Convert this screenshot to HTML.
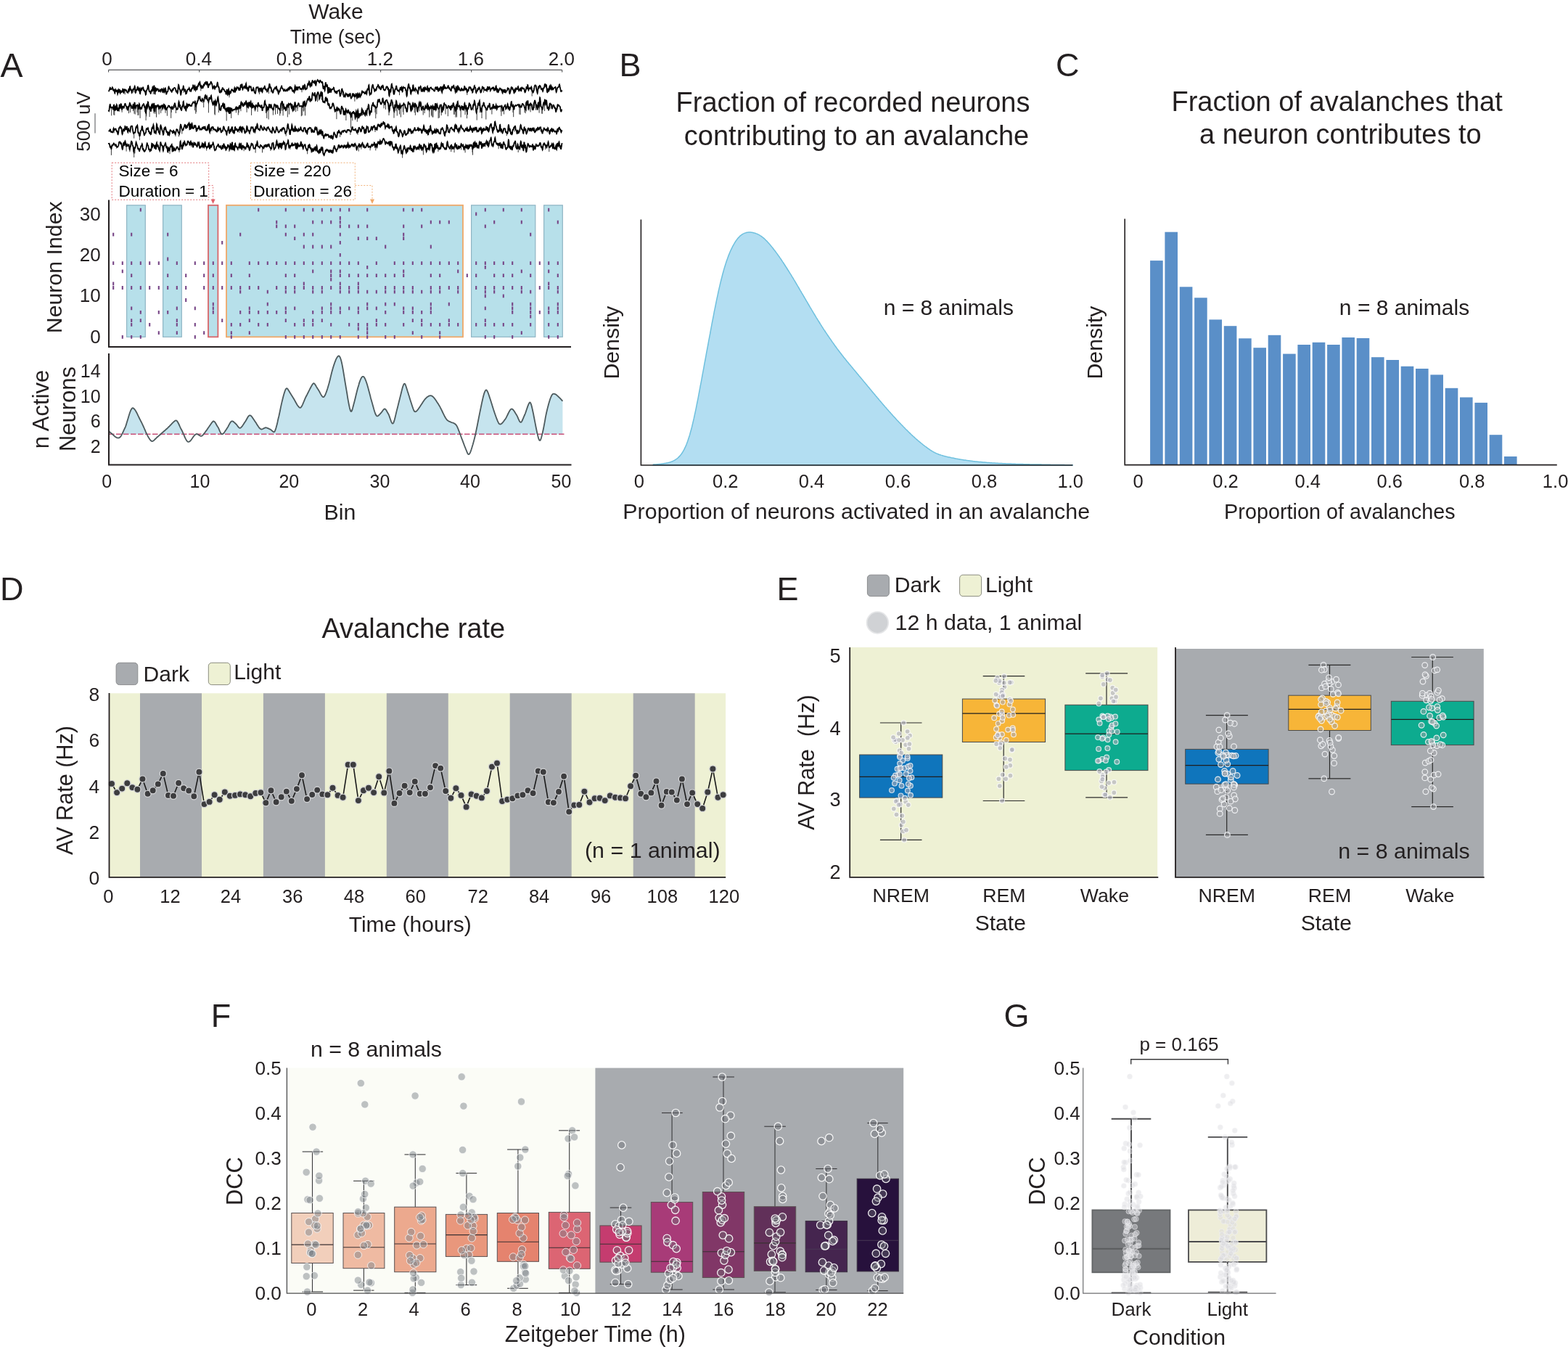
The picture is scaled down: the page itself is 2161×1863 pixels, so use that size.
<!DOCTYPE html>
<html lang="en">
<head>
<meta charset="utf-8">
<title>Neuronal avalanches figure</title>
<style>
html,body{margin:0;padding:0;background:#fff;}
body{width:2161px;height:1863px;font-family:"Liberation Sans", sans-serif;}
svg{display:block;}
text{white-space:pre;}
</style>
</head>
<body>
<svg width="2161" height="1863" viewBox="0 0 2161 1863" font-family='"Liberation Sans", sans-serif' fill="#231f20">
<g id="panel-a">
<text x="463" y="25.6" font-size="30" text-anchor="middle">Wake</text>
<text x="462.6" y="59.5" font-size="26.8" text-anchor="middle">Time (sec)</text>
<text x="0.5" y="105.8" font-size="46.5">A</text>
<line x1="149.6" y1="96.3" x2="774.6" y2="96.3" stroke="#58595b" stroke-width="1.2"/>
<line x1="149.6" y1="96.3" x2="149.6" y2="99.5" stroke="#58595b" stroke-width="1.2"/>
<text x="147.4" y="90.2" font-size="26" text-anchor="middle">0</text>
<line x1="274.6" y1="96.3" x2="274.6" y2="99.5" stroke="#58595b" stroke-width="1.2"/>
<text x="273.9" y="90.2" font-size="26" text-anchor="middle">0.4</text>
<line x1="399.6" y1="96.3" x2="399.6" y2="99.5" stroke="#58595b" stroke-width="1.2"/>
<text x="398.9" y="90.2" font-size="26" text-anchor="middle">0.8</text>
<line x1="524.6" y1="96.3" x2="524.6" y2="99.5" stroke="#58595b" stroke-width="1.2"/>
<text x="523.9" y="90.2" font-size="26" text-anchor="middle">1.2</text>
<line x1="649.6" y1="96.3" x2="649.6" y2="99.5" stroke="#58595b" stroke-width="1.2"/>
<text x="648.9" y="90.2" font-size="26" text-anchor="middle">1.6</text>
<line x1="774.6" y1="96.3" x2="774.6" y2="99.5" stroke="#58595b" stroke-width="1.2"/>
<text x="773.9" y="90.2" font-size="26" text-anchor="middle">2.0</text>
<text x="124.3" y="167.5" font-size="26" text-anchor="middle" transform="rotate(-90 124.3 167.5)">500 uV</text>
<line x1="131" y1="156.3" x2="131" y2="183.6" stroke="#6d6e71" stroke-width="1.2"/>
<path d="M172.2,123.9v6.4M184.7,122.8v4.8M211.2,124.2v5.7M212.8,122.3v3.6M214.5,121.3v4.8M227.8,121.4v4.2M253.2,120.7v7.1M255.7,125.2v5.3M275.4,113.2v5M276.8,118.1v7.2M313.6,129.3v2.9M316,130.2v4.1M357.4,122.8v7.2M370.4,121.7v7.3M372,118.1v4M373.5,120.6v6.6M406.9,119.1v7.3M416,123.2v4M420.9,121.1v2.6M448.8,113.5v3.4M471.8,124v7.5M488.9,133.3v6.5M496.8,132.7v2.6M550.5,124.4v6.8M558.4,121.5v3.5M562,121.3v3.6M572.4,121.7v5.7M578.4,121v3.5M607.2,121.4v4.5M617.3,118.5v2.8M640.9,121.2v3.5M643.8,127.1v3.9M666.4,120.8v6.9M675.5,123.7v3.2M676.7,122.6v2.2M733.2,125.4v7.2M736.1,121.9v3.3" fill="none" stroke="#3a3a3a" stroke-width="1" />
<path d="M149.6,126.2 149.8,125.9 150.1,125.3 150.3,124.7 150.6,124.4 150.8,124 151,123.3 151.3,122.3 151.5,121.3 151.8,120.7 152,120.9 152.2,121.7 152.5,122.6 152.7,123.1 153,123.1 153.2,122.8 153.4,122.6 153.7,122.7 153.9,122.8 154.2,122.5 154.4,121.8 154.7,120.9 154.9,120.3 155.1,120.5 155.4,121.5 155.6,122.8 155.9,124 156.1,124.7 156.3,124.8 156.6,124.5 156.8,123.9 157.1,123.5 157.3,123.7 157.5,124.8 157.8,126.6 158,128 158.3,128.4 158.5,127.2 158.7,125.2 159,123.7 159.2,123.2 159.5,123.9 159.7,124.9 159.9,125.6 160.2,125.9 160.4,125.8 160.7,125.4 160.9,124.9 161.1,124.6 161.4,125 161.6,126.4 161.9,128.3 162.1,129.3 162.3,128.7 162.6,126.6 162.8,124.6 163.1,123.8 163.3,124.5 163.5,125.7 163.8,126.3 164,125.8 164.3,124.6 164.5,123.7 164.8,123.7 165,124.8 165.2,126.4 165.5,127.9 165.7,128.4 166,127.7 166.2,126.3 166.4,125.2 166.7,125.1 166.9,125.8 167.2,126.7 167.4,127.1 167.6,127 167.9,126.7 168.1,126.4 168.4,126.2 168.6,125.8 168.8,124.9 169.1,123.6 169.3,122.6 169.6,122.8 169.8,124.2 170,126.4 170.3,128 170.5,128.1 170.8,126.9 171,125.1 171.2,123.8 171.5,123.4 171.7,123.6 172,123.9 172.2,123.9 172.4,123.7 172.7,123.5 172.9,123.8 173.2,124.4 173.4,124.8 173.6,124.8 173.9,124.5 174.1,124.4 174.4,124.9 174.6,125.8 174.9,126.6 175.1,127 175.3,126.9 175.6,126.7 175.8,126.9 176.1,127.4 176.3,127.7 176.5,127.1 176.8,125.7 177,124.1 177.3,123.3 177.5,123.7 177.7,124.8 178,125.4 178.2,124.8 178.5,123 178.7,121 178.9,119.5 179.2,119.3 179.4,120.3 179.7,121.9 179.9,123.3 180.1,123.9 180.4,123.7 180.6,123.3 180.9,123.4 181.1,124.3 181.3,125.8 181.6,127.3 181.8,127.9 182.1,127.5 182.3,126.6 182.5,125.6 182.8,124.7 183,123.9 183.3,123.2 183.5,122.6 183.7,122.4 184,122.5 184.2,122.8 184.5,123 184.7,122.8 185,122 185.2,120.8 185.4,119.5 185.7,118.9 185.9,119.6 186.2,121.7 186.4,124.4 186.6,126.8 186.9,127.8 187.1,127.5 187.4,126.2 187.6,124.8 187.8,123.9 188.1,123.8 188.3,124 188.6,124.1 188.8,123.5 189,122.4 189.3,121 189.5,120.1 189.8,119.8 190,120.3 190.2,121.5 190.5,122.8 190.7,123.9 191,124.3 191.2,123.7 191.4,122.5 191.7,121.5 191.9,121.4 192.2,122.7 192.4,124.9 192.6,127.3 192.9,128.8 193.1,129 193.4,127.9 193.6,126 193.8,123.9 194.1,122.2 194.3,121.7 194.6,122.3 194.8,123.5 195.1,124.1 195.3,123.8 195.5,122.7 195.8,121.9 196,121.7 196.3,121.9 196.5,121.9 196.7,121.2 197,120.4 197.2,120.4 197.5,121.5 197.7,123.1 197.9,124.4 198.2,124.7 198.4,124.4 198.7,124.3 198.9,124.9 199.1,125.7 199.4,126.2 199.6,126.1 199.9,125.8 200.1,126.3 200.3,127.7 200.6,129.5 200.8,130.5 201.1,130.2 201.3,128.7 201.5,126.8 201.8,125.2 202,124.4 202.3,124 202.5,123.8 202.7,123.5 203,122.8 203.2,121.7 203.5,120.4 203.7,119 203.9,118 204.2,117.8 204.4,118.5 204.7,119.9 204.9,121.7 205.2,123.5 205.4,124.8 205.6,125.7 205.9,126.2 206.1,126.3 206.4,126.1 206.6,126 206.8,126.2 207.1,127 207.3,128.1 207.6,128.9 207.8,128.8 208,127.7 208.3,126.1 208.5,124.8 208.8,124.3 209,124.6 209.2,125.2 209.5,125.4 209.7,124.5 210,122.8 210.2,121.1 210.4,120.2 210.7,120.7 210.9,122.3 211.2,124.2 211.4,125.3 211.6,124.5 211.9,122.1 212.1,119.2 212.4,117.7 212.6,118.8 212.8,122.3 213.1,126.3 213.3,128.9 213.6,129.1 213.8,127.2 214,124.6 214.3,122.4 214.5,121.3 214.8,121.6 215,122.7 215.3,124.2 215.5,125.1 215.7,125 216,124.1 216.2,123.1 216.5,122.5 216.7,122.6 216.9,123 217.2,123.1 217.4,122.8 217.7,122.5 217.9,122.7 218.1,123.8 218.4,125 218.6,125.8 218.9,125.9 219.1,125.6 219.3,125.5 219.6,125.6 219.8,125.6 220.1,125.1 220.3,124.2 220.5,123.5 220.8,123.7 221,124.7 221.3,125.8 221.5,126.2 221.7,125.9 222,124.9 222.2,123.9 222.5,123.2 222.7,122.7 222.9,122.4 223.2,122.3 223.4,122.7 223.7,123.5 223.9,124.8 224.1,126.2 224.4,127.2 224.6,127.3 224.9,126.4 225.1,124.8 225.4,123.2 225.6,122.6 225.8,123.2 226.1,124.7 226.3,126.2 226.6,126.9 226.8,126.4 227,125.2 227.3,123.7 227.5,122.3 227.8,121.4 228,121.4 228.2,122.6 228.5,124.6 228.7,126.8 229,128.6 229.2,129.5 229.4,129.5 229.7,128.8 229.9,127.8 230.2,127 230.4,126.5 230.6,126.4 230.9,126.4 231.1,126.1 231.4,125.4 231.6,124.2 231.8,122.6 232.1,120.9 232.3,119.8 232.6,119.4 232.8,119.9 233,120.9 233.3,121.8 233.5,122.4 233.8,122.5 234,122.4 234.2,122.5 234.5,122.8 234.7,123.5 235,124.2 235.2,124.8 235.5,124.9 235.7,124.9 235.9,125.1 236.2,125.7 236.4,126.5 236.7,126.8 236.9,126.3 237.1,125.1 237.4,123.7 237.6,123.1 237.9,123.3 238.1,124 238.3,124.4 238.6,124.2 238.8,123.4 239.1,122.4 239.3,121.7 239.5,121.5 239.8,121.4 240,121.3 240.3,121.1 240.5,120.9 240.7,120.9 241,121.1 241.2,121.3 241.5,121.7 241.7,122.1 241.9,122.9 242.2,124 242.4,125.2 242.7,126 242.9,126.3 243.1,125.9 243.4,125.5 243.6,125.4 243.9,125.8 244.1,126.8 244.3,127.9 244.6,128.4 244.8,127.8 245.1,125.9 245.3,123 245.6,120 245.8,117.8 246,116.8 246.3,117.1 246.5,118.1 246.8,119.6 247,121.1 247.2,122.2 247.5,122.9 247.7,123.1 248,123.4 248.2,124.1 248.4,125.6 248.7,127.6 248.9,129.5 249.2,130.5 249.4,130.2 249.6,128.8 249.9,127 250.1,125.5 250.4,124.4 250.6,123.7 250.8,123.2 251.1,123.1 251.3,123.4 251.6,123.7 251.8,123.5 252,122.5 252.3,121.1 252.5,119.6 252.8,118.9 253,119.3 253.2,120.7 253.5,122.6 253.7,124.3 254,125.3 254.2,125.4 254.4,124.8 254.7,124 254.9,123.4 255.2,123.4 255.4,124 255.7,125.2 255.9,126.6 256.1,127.9 256.4,128.8 256.6,129.1 256.9,128.9 257.1,128.4 257.3,127.5 257.6,126.5 257.8,125.5 258.1,124.6 258.3,124 258.5,123.7 258.8,123.4 259,123.1 259.3,122.9 259.5,123 259.7,123.1 260,123 260.2,122.4 260.5,121.6 260.7,121.2 260.9,121.7 261.2,122.9 261.4,124.3 261.7,125.3 261.9,125.5 262.1,125 262.4,124.4 262.6,124.2 262.9,124.7 263.1,125.3 263.3,125.6 263.6,125 263.8,123.8 264.1,122.4 264.3,121.5 264.5,121.4 264.8,121.8 265,122.1 265.3,121.7 265.5,120.6 265.8,119.2 266,118 266.2,117.4 266.5,117.6 266.7,118.3 267,119.6 267.2,121.2 267.4,122.7 267.7,123.3 267.9,122.6 268.2,120.7 268.4,119 268.6,118.5 268.9,119.6 269.1,121.7 269.4,123.5 269.6,124.1 269.8,123.3 270.1,121.9 270.3,120.6 270.6,120.2 270.8,120.9 271,122.2 271.3,123.3 271.5,123.3 271.8,122.1 272,120.3 272.2,118.8 272.5,118.4 272.7,118.7 273,118.8 273.2,118.1 273.4,116.6 273.7,115.3 273.9,115 274.2,115.7 274.4,116.5 274.6,116.3 274.9,115.1 275.1,113.7 275.4,113.2 275.6,114.2 275.9,116.3 276.1,118.3 276.3,119.2 276.6,118.9 276.8,118.1 277.1,117.9 277.3,118.8 277.5,120.3 277.8,121.4 278,121.5 278.3,120.7 278.5,119.5 278.7,118.9 279,119.1 279.2,119.9 279.5,120.7 279.7,120.9 279.9,120.2 280.2,118.7 280.4,117.3 280.7,116.5 280.9,116.6 281.1,117.3 281.4,117.8 281.6,117.5 281.9,116.3 282.1,114.9 282.3,114.1 282.6,114.3 282.8,115 283.1,115.3 283.3,114.8 283.5,113.7 283.8,113 284,113.3 284.3,114.5 284.5,115.7 284.7,116 285,115.2 285.2,113.9 285.5,113.1 285.7,113.3 286,114.6 286.2,116.4 286.4,118.3 286.7,119.7 286.9,120.4 287.2,120.3 287.4,119.4 287.6,118.1 287.9,116.8 288.1,116 288.4,115.8 288.6,116 288.8,116.3 289.1,116.6 289.3,116.5 289.6,116 289.8,115.2 290,114.3 290.3,113.5 290.5,112.9 290.8,112.7 291,112.9 291.2,113.4 291.5,114.2 291.7,114.8 292,115.2 292.2,115.8 292.4,116.8 292.7,118.5 292.9,120.3 293.2,121.7 293.4,122.2 293.6,122 293.9,121.5 294.1,120.9 294.4,120.4 294.6,119.7 294.8,119 295.1,118.6 295.3,119.1 295.6,120.3 295.8,121.7 296.1,122.5 296.3,122.2 296.5,121 296.8,120 297,119.5 297.3,119.7 297.5,120 297.7,120 298,119.8 298.2,119.6 298.5,119.3 298.7,118.7 298.9,117.6 299.2,116.1 299.4,114.7 299.7,113.8 299.9,114 300.1,115.2 300.4,117.1 300.6,118.8 300.9,119.8 301.1,119.8 301.3,119.5 301.6,119.8 301.8,121.2 302.1,123.3 302.3,125.4 302.5,126.8 302.8,127.3 303,127.4 303.3,127.5 303.5,127.6 303.7,127.2 304,126.2 304.2,125.1 304.5,124.6 304.7,125 304.9,125.9 305.2,126.3 305.4,125.9 305.7,124.8 305.9,123.5 306.2,122.5 306.4,121.7 306.6,121.2 306.9,121.1 307.1,121.5 307.4,122.3 307.6,123 307.8,123.3 308.1,123.2 308.3,123.1 308.6,123.1 308.8,123.5 309,124 309.3,124.5 309.5,125.1 309.8,125.7 310,126.1 310.2,126.1 310.5,126 310.7,126.1 311,126.8 311.2,128.1 311.4,129.2 311.7,129.5 311.9,128.6 312.2,126.8 312.4,125 312.6,123.8 312.9,123.9 313.1,125.2 313.4,127.3 313.6,129.3 313.8,130.2 314.1,129.7 314.3,127.7 314.6,125.2 314.8,123.3 315,122.9 315.3,124.2 315.5,126.6 315.8,129 316,130.2 316.3,129.9 316.5,128.5 316.7,127 317,126.4 317.2,126.8 317.5,127.6 317.7,128.2 317.9,128.1 318.2,127.2 318.4,126 318.7,124.9 318.9,124.2 319.1,123.6 319.4,123.2 319.6,123.1 319.9,123.2 320.1,123.7 320.3,124.3 320.6,124.8 320.8,125 321.1,124.9 321.3,124.8 321.5,125 321.8,125.6 322,126.4 322.3,126.6 322.5,125.8 322.7,123.9 323,122.1 323.2,121.4 323.5,122.6 323.7,124.8 323.9,126.5 324.2,126.6 324.4,125.1 324.7,123.3 324.9,122.4 325.1,122.8 325.4,123.7 325.6,124 325.9,123.4 326.1,122.1 326.4,120.8 326.6,120.2 326.8,120.4 327.1,120.9 327.3,121.3 327.6,121.4 327.8,121.2 328,120.8 328.3,120.6 328.5,121 328.8,122 329,123.2 329.2,123.9 329.5,123.6 329.7,122.6 330,121.7 330.2,121.7 330.4,122.7 330.7,123.8 330.9,123.6 331.2,121.9 331.4,119.2 331.6,117.3 331.9,117 332.1,118.3 332.4,120 332.6,120.7 332.8,119.8 333.1,117.9 333.3,116.4 333.6,116.3 333.8,118 334,120.5 334.3,122.5 334.5,123.2 334.8,122.7 335,121.7 335.2,121.1 335.5,121 335.7,120.9 336,120.4 336.2,119.6 336.5,118.8 336.7,118.7 336.9,119.2 337.2,120.2 337.4,121.1 337.7,121.7 337.9,121.6 338.1,120.8 338.4,119.3 338.6,117.5 338.9,115.8 339.1,115.3 339.3,116.5 339.6,118.8 339.8,121.2 340.1,122.5 340.3,122.5 340.5,121.5 340.8,120.6 341,120.6 341.3,121.6 341.5,123.2 341.7,124.6 342,125.4 342.2,125.3 342.5,124.2 342.7,122.5 342.9,120.7 343.2,119.4 343.4,119 343.7,119.4 343.9,120 344.1,120.3 344.4,120.1 344.6,119.6 344.9,119.3 345.1,119.2 345.3,119.1 345.6,119.2 345.8,119.7 346.1,120.9 346.3,122.6 346.6,124 346.8,124.7 347,124.5 347.3,124.1 347.5,124 347.8,124.5 348,124.9 348.2,124.8 348.5,123.9 348.7,122.6 349,121.5 349.2,121 349.4,121.3 349.7,122.1 349.9,123.4 350.2,124.7 350.4,125.9 350.6,126.8 350.9,127.3 351.1,127.7 351.4,128.3 351.6,128.7 351.8,128.8 352.1,128.2 352.3,126.8 352.6,125 352.8,123.2 353,121.6 353.3,120.5 353.5,120.2 353.8,120.3 354,120.6 354.2,120.8 354.5,120.8 354.7,120.8 355,120.6 355.2,120.2 355.4,120 355.7,120.4 355.9,121.6 356.2,123.4 356.4,125 356.7,125.7 356.9,125.1 357.1,123.9 357.4,122.8 357.6,122.3 357.9,122.1 358.1,121.9 358.3,121.7 358.6,121.9 358.8,123 359.1,124.6 359.3,125.6 359.5,125.5 359.8,124.2 360,122.6 360.3,121.9 360.5,122.3 360.7,123.6 361,125.2 361.2,126.5 361.5,127 361.7,126.4 361.9,125 362.2,123.3 362.4,122.1 362.7,121.7 362.9,121.9 363.1,122.1 363.4,122.1 363.6,121.9 363.9,121.5 364.1,120.9 364.3,120 364.6,119.1 364.8,118.8 365.1,119.6 365.3,121.3 365.5,122.8 365.8,123.5 366,123.3 366.3,122.7 366.5,122.6 366.8,122.9 367,123.4 367.2,123.8 367.5,124.2 367.7,124.9 368,125.8 368.2,126.6 368.4,126.5 368.7,125.6 368.9,124.1 369.2,122.5 369.4,121.6 369.6,121.5 369.9,121.9 370.1,122.2 370.4,121.7 370.6,120.3 370.8,118.4 371.1,116.7 371.3,115.8 371.6,115.9 371.8,116.8 372,118.1 372.3,119.6 372.5,120.7 372.8,121.1 373,120.8 373.2,120.4 373.5,120.6 373.7,121.5 374,122.7 374.2,123.7 374.4,124.3 374.7,124.7 374.9,125.2 375.2,125.9 375.4,126.8 375.6,127.4 375.9,127.8 376.1,127.8 376.4,127.5 376.6,126.6 376.9,125.4 377.1,124.1 377.3,123.2 377.6,122.7 377.8,122.7 378.1,122.7 378.3,122.5 378.5,122 378.8,121.2 379,120.6 379.3,120.7 379.5,121.4 379.7,122.2 380,122.3 380.2,121.6 380.5,120.3 380.7,119.3 380.9,119.2 381.2,120.2 381.4,121.8 381.7,123.5 381.9,124.6 382.1,124.8 382.4,124.3 382.6,123.6 382.9,123.8 383.1,125.1 383.3,127.1 383.6,128.7 383.8,129.1 384.1,128.2 384.3,126.8 384.5,125.7 384.8,125.4 385,125.6 385.3,126 385.5,126.2 385.7,125.8 386,124.8 386.2,123.5 386.5,122.4 386.7,121.7 387,121.4 387.2,121.2 387.4,120.5 387.7,119.5 387.9,118.6 388.2,118.5 388.4,119.4 388.6,120.7 388.9,121.7 389.1,122 389.4,121.9 389.6,121.8 389.8,122.1 390.1,122.7 390.3,123.5 390.6,124.2 390.8,124.9 391,125.3 391.3,125.4 391.5,125.1 391.8,124.5 392,123.7 392.2,123.2 392.5,123.2 392.7,123.8 393,124.5 393.2,125.1 393.4,125.4 393.7,125.6 393.9,125.5 394.2,125.4 394.4,125.1 394.6,124.6 394.9,124 395.1,123.4 395.4,123 395.6,123 395.8,123.6 396.1,124.4 396.3,124.9 396.6,124.5 396.8,123.5 397.1,122.2 397.3,121.4 397.5,121.3 397.8,121.9 398,122.8 398.3,123.3 398.5,122.8 398.7,121.6 399,120.4 399.2,120 399.5,120.5 399.7,121.4 399.9,122 400.2,121.6 400.4,120.7 400.7,120 400.9,120.2 401.1,120.9 401.4,121.7 401.6,121.9 401.9,121.6 402.1,121.5 402.3,122 402.6,123.3 402.8,124.7 403.1,125.6 403.3,125.8 403.5,125.6 403.8,125.3 404,124.9 404.3,124.6 404.5,124.7 404.7,125.2 405,126.1 405.2,127.1 405.5,127.5 405.7,126.6 405.9,124.6 406.2,121.8 406.4,119.5 406.7,118.5 406.9,119.1 407.2,120.7 407.4,122.4 407.6,123.5 407.9,124 408.1,123.9 408.4,123.1 408.6,122 408.8,120.7 409.1,119.9 409.3,119.9 409.6,120.9 409.8,122.3 410,123.4 410.3,123.6 410.5,123 410.8,121.8 411,120.8 411.2,120.1 411.5,120 411.7,120.2 412,120.3 412.2,120.2 412.4,119.9 412.7,119.7 412.9,120.1 413.2,121 413.4,122.1 413.6,122.8 413.9,123 414.1,122.7 414.4,122.4 414.6,122.2 414.8,122.1 415.1,122 415.3,122 415.6,122.3 415.8,122.7 416,123.2 416.3,123.3 416.5,123 416.8,122 417,120.7 417.3,119.3 417.5,118.4 417.7,118.2 418,118.9 418.2,120.2 418.5,121.6 418.7,122.5 418.9,122.2 419.2,120.8 419.4,118.8 419.7,117.3 419.9,116.9 420.1,117.3 420.4,118.2 420.6,119.5 420.9,121.1 421.1,122.5 421.3,123.3 421.6,123.2 421.8,122.6 422.1,122.1 422.3,122.1 422.5,122.3 422.8,122.2 423,121.5 423.3,120.4 423.5,119.1 423.7,117.8 424,116.5 424.2,115.5 424.5,115.1 424.7,115.5 424.9,116.3 425.2,116.6 425.4,116 425.7,114.5 425.9,113 426.1,112.3 426.4,112.9 426.6,114.4 426.9,116.2 427.1,117.8 427.4,118.9 427.6,119.2 427.8,118.6 428.1,117.2 428.3,115.7 428.6,114.9 428.8,115.3 429,116.6 429.3,117.8 429.5,118 429.8,116.7 430,114.5 430.2,112.3 430.5,111 430.7,110.9 431,111.7 431.2,112.7 431.4,113.3 431.7,113.3 431.9,112.9 432.2,112.5 432.4,112.5 432.6,113.1 432.9,113.9 433.1,114.4 433.4,113.9 433.6,112.6 433.8,111.4 434.1,111.2 434.3,112.2 434.6,114 434.8,115.8 435,117.1 435.3,117.5 435.5,117 435.8,115.6 436,113.9 436.2,112.5 436.5,111.8 436.7,111.6 437,111.4 437.2,110.9 437.5,110.2 437.7,110 437.9,110.4 438.2,111.3 438.4,112 438.7,112.1 438.9,111.8 439.1,111.4 439.4,111.5 439.6,112.3 439.9,113.2 440.1,113.9 440.3,113.9 440.6,113.3 440.8,112.2 441.1,111.2 441.3,110.7 441.5,110.8 441.8,111.4 442,112 442.3,112.4 442.5,112.4 442.7,112.5 443,112.9 443.2,113.6 443.5,114 443.7,114 443.9,113.4 444.2,113.2 444.4,113.8 444.7,115.4 444.9,117.6 445.1,119.8 445.4,121.4 445.6,122.2 445.9,122.2 446.1,121.4 446.3,120.2 446.6,119.3 446.8,119.5 447.1,121 447.3,123.2 447.6,124.7 447.8,124.2 448,121.5 448.3,117.8 448.5,114.8 448.8,113.5 449,114.2 449.2,115.9 449.5,117.6 449.7,118.7 450,119.1 450.2,118.9 450.4,118.2 450.7,117.5 450.9,117.2 451.2,118.1 451.4,120.3 451.6,123.4 451.9,126.4 452.1,128.2 452.4,128.1 452.6,126.1 452.8,123.3 453.1,120.9 453.3,120.1 453.6,121.5 453.8,124.1 454,126.7 454.3,127.7 454.5,126.7 454.8,124.7 455,123.1 455.2,122.8 455.5,123.9 455.7,125.5 456,126.6 456.2,126.7 456.4,125.9 456.7,124.8 456.9,123.8 457.2,123.1 457.4,122.9 457.7,123.1 457.9,123.2 458.1,123.3 458.4,123.1 458.6,122.9 458.9,122.7 459.1,122.4 459.3,121.9 459.6,121.1 459.8,120.5 460.1,120.7 460.3,121.8 460.5,123.5 460.8,125.1 461,125.8 461.3,125.8 461.5,125.8 461.7,126.2 462,127 462.2,127.6 462.5,127.4 462.7,126.6 462.9,125.9 463.2,125.9 463.4,126.6 463.7,127.6 463.9,128.4 464.1,128.6 464.4,128.1 464.6,127.1 464.9,126.2 465.1,125.7 465.3,125.6 465.6,125.4 465.8,125 466.1,124.8 466.3,124.8 466.5,125 466.8,125.1 467,124.8 467.3,124.3 467.5,124.1 467.8,125 468,126.9 468.2,129.3 468.5,131.3 468.7,132.3 469,132.1 469.2,131.2 469.4,130 469.7,129.1 469.9,128.6 470.2,128.1 470.4,127.2 470.6,125.6 470.9,123.9 471.1,122.7 471.4,122.5 471.6,123 471.8,124 472.1,124.8 472.3,125.5 472.6,125.9 472.8,126.2 473,126.7 473.3,127.7 473.5,129.6 473.8,131.8 474,133.3 474.2,133.3 474.5,132.2 474.7,131 475,131 475.2,132.1 475.4,133.2 475.7,133.4 475.9,132.3 476.2,130.5 476.4,129.1 476.6,128.7 476.9,129.1 477.1,129.8 477.4,130.3 477.6,130.4 477.9,130.1 478.1,129.8 478.3,130.1 478.6,131.1 478.8,132.1 479.1,132.6 479.3,132.2 479.5,131.1 479.8,130.2 480,130.1 480.3,130.8 480.5,131.9 480.7,132.6 481,132.5 481.2,132 481.5,131.2 481.7,130.5 481.9,129.8 482.2,129.2 482.4,128.9 482.7,129.1 482.9,130.1 483.1,131.7 483.4,133.6 483.6,135 483.9,135.5 484.1,135.1 484.3,134.3 484.6,133.7 484.8,133.6 485.1,133.7 485.3,133.3 485.5,132.1 485.8,130.4 486,129.2 486.3,129.3 486.5,130.3 486.7,131.5 487,131.9 487.2,131.3 487.5,130.4 487.7,129.8 488,130.2 488.2,131.2 488.4,132.3 488.7,133 488.9,133.3 489.2,133.4 489.4,133.3 489.6,132.8 489.9,131.9 490.1,130.8 490.4,129.8 490.6,129.2 490.8,129.2 491.1,130 491.3,131.3 491.6,133 491.8,134.5 492,135.2 492.3,134.5 492.5,132.9 492.8,130.9 493,129.3 493.2,128.7 493.5,129.1 493.7,130.4 494,132 494.2,133.5 494.4,134.3 494.7,134.1 494.9,132.8 495.2,131.1 495.4,129.6 495.6,129.1 495.9,129.8 496.1,131.1 496.4,132.3 496.6,132.9 496.8,132.7 497.1,132 497.3,131.5 497.6,131.3 497.8,131.2 498.1,130.7 498.3,129.5 498.5,127.7 498.8,126.2 499,125.7 499.3,126.2 499.5,127 499.7,127.4 500,127.1 500.2,126.6 500.5,126.4 500.7,126.7 500.9,127.2 501.2,127.5 501.4,127.4 501.7,127.1 501.9,127.1 502.1,127.6 502.4,128.3 502.6,129 502.9,129.3 503.1,129.2 503.3,128.8 503.6,128.2 503.8,127.5 504.1,126.6 504.3,126.1 504.5,126.5 504.8,127.6 505,128.9 505.3,129.5 505.5,128.7 505.7,126.7 506,124.6 506.2,123.2 506.5,122.8 506.7,123.1 506.9,123.6 507.2,123.7 507.4,123.1 507.7,121.6 507.9,119.4 508.2,117.7 508.4,117.4 508.6,119.4 508.9,122.9 509.1,126.7 509.4,129.4 509.6,130.4 509.8,130.1 510.1,129.4 510.3,128.7 510.6,128.5 510.8,128.8 511,129.2 511.3,129.6 511.5,129.4 511.8,128.2 512,126.1 512.2,123.5 512.5,121.1 512.7,119.4 513,118.4 513.2,117.7 513.4,117.1 513.7,116.8 513.9,117 514.2,118 514.4,119.4 514.6,120.8 514.9,121.5 515.1,121.8 515.4,122.1 515.6,122.9 515.8,124.1 516.1,125.2 516.3,125.7 516.6,125.3 516.8,124.4 517,123.5 517.3,123.2 517.5,123.5 517.8,124.1 518,124.6 518.3,124.6 518.5,124.2 518.7,123.4 519,122.2 519.2,121 519.5,120.1 519.7,119.6 519.9,119.4 520.2,119.2 520.4,118.8 520.7,118 520.9,117.3 521.1,116.8 521.4,117.1 521.6,117.9 521.9,119.2 522.1,120.5 522.3,121.3 522.6,121.3 522.8,120.8 523.1,120.2 523.3,120 523.5,120.5 523.8,121.4 524,122.3 524.3,123 524.5,123.3 524.7,123.3 525,123 525.2,122.2 525.5,121 525.7,119.7 525.9,119.1 526.2,119.3 526.4,119.9 526.7,120.2 526.9,119.6 527.1,118.5 527.4,117.6 527.6,117.6 527.9,118.5 528.1,120 528.4,121.7 528.6,123 528.8,123.6 529.1,123.6 529.3,123.5 529.6,123.6 529.8,124.1 530,124.5 530.3,124.7 530.5,124.5 530.8,124 531,123.5 531.2,123.1 531.5,122.7 531.7,122.1 532,121.3 532.2,120.4 532.4,119.7 532.7,119.5 532.9,119.7 533.2,119.9 533.4,119.7 533.6,119.4 533.9,119.6 534.1,120.7 534.4,122.2 534.6,123.3 534.8,123.4 535.1,122.7 535.3,122.4 535.6,123.5 535.8,126.3 536,129.6 536.3,131.8 536.5,132.1 536.8,130.3 537,127.6 537.2,125 537.5,123.5 537.7,123.4 538,124.3 538.2,125.5 538.5,126 538.7,125 538.9,122.7 539.2,119.8 539.4,117.3 539.7,116 539.9,115.8 540.1,116.8 540.4,118.3 540.6,119.8 540.9,120.7 541.1,121 541.3,121 541.6,121.6 541.8,123.1 542.1,125.3 542.3,127.5 542.5,129.1 542.8,129.9 543,129.9 543.3,129.4 543.5,128.5 543.7,127.2 544,125.8 544.2,124.3 544.5,123.3 544.7,122.8 544.9,122.9 545.2,122.9 545.4,122.4 545.7,121.2 545.9,119.7 546.1,118.7 546.4,118.7 546.6,119.9 546.9,121.6 547.1,123 547.3,123.7 547.6,123.9 547.8,124.2 548.1,124.7 548.3,125.2 548.6,125.2 548.8,124.8 549,124.5 549.3,124.8 549.5,125.5 549.8,126.1 550,126 550.2,125.3 550.5,124.4 550.7,123.9 551,123.4 551.2,122.7 551.4,121.7 551.7,120.8 551.9,120.7 552.2,121.4 552.4,122.8 552.6,123.9 552.9,124 553.1,123 553.4,121.5 553.6,120.5 553.8,120.9 554.1,122.6 554.3,124.8 554.6,126.3 554.8,126.1 555,124.4 555.3,122.1 555.5,120.4 555.8,119.9 556,120.3 556.2,120.9 556.5,121.2 556.7,121.1 557,121.1 557.2,121 557.4,120.9 557.7,120.7 557.9,120.6 558.2,120.8 558.4,121.5 558.7,122.3 558.9,123 559.1,123.4 559.4,123.8 559.6,124.7 559.9,126.5 560.1,128.8 560.3,131.1 560.6,132.3 560.8,131.9 561.1,129.9 561.3,127.1 561.5,124.5 561.8,122.5 562,121.3 562.3,120.1 562.5,118.8 562.7,117.4 563,116.3 563.2,116.1 563.5,116.9 563.7,118.5 563.9,120.2 564.2,121.4 564.4,121.7 564.7,121.3 564.9,121.1 565.1,121.5 565.4,122.9 565.6,125 565.9,127.3 566.1,128.9 566.3,129.3 566.6,128.4 566.8,126.6 567.1,125 567.3,124.2 567.5,124.3 567.8,124.9 568,125.3 568.3,125 568.5,123.6 568.8,121.5 569,119 569.2,117.4 569.5,117.3 569.7,119 570,121.5 570.2,123.8 570.4,125 570.7,125.1 570.9,124.7 571.2,124.3 571.4,124.1 571.6,123.8 571.9,123.2 572.1,122.4 572.4,121.7 572.6,121.4 572.8,121.8 573.1,122.5 573.3,123.3 573.6,123.8 573.8,123.9 574,124 574.3,124.2 574.5,124.8 574.8,125.4 575,126 575.2,126.5 575.5,127.3 575.7,128.3 576,128.8 576.2,128.2 576.4,126.2 576.7,123.5 576.9,121.2 577.2,120.3 577.4,120.5 577.6,121.1 577.9,121.3 578.1,121.2 578.4,121 578.6,120.9 578.9,120.6 579.1,120.1 579.3,119.4 579.6,118.9 579.8,119.2 580.1,120.5 580.3,122.6 580.5,124.7 580.8,125.8 581,125.7 581.3,124.8 581.5,123.7 581.7,123.4 582,123.9 582.2,124.9 582.5,125.5 582.7,125.2 582.9,124 583.2,122.3 583.4,121.1 583.7,121 583.9,122 584.1,123.6 584.4,125.2 584.6,125.9 584.9,125.6 585.1,124.3 585.3,122.5 585.6,121 585.8,120.3 586.1,120.6 586.3,121.6 586.5,122.6 586.8,123.1 587,122.9 587.3,122.7 587.5,122.9 587.7,123.4 588,123.6 588.2,122.9 588.5,121.3 588.7,119.8 589,119.3 589.2,120.4 589.4,122.5 589.7,124.4 589.9,125.1 590.2,124.2 590.4,122.7 590.6,121.9 590.9,122.2 591.1,123.5 591.4,124.8 591.6,125.3 591.8,124.7 592.1,123.4 592.3,122.1 592.6,121.3 592.8,121.1 593,121.1 593.3,121 593.5,120.8 593.8,120.4 594,120.3 594.2,120.6 594.5,121.2 594.7,121.9 595,122.5 595.2,122.7 595.4,122.8 595.7,122.8 595.9,122.8 596.2,122.8 596.4,122.7 596.6,122.7 596.9,123 597.1,123.6 597.4,124.2 597.6,124.7 597.8,124.8 598.1,124.8 598.3,125 598.6,125.4 598.8,125.6 599.1,125.3 599.3,124.2 599.5,122.8 599.8,121.6 600,120.7 600.3,120.3 600.5,120.1 600.7,120.1 601,120.5 601.2,121.3 601.5,122.3 601.7,123 601.9,123 602.2,122.2 602.4,120.9 602.7,120 602.9,120.1 603.1,121.4 603.4,123.1 603.6,124.7 603.9,125.5 604.1,125.6 604.3,125 604.6,124 604.8,122.7 605.1,122 605.3,122.2 605.5,123.3 605.8,124.2 606,124 606.3,122.7 606.5,121.2 606.7,120.6 607,120.9 607.2,121.4 607.5,121.4 607.7,120.7 607.9,120 608.2,120.2 608.4,121.7 608.7,124 608.9,126.2 609.2,127.2 609.4,126.5 609.6,124.3 609.9,121.7 610.1,119.9 610.4,119.5 610.6,120.4 610.8,121.9 611.1,122.7 611.3,122.3 611.6,120.5 611.8,118.3 612,116.9 612.3,117.1 612.5,118.6 612.8,120.5 613,121.7 613.2,121.8 613.5,121.2 613.7,120.5 614,120.3 614.2,120.6 614.4,121.2 614.7,121.7 614.9,121.9 615.2,121.9 615.4,121.8 615.6,121.7 615.9,121.7 616.1,121.6 616.4,121.2 616.6,120.6 616.8,120 617.1,119.2 617.3,118.5 617.6,118 617.8,118 618,118.9 618.3,120.3 618.5,121.5 618.8,121.8 619,121.4 619.3,121.1 619.5,121.3 619.7,122.1 620,122.9 620.2,123.4 620.5,123.5 620.7,123.6 620.9,123.9 621.2,124.4 621.4,125 621.7,125.1 621.9,124.2 622.1,122.6 622.4,120.8 622.6,119.6 622.9,119.4 623.1,120 623.3,120.7 623.6,121.1 623.8,121 624.1,120.6 624.3,120.1 624.5,119.5 624.8,118.8 625,118.2 625.3,117.9 625.5,118.4 625.7,119.8 626,121.4 626.2,122.5 626.5,122.6 626.7,122.3 626.9,122.6 627.2,124 627.4,125.8 627.7,126.9 627.9,126.3 628.1,124.1 628.4,121.5 628.6,120.1 628.9,120.5 629.1,122.4 629.4,124.6 629.6,125.9 629.8,125.5 630.1,123.5 630.3,120.8 630.6,118.5 630.8,117.7 631,118.7 631.3,120.8 631.5,122.8 631.8,123.4 632,122.7 632.2,121.5 632.5,120.7 632.7,120.9 633,121.7 633.2,122.6 633.4,123.2 633.7,123.5 633.9,124 634.2,124.5 634.4,125 634.6,125.1 634.9,125 635.1,124.5 635.4,123.7 635.6,122.8 635.8,122 636.1,121.7 636.3,122.2 636.6,123.1 636.8,124 637,124.6 637.3,124.6 637.5,124.3 637.8,123.8 638,123.3 638.2,123 638.5,123.2 638.7,123.9 639,124.7 639.2,124.7 639.5,123.6 639.7,121.8 639.9,120 640.2,119.1 640.4,119.3 640.7,120.1 640.9,121.2 641.1,122.2 641.4,123 641.6,123.3 641.9,123.2 642.1,122.7 642.3,122.1 642.6,121.9 642.8,122.4 643.1,123.5 643.3,125 643.5,126.4 643.8,127.1 644,126.9 644.3,126 644.5,124.8 644.7,124.1 645,124.3 645.2,124.8 645.5,125 645.7,124.3 645.9,122.8 646.2,121.1 646.4,120.1 646.7,120 646.9,120.5 647.1,121 647.4,121.2 647.6,120.9 647.9,120.4 648.1,120.1 648.3,120.2 648.6,120.7 648.8,121.6 649.1,122.7 649.3,123.8 649.6,124.4 649.8,124.3 650,123.8 650.3,123.3 650.5,123.6 650.8,124.8 651,126.5 651.2,127.5 651.5,127.2 651.7,125.6 652,123.6 652.2,122.4 652.4,122.3 652.7,122.8 652.9,122.9 653.2,121.8 653.4,120 653.6,118.5 653.9,118.1 654.1,118.8 654.4,119.8 654.6,120.3 654.8,120.3 655.1,120.5 655.3,121.5 655.6,123.3 655.8,125.5 656,127.2 656.3,127.8 656.5,127.3 656.8,126.4 657,125.7 657.2,125.5 657.5,125.7 657.7,125.5 658,124.7 658.2,123.4 658.4,122.3 658.7,122.1 658.9,122.8 659.2,123.4 659.4,123.4 659.7,122.5 659.9,121.3 660.1,120.5 660.4,120.4 660.6,120.9 660.9,121.6 661.1,122.2 661.3,122.8 661.6,123.5 661.8,124.6 662.1,125.9 662.3,127 662.5,127.5 662.8,127.3 663,126.8 663.3,126.1 663.5,125.5 663.7,124.8 664,123.9 664.2,122.6 664.5,121.2 664.7,120.1 664.9,119.7 665.2,120.1 665.4,121.1 665.7,121.8 665.9,121.9 666.1,121.4 666.4,120.8 666.6,120.7 666.9,121.2 667.1,122.1 667.3,122.9 667.6,123.4 667.8,123.8 668.1,124.2 668.3,124.5 668.5,124.6 668.8,124.5 669,124.2 669.3,123.8 669.5,123.4 669.8,123.1 670,123 670.2,123.3 670.5,124 670.7,124.9 671,125.3 671.2,124.7 671.4,123 671.7,121 671.9,119.8 672.2,119.9 672.4,121 672.6,122.4 672.9,123.3 673.1,123.3 673.4,122.7 673.6,121.8 673.8,120.9 674.1,120.2 674.3,119.8 674.6,119.9 674.8,120.5 675,121.4 675.3,122.6 675.5,123.7 675.8,124.4 676,124.6 676.2,124.2 676.5,123.4 676.7,122.6 677,122.1 677.2,122 677.4,122.1 677.7,122 677.9,121.6 678.2,121.2 678.4,120.9 678.6,121.1 678.9,121.8 679.1,122.2 679.4,122 679.6,121.2 679.9,120.3 680.1,120.3 680.3,121.5 680.6,123.3 680.8,124.6 681.1,124.6 681.3,123.7 681.5,122.6 681.8,122.3 682,122.7 682.3,123.4 682.5,123.7 682.7,123.2 683,121.8 683.2,120 683.5,118.7 683.7,118.5 683.9,119.6 684.2,121.6 684.4,123.8 684.7,125.3 684.9,125.8 685.1,125.1 685.4,123.7 685.6,122.6 685.9,122.6 686.1,123.9 686.3,125.8 686.6,127.1 686.8,127 687.1,126 687.3,124.9 687.5,124.4 687.8,124.4 688,124.3 688.3,123.7 688.5,122.6 688.7,121.8 689,121.5 689.2,121.7 689.5,122.1 689.7,122.3 690,122.3 690.2,122.5 690.4,123.1 690.7,124 690.9,124.5 691.2,124.3 691.4,123.7 691.6,123.5 691.9,124.5 692.1,126.4 692.4,128 692.6,128.3 692.8,127.2 693.1,125.6 693.3,124.4 693.6,123.9 693.8,124 694,124.4 694.3,125.1 694.5,126.1 694.8,126.9 695,127 695.2,126.1 695.5,124.6 695.7,123.5 696,123.5 696.2,124.7 696.4,126.3 696.7,127.4 696.9,127.5 697.2,126.9 697.4,126 697.6,125.4 697.9,125 698.1,125 698.4,125.1 698.6,125.2 698.8,125 699.1,124.2 699.3,123 699.6,121.8 699.8,121.3 700.1,121.5 700.3,122.2 700.5,122.7 700.8,122.7 701,122.4 701.3,122.3 701.5,123 701.7,124.5 702,126.5 702.2,128.2 702.5,129 702.7,128.8 702.9,128 703.2,126.9 703.4,126.1 703.7,125.3 703.9,124.3 704.1,123 704.4,121.4 704.6,120.3 704.9,120.1 705.1,120.8 705.3,121.8 705.6,122.3 705.8,122.1 706.1,121.6 706.3,121.4 706.5,121.9 706.8,122.9 707,123.8 707.3,124 707.5,124 707.7,124.4 708,125.4 708.2,127 708.5,128 708.7,127.7 708.9,126.2 709.2,124.3 709.4,123.3 709.7,123.7 709.9,125 710.2,126.1 710.4,125.8 710.6,124.3 710.9,122.5 711.1,121.4 711.4,121.5 711.6,122.1 711.8,122.6 712.1,122.8 712.3,122.9 712.6,123 712.8,123.2 713,122.9 713.3,122.1 713.5,120.8 713.8,119.6 714,119.3 714.2,120 714.5,121.5 714.7,123.3 715,124.7 715.2,125.1 715.4,124.7 715.7,124 715.9,123.6 716.2,123.7 716.4,123.9 716.6,123.7 716.9,122.9 717.1,121.9 717.4,121.6 717.6,122.4 717.8,124 718.1,125.3 718.3,125.3 718.6,124.1 718.8,122.4 719,121 719.3,120.5 719.5,120.7 719.8,121.3 720,121.7 720.3,121.9 720.5,121.6 720.7,121.4 721,121.5 721.2,122 721.5,122.4 721.7,122.6 721.9,122.4 722.2,122.2 722.4,122.5 722.7,123.5 722.9,124.9 723.1,126.3 723.4,127.1 723.6,127.3 723.9,126.9 724.1,126.3 724.3,125.6 724.6,124.8 724.8,123.8 725.1,122.4 725.3,121 725.5,120 725.8,120.1 726,121.1 726.3,122.1 726.5,122 726.7,120.6 727,118.4 727.2,117 727.5,117.2 727.7,119.3 727.9,121.9 728.2,123.8 728.4,124.3 728.7,123.7 728.9,122.6 729.1,121.8 729.4,121.5 729.6,121.7 729.9,121.9 730.1,121.8 730.4,121.5 730.6,121 730.8,121 731.1,121.6 731.3,122.4 731.6,122.7 731.8,122 732,120.7 732.3,119.8 732.5,120.2 732.8,121.9 733,124 733.2,125.4 733.5,125.6 733.7,125.4 734,125.4 734.2,126.1 734.4,127.1 734.7,127.5 734.9,127.2 735.2,126.3 735.4,125.3 735.6,124.2 735.9,123.2 736.1,121.9 736.4,120.7 736.6,119.5 736.8,118.5 737.1,117.9 737.3,117.5 737.6,117.4 737.8,117.4 738,117.5 738.3,117.5 738.5,117.8 738.8,118.7 739,120.2 739.2,122 739.5,123.5 739.7,124.5 740,125.5 740.2,126.7 740.5,127.9 740.7,128.4 740.9,127.5 741.2,125.3 741.4,122.7 741.7,120.9 741.9,120.3 742.1,120.8 742.4,121.5 742.6,121.6 742.9,121 743.1,119.9 743.3,118.8 743.6,118.1 743.8,117.8 744.1,117.9 744.3,118.1 744.5,118.4 744.8,118.8 745,119.4 745.3,120.4 745.5,121.4 745.7,122.4 746,123.1 746.2,123.3 746.5,123.1 746.7,122.5 746.9,122 747.2,122 747.4,122.7 747.7,124 747.9,125.3 748.1,125.8 748.4,125.2 748.6,123.7 748.9,122.1 749.1,121.1 749.3,121 749.6,121.2 749.8,121.2 750.1,120.2 750.3,118.6 750.6,117 750.8,116.1 751,116 751.3,116.8 751.5,117.8 751.8,118.6 752,118.9 752.2,118.5 752.5,117.6 752.7,116.9 753,117.2 753.2,118.7 753.4,121.1 753.7,123.8 753.9,125.9 754.2,127.1 754.4,127.2 754.6,126.5 754.9,125 755.1,123.4 755.4,122.4 755.6,122.5 755.8,123.5 756.1,124.8 756.3,125.4 756.6,125 756.8,123.4 757,121.2 757.3,119.5 757.5,119 757.8,119.9 758,121.6 758.2,122.8 758.5,122.6 758.7,121.1 759,119 759.2,117.6 759.4,117.9 759.7,119.8 759.9,122.1 760.2,123.6 760.4,123.5 760.7,122.3 760.9,121 761.1,120.5 761.4,121 761.6,122.1 761.9,123 762.1,123.5 762.3,123.4 762.6,122.8 762.8,122.2 763.1,121.7 763.3,121.4 763.5,121.3 763.8,121.1 764,120.9 764.3,120.8 764.5,120.8 764.7,120.8 765,120.5 765.2,120 765.5,119.8 765.7,120.5 765.9,122.3 766.2,124.5 766.4,126.2 766.7,126.9 766.9,126.5 767.1,125.5 767.4,124.3 767.6,123.2 767.9,122.3 768.1,121.5 768.3,120.9 768.6,120.5 768.8,120.3 769.1,120.3 769.3,120.4 769.5,120.4 769.8,120.1 770,119.4 770.3,118.4 770.5,117.4 770.8,116.6 771,116.4 771.2,117 771.5,118.2 771.7,119.7 772,120.9 772.2,121.8 772.4,122.7 772.7,123.9 772.9,125.2 773.2,126 773.4,126.1 773.6,125.7 773.9,125.1 774.1,125.1 774.4,125.5 774.6,126" fill="none" stroke="#000" stroke-width="1.75" stroke-linejoin="miter"/>
<path d="M153.7,148.2v11.2M156.8,144.8v13.6M157.3,145.6v7.6M157.8,149.6v9.3M168.1,150.6v4.2M173.9,146.2v4.4M177.5,147.6v8.6M179.7,144.5v10.5M183.5,144.3v8.8M185,146.1v10.6M186.2,146.4v11.2M189,145.2v9.7M190,146.4v12.6M191,149.8v8.9M193.1,150v12.9M199.6,147.7v6.6M201.1,155.6v10.3M201.8,146.8v13.6M206.1,150.2v10.9M211.2,146.5v6.8M211.9,145.3v11M212.4,143.1v8.7M212.6,145.5v5.1M213.8,149.9v7M215.5,148.3v13.3M219.1,149.9v7.6M221.7,146.8v9M223.2,145.5v7.1M228,146.3v9.4M230.4,148.4v11.3M235.7,149.7v13.1M236.2,149v5.9M240.5,143.1v5.8M242.4,148v8M246.8,140.6v5.5M253.2,143.4v5.4M255.2,147.1v5M268.4,141.5v10.6M269.8,145.7v11.1M270.6,144.3v10.1M279.2,137.4v4.3M280.7,139.3v8.8M287.4,140.7v14.7M295.8,143.7v13.7M296.3,143.8v14.8M301.3,141.4v13.7M312.2,151.9v14.6M315,147.8v6.4M317.2,148.9v6.1M318.7,150.6v12.3M325.4,147.8v7.6M328.3,149.8v8.7M329,148.8v6.6M331.9,143.2v10M332.4,140.8v7.3M340.1,145.6v9.2M346.6,148.2v10.7M355,146.3v7.7M366.3,144.7v8.6M366.5,144.6v11.3M367.7,151.3v11.6M370.1,149.7v14.8M376.4,151.6v7M379.5,145.6v12.1M379.7,145.2v6.5M382.6,145.9v11M385.7,151.7v7.7M386.5,149.5v6.9M388.4,140.4v12.5M389.4,142.2v7.1M390.1,145.7v13.7M390.3,145.3v6.7M396.3,146.5v14.9M397.3,144.5v4.5M398.5,144.3v13.3M407.6,147.2v7M410,145v7.9M410.3,144.8v4.8M415.3,146.1v14.1M416.3,146.4v12.8M418.2,142v11.2M418.5,143.8v9.8M418.9,145.6v6.8M420.6,144.9v14.4M437.5,128.5v11.8M439.6,131.9v6.7M443.2,132v5.8M463.9,150.2v14M470.6,147.5v4.2M476.9,151.1v14.9M483.6,161.6v15M485.8,155.3v11M492.3,160v7.8M493.2,151.9v12.3M499.7,154.4v4.6M500.2,152.9v5.7M505.7,153.1v7M512.5,146.2v8.8M517,146.3v8.6M517.8,148.5v14.7M519,148.2v9.1M529.1,141.1v8.2M531.5,138.8v12M535.1,142.9v7.9M536,149.8v9.2M543,152.5v10M545.9,140.1v13.2M546.1,139.1v4.9M547.3,146.9v12.6M550.5,149.4v8.1M552.4,148.7v12.8M555.3,145.4v9M556,143.7v14.3M558.2,144.8v5.1M571.2,146.8v8.5M572.4,143.9v14.9M577.4,144v4.7M578.1,141.9v11.4M583.2,146.6v11.9M585.1,150.9v5.2M588.5,144.8v6.1M591.8,150.4v11.2M594.5,147v11.1M594.7,147.6v12.1M595.9,147.8v13.7M596.9,148.1v13.5M604.1,149.7v13.4M605.3,149.3v13.1M605.8,148.1v7.4M608.2,145.4v13.7M614,144.3v13.1M617.3,147.3v12.9M625.7,146.4v11.3M626,147v10.7M627.9,152.4v9.3M629.1,146.7v12.7M629.4,149.4v12.1M635.1,148.3v13.4M641.1,148.1v10.1M643.5,152.1v11.1M644.5,149.2v8.9M646.9,142.3v6M652.2,144.3v7.9M657.2,150.9v14.7M661.6,146.8v8.4M664,151.8v11.2M669.8,150.3v14.3M677.9,148v9.5M690.4,146.6v7.5M690.9,147.6v12.2M694.5,147.3v10.2M696.7,146.5v5.5M707,145.4v9.6M707.7,147.3v13.9M715.9,145.2v12.4M717.1,147.7v10.3M723.1,148.7v6.3M724.1,151.8v4.4M725.3,141.2v12.2M728.9,147.7v4.7M731.1,142.5v11.9M736.6,139.7v9.5M738.5,144.6v7.1M743.1,146.2v9.4M744.8,139.1v8M746.9,149.7v6.8M747.2,150.3v6.6M750.6,138.9v14.1M758,142.5v7.9M768.1,146.5v4.9" fill="none" stroke="#3a3a3a" stroke-width="1" />
<path d="M149.6,151.8 149.8,152.6 150.1,153 150.3,152.4 150.6,151 150.8,149.1 151,147.1 151.3,145.4 151.5,144.3 151.8,144 152,144.5 152.2,145.7 152.5,146.9 152.7,147.9 153,148.4 153.2,148.6 153.4,148.5 153.7,148.2 153.9,148.1 154.2,147.9 154.4,147.8 154.7,147.7 154.9,147.7 155.1,148.1 155.4,149 155.6,149.9 155.9,150.3 156.1,149.7 156.3,148.1 156.6,146.2 156.8,144.8 157.1,144.6 157.3,145.6 157.5,147.5 157.8,149.6 158,151.2 158.3,151.6 158.5,150.8 158.7,149.1 159,147.4 159.2,146.9 159.5,147.8 159.7,149.6 159.9,150.9 160.2,150.6 160.4,148.7 160.7,146.2 160.9,144.7 161.1,145.1 161.4,147.2 161.6,150 161.9,152.3 162.1,153 162.3,152.1 162.6,150.4 162.8,149.1 163.1,149.1 163.3,150.4 163.5,152 163.8,152.3 164,150.6 164.3,147.5 164.5,144.7 164.8,143.8 165,145.1 165.2,147.4 165.5,149.1 165.7,149.1 166,147.6 166.2,145.5 166.4,143.9 166.7,143.2 166.9,143.4 167.2,144.3 167.4,145.9 167.6,148 167.9,149.8 168.1,150.6 168.4,150.3 168.6,149.1 168.8,147.7 169.1,146.8 169.3,146.5 169.6,146.5 169.8,147 170,147.7 170.3,148.4 170.5,148.8 170.8,148.7 171,147.9 171.2,146.8 171.5,145.7 171.7,144.7 172,143.9 172.2,143.2 172.4,142.9 172.7,143 172.9,143.5 173.2,144.4 173.4,145.3 173.6,145.9 173.9,146.2 174.1,146.4 174.4,146.7 174.6,147.2 174.9,147.9 175.1,148.9 175.3,150.1 175.6,151.1 175.8,151.4 176.1,150.7 176.3,149.1 176.5,147.5 176.8,146.6 177,146.6 177.3,147.2 177.5,147.6 177.7,147.4 178,146.4 178.2,144.9 178.5,143.4 178.7,142.3 178.9,141.9 179.2,142.3 179.4,143.3 179.7,144.5 179.9,145.3 180.1,145.4 180.4,145.2 180.6,145.1 180.9,145.7 181.1,146.8 181.3,148.1 181.6,149 181.8,149.3 182.1,149.2 182.3,149 182.5,148.6 182.8,147.8 183,146.5 183.3,145.1 183.5,144.3 183.7,144.5 184,145.9 184.2,147.6 184.5,148.7 184.7,148.2 185,146.1 185.2,143.4 185.4,141.6 185.7,141.7 185.9,143.7 186.2,146.4 186.4,148.5 186.6,149.2 186.9,148.8 187.1,147.9 187.4,146.8 187.6,146 187.8,145.4 188.1,145.3 188.3,145.5 188.6,145.8 188.8,145.7 189,145.2 189.3,144.6 189.5,144.5 189.8,145.1 190,146.4 190.2,147.9 190.5,149.3 190.7,150.1 191,149.8 191.2,148.4 191.4,146.1 191.7,144.1 191.9,143.2 192.2,143.8 192.4,145.4 192.6,147.4 192.9,149 193.1,150 193.4,150.1 193.6,149.4 193.8,148.5 194.1,148.2 194.3,148.5 194.6,149.3 194.8,149.8 195.1,149.9 195.3,149.3 195.5,148.5 195.8,147.4 196,146.4 196.3,145.5 196.5,145 196.7,144.9 197,144.9 197.2,144.6 197.5,144 197.7,143.4 197.9,143.1 198.2,143.4 198.4,144.3 198.7,145.6 198.9,147 199.1,147.9 199.4,148.2 199.6,147.7 199.9,147.2 200.1,147.8 200.3,149.8 200.6,152.7 200.8,155.1 201.1,155.6 201.3,153.7 201.5,150.3 201.8,146.8 202,144.7 202.3,144.3 202.5,145.6 202.7,147.4 203,148.4 203.2,147.6 203.5,145.2 203.7,142.3 203.9,140.5 204.2,140.7 204.4,142.6 204.7,144.7 204.9,146.2 205.2,147 205.4,147.8 205.6,148.9 205.9,149.9 206.1,150.2 206.4,149.6 206.6,148.5 206.8,147.8 207.1,148.3 207.3,150 207.6,152.2 207.8,153.6 208,153 208.3,150.6 208.5,147.4 208.8,145.2 209,144.7 209.2,145.8 209.5,147.5 209.7,148.3 210,147.8 210.2,146.1 210.4,144.4 210.7,143.8 210.9,144.8 211.2,146.5 211.4,147.7 211.6,147.2 211.9,145.3 212.1,143.3 212.4,143.1 212.6,145.5 212.8,149.4 213.1,153 213.3,154.2 213.6,152.8 213.8,149.9 214,147.1 214.3,145.7 214.5,145.8 214.8,146.8 215,147.8 215.3,148.3 215.5,148.3 215.7,147.6 216,146.6 216.2,145.7 216.5,145.3 216.7,145.5 216.9,146 217.2,146.2 217.4,145.8 217.7,145.2 217.9,144.9 218.1,145.4 218.4,146.7 218.6,148.2 218.9,149.5 219.1,149.9 219.3,149.4 219.6,148.3 219.8,147 220.1,146.3 220.3,146.4 220.5,147.3 220.8,148.2 221,148.7 221.3,148.5 221.5,147.8 221.7,146.8 222,146.1 222.2,145.9 222.5,146.1 222.7,146.3 222.9,146 223.2,145.5 223.4,145.2 223.7,145.8 223.9,147.2 224.1,148.5 224.4,149.2 224.6,148.7 224.9,147.4 225.1,145.9 225.4,144.7 225.6,144 225.8,143.7 226.1,144 226.3,145.1 226.6,146.9 226.8,148.6 227,149.2 227.3,148.5 227.5,147 227.8,145.9 228,146.3 228.2,147.9 228.5,149.9 228.7,151.1 229,151.3 229.2,150.9 229.4,150.4 229.7,150 229.9,149.5 230.2,149 230.4,148.4 230.6,148.2 230.9,148.3 231.1,148.2 231.4,147.8 231.6,146.9 231.8,146.1 232.1,145.7 232.3,145.9 232.6,146.2 232.8,146.2 233,145.9 233.3,145.9 233.5,146.4 233.8,147.2 234,147.9 234.2,148 234.5,147.8 234.7,147.7 235,148 235.2,148.7 235.5,149.4 235.7,149.7 235.9,149.5 236.2,149 236.4,148.3 236.7,147.5 236.9,147 237.1,147.2 237.4,148.1 237.6,149.3 237.9,150.2 238.1,150.4 238.3,150.1 238.6,149.5 238.8,148.7 239.1,147.7 239.3,146.7 239.5,145.8 239.8,145.2 240,144.7 240.3,144 240.5,143.1 240.7,142.4 241,142.4 241.2,143.2 241.5,144.3 241.7,145.4 241.9,146.4 242.2,147.2 242.4,148 242.7,148.6 242.9,149.1 243.1,149.7 243.4,150.4 243.6,150.9 243.9,150.9 244.1,150.7 244.3,150.6 244.6,150.6 244.8,150.4 245.1,149.6 245.3,148.3 245.6,146.7 245.8,144.8 246,142.8 246.3,140.9 246.5,139.9 246.8,140.6 247,142.9 247.2,145.3 247.5,146.4 247.7,145.9 248,144.9 248.2,144.9 248.4,146.4 248.7,148.3 248.9,149.7 249.2,150.3 249.4,150.6 249.6,151.2 249.9,151.9 250.1,152 250.4,151 250.6,149.3 250.8,147.5 251.1,146.4 251.3,146.3 251.6,146.6 251.8,146.3 252,144.8 252.3,142.4 252.5,140.4 252.8,140 253,141.3 253.2,143.4 253.5,145.4 253.7,146.7 254,147.7 254.2,148.5 254.4,149.1 254.7,149 254.9,148.2 255.2,147.1 255.4,146.9 255.7,148 255.9,150 256.1,151.8 256.4,152.2 256.6,151.1 256.9,148.8 257.1,146.3 257.3,144.3 257.6,143.4 257.8,143.8 258.1,145.2 258.3,146.6 258.5,147.3 258.8,146.6 259,145.2 259.3,144.1 259.5,144 259.7,144.8 260,145.7 260.2,145.8 260.5,145.2 260.7,144.4 260.9,144 261.2,144.2 261.4,144.7 261.7,145 261.9,145.1 262.1,145.3 262.4,145.7 262.6,146.1 262.9,146 263.1,145.6 263.3,145.2 263.6,145.2 263.8,145.6 264.1,145.8 264.3,145.2 264.5,144.1 264.8,142.9 265,142.4 265.3,142.3 265.5,142.3 265.8,142 266,141.3 266.2,140.6 266.5,140.4 266.7,140.6 267,140.9 267.2,141 267.4,141.1 267.7,141.4 267.9,141.9 268.2,142 268.4,141.5 268.6,140.4 268.9,139.7 269.1,140 269.4,141.6 269.6,143.9 269.8,145.7 270.1,146.3 270.3,145.6 270.6,144.3 270.8,143.2 271,142.9 271.3,142.9 271.5,142.6 271.8,141.5 272,140 272.2,139 272.5,138.9 272.7,139 273,138.5 273.2,136.9 273.4,134.8 273.7,133.4 273.9,133.5 274.2,134.8 274.4,135.9 274.6,135.9 274.9,134.7 275.1,133.5 275.4,133.3 275.6,134.5 275.9,136.3 276.1,137.8 276.3,138.6 276.6,138.6 276.8,138.5 277.1,138.6 277.3,139.1 277.5,139.6 277.8,139.7 278,139.1 278.3,137.8 278.5,136.6 278.7,136 279,136.4 279.2,137.4 279.5,138.1 279.7,138.2 279.9,137.8 280.2,137.8 280.4,138.4 280.7,139.3 280.9,139.5 281.1,138.6 281.4,137.1 281.6,135.5 281.9,134.6 282.1,134 282.3,133.3 282.6,132.4 282.8,131.5 283.1,131.1 283.3,131.7 283.5,133.3 283.8,135.1 284,136.2 284.3,136.1 284.5,134.8 284.7,133.2 285,132.6 285.2,133.2 285.5,135 285.7,136.8 286,138 286.2,138.2 286.4,138 286.7,138 286.9,138.8 287.2,140 287.4,140.7 287.6,140 287.9,138.1 288.1,135.9 288.4,134.6 288.6,134.6 288.8,135.3 289.1,136.1 289.3,136.5 289.6,136.5 289.8,136.4 290,135.9 290.3,134.9 290.5,133.5 290.8,132.1 291,131.8 291.2,132.8 291.5,134.9 291.7,137 292,138.6 292.2,139.6 292.4,140.5 292.7,141.4 292.9,142.5 293.2,143.5 293.4,144.2 293.6,144.5 293.9,144 294.1,143 294.4,141.5 294.6,140.2 294.8,139.4 295.1,139.4 295.3,140.4 295.6,142.1 295.8,143.7 296.1,144.5 296.3,143.8 296.5,141.8 296.8,139.7 297,138.8 297.3,139.8 297.5,141.9 297.7,144 298,144.7 298.2,143.9 298.5,142.3 298.7,140.8 298.9,140 299.2,139.7 299.4,139.3 299.7,138.1 299.9,136.2 300.1,134.5 300.4,133.9 300.6,134.9 300.9,137.2 301.1,139.7 301.3,141.4 301.6,142.3 301.8,142.8 302.1,143.8 302.3,145.7 302.5,148.1 302.8,150.2 303,151.4 303.3,151.7 303.5,151.7 303.7,151.8 304,152 304.2,151.8 304.5,150.7 304.7,149 304.9,147.3 305.2,146.2 305.4,145.8 305.7,145.8 305.9,146 306.2,146 306.4,145.9 306.6,145.2 306.9,144.1 307.1,142.9 307.4,142.6 307.6,143.8 307.8,146.4 308.1,148.9 308.3,149.6 308.6,148.1 308.8,145.4 309,143.4 309.3,143.4 309.5,145.3 309.8,147.9 310,149.8 310.2,150.4 310.5,150 310.7,149.6 311,149.9 311.2,151.1 311.4,152.4 311.7,153.2 311.9,153 312.2,151.9 312.4,150.6 312.6,149.4 312.9,148.7 313.1,148.7 313.4,149.6 313.6,151.2 313.8,152.7 314.1,153.3 314.3,152.6 314.6,150.7 314.8,148.7 315,147.8 315.3,148.9 315.5,151.7 315.8,155 316,156.8 316.3,155.9 316.5,152.8 316.7,149.3 317,147.8 317.2,148.9 317.5,151.5 317.7,153.8 317.9,154.6 318.2,153.8 318.4,152.1 318.7,150.6 318.9,149.6 319.1,149.3 319.4,149.6 319.6,150.3 319.9,151.3 320.1,152.2 320.3,152.7 320.6,152.8 320.8,152.5 321.1,152.1 321.3,151.7 321.5,151.4 321.8,151.1 322,150.9 322.3,151 322.5,151.1 322.7,151.1 323,150.9 323.2,150.6 323.5,150.6 323.7,150.9 323.9,151.1 324.2,150.7 324.4,150 324.7,149.2 324.9,148.7 325.1,148.2 325.4,147.8 325.6,147.4 325.9,147.6 326.1,148.6 326.4,149.8 326.6,150.5 326.8,150.3 327.1,149.5 327.3,148.6 327.6,148.3 327.8,148.6 328,149.3 328.3,149.8 328.5,149.9 328.8,149.6 329,148.8 329.2,147.8 329.5,146.9 329.7,146.1 330,145.9 330.2,146.4 330.4,147.5 330.7,148.6 330.9,149.1 331.2,148.6 331.4,147.2 331.6,145.2 331.9,143.2 332.1,141.6 332.4,140.8 332.6,141.2 332.8,142.4 333.1,143.6 333.3,144.1 333.6,143.6 333.8,142.7 334,142.3 334.3,142.9 334.5,144.2 334.8,145.5 335,146.3 335.2,146.4 335.5,146.3 335.7,145.8 336,145 336.2,143.8 336.5,142.7 336.7,142.3 336.9,142.8 337.2,143.7 337.4,144.3 337.7,144.2 337.9,143.4 338.1,142.3 338.4,141.4 338.6,140.6 338.9,139.8 339.1,139.4 339.3,139.8 339.6,141.2 339.8,143.5 340.1,145.6 340.3,146.4 340.5,145.7 340.8,143.9 341,142.4 341.3,142.2 341.5,143.6 341.7,145.9 342,147.7 342.2,148 342.5,146.5 342.7,144.2 342.9,142.2 343.2,141.2 343.4,141.2 343.7,141.9 343.9,143.1 344.1,144.7 344.4,146 344.6,146.3 344.9,145 345.1,142.7 345.3,140.6 345.6,140 345.8,141.2 346.1,143.7 346.3,146.4 346.6,148.2 346.8,148.4 347,147.1 347.3,145 347.5,143.3 347.8,142.9 348,144.2 348.2,146.3 348.5,147.9 348.7,148 349,147 349.2,145.8 349.4,145.3 349.7,145.6 349.9,146.3 350.2,146.6 350.4,146.5 350.6,146.4 350.9,147 351.1,148.4 351.4,150.1 351.6,151 351.8,150.4 352.1,148.5 352.3,146.3 352.6,144.9 352.8,144.8 353,145.5 353.3,146.1 353.5,146.1 353.8,145.8 354,145.8 354.2,146.4 354.5,147.1 354.7,147.3 355,146.3 355.2,144.6 355.4,142.9 355.7,141.9 355.9,141.8 356.2,142.5 356.4,143.8 356.7,145.2 356.9,146.1 357.1,146.4 357.4,145.9 357.6,145.3 357.9,145.2 358.1,145.6 358.3,146.2 358.6,146.5 358.8,146.6 359.1,146.8 359.3,147.4 359.5,148.1 359.8,148 360,146.8 360.3,145.2 360.5,144.5 360.7,145.4 361,147.9 361.2,150.6 361.5,152.2 361.7,152.2 361.9,151 362.2,149.4 362.4,148.2 362.7,147.8 362.9,147.8 363.1,148 363.4,148.1 363.6,147.9 363.9,147.1 364.1,145.5 364.3,143.4 364.6,141.2 364.8,139.6 365.1,139.1 365.3,140.1 365.5,141.9 365.8,143.5 366,144.5 366.3,144.7 366.5,144.6 366.8,144.9 367,145.8 367.2,147.5 367.5,149.6 367.7,151.3 368,152.2 368.2,151.7 368.4,150.2 368.7,148.5 368.9,147.6 369.2,147.8 369.4,149 369.6,150.2 369.9,150.6 370.1,149.7 370.4,147.8 370.6,145.7 370.8,144.3 371.1,143.8 371.3,143.9 371.6,144.6 371.8,145.8 372,147.2 372.3,148.4 372.5,148.5 372.8,147.5 373,146 373.2,144.7 373.5,144.3 373.7,144.7 374,145.6 374.2,146.7 374.4,147.7 374.7,148.6 374.9,149.3 375.2,149.7 375.4,149.8 375.6,150 375.9,150.4 376.1,151 376.4,151.6 376.6,151.6 376.9,150.8 377.1,149.5 377.3,147.9 377.6,146.5 377.8,145.2 378.1,144.1 378.3,143.5 378.5,143.5 378.8,144.2 379,145.2 379.3,145.7 379.5,145.6 379.7,145.2 380,144.9 380.2,145.3 380.5,146.3 380.7,147.3 380.9,148 381.2,147.9 381.4,147.3 381.7,146.4 381.9,145.7 382.1,145.3 382.4,145.5 382.6,145.9 382.9,146.6 383.1,147.5 383.3,148.5 383.6,149.2 383.8,149.5 384.1,149.4 384.3,149.3 384.5,149.5 384.8,150.1 385,150.7 385.3,151.1 385.5,151.4 385.7,151.7 386,151.8 386.2,151.2 386.5,149.5 386.7,146.9 387,144.4 387.2,142.8 387.4,142.4 387.7,142.4 387.9,142.1 388.2,141.3 388.4,140.4 388.6,139.9 388.9,140 389.1,140.8 389.4,142.2 389.6,143.9 389.8,145.2 390.1,145.7 390.3,145.3 390.6,144.5 390.8,144.2 391,145.1 391.3,146.9 391.5,148.7 391.8,149.7 392,149.6 392.2,148.9 392.5,148.1 392.7,147.8 393,148.1 393.2,149.1 393.4,150.4 393.7,151.6 393.9,152.2 394.2,152 394.4,151.1 394.6,149.7 394.9,148 395.1,146.4 395.4,145.1 395.6,144.7 395.8,145 396.1,145.8 396.3,146.5 396.6,146.9 396.8,146.6 397.1,145.8 397.3,144.5 397.5,143.3 397.8,142.7 398,142.9 398.3,143.6 398.5,144.3 398.7,144.6 399,144.5 399.2,144.1 399.5,143.7 399.7,143.3 399.9,142.9 400.2,142.6 400.4,142.5 400.7,143 400.9,144.2 401.1,146 401.4,147.7 401.6,148.3 401.9,147.5 402.1,145.8 402.3,144.2 402.6,144.3 402.8,146.3 403.1,149.5 403.3,152 403.5,152.4 403.8,150.9 404,148.8 404.3,147.6 404.5,148.2 404.7,150 405,151.5 405.2,151.5 405.5,149.8 405.7,147.1 405.9,144.3 406.2,142.2 406.4,141 406.7,141 406.9,142 407.2,143.9 407.4,145.9 407.6,147.2 407.9,147.5 408.1,147.1 408.4,146.5 408.6,146.2 408.8,146.1 409.1,145.9 409.3,145.6 409.6,145.3 409.8,145.1 410,145 410.3,144.8 410.5,144.3 410.8,143.5 411,142.8 411.2,142.3 411.5,142.2 411.7,142.6 412,143.5 412.2,144.6 412.4,145.6 412.7,146.3 412.9,146.7 413.2,146.7 413.4,146.6 413.6,146.4 413.9,146.3 414.1,146.3 414.4,146.2 414.6,146 414.8,145.9 415.1,146 415.3,146.1 415.6,146.2 415.8,146.1 416,146.1 416.3,146.4 416.5,147 416.8,147.6 417,147.5 417.3,146.3 417.5,144.2 417.7,142.2 418,141.3 418.2,142 418.5,143.8 418.7,145.4 418.9,145.6 419.2,144.1 419.4,141.8 419.7,140 419.9,139.8 420.1,141 420.4,143 420.6,144.9 420.9,146 421.1,146.1 421.3,145.5 421.6,144.6 421.8,143.9 422.1,143.3 422.3,142.5 422.5,141.4 422.8,140.1 423,139 423.3,138.3 423.5,137.8 423.7,137.2 424,136.5 424.2,136 424.5,136.1 424.7,136.7 424.9,137.4 425.2,137.6 425.4,137.1 425.7,135.9 425.9,134.4 426.1,133.3 426.4,133.1 426.6,134.1 426.9,136 427.1,138.1 427.4,139.6 427.6,139.7 427.8,138.7 428.1,137.4 428.3,136.6 428.6,136.6 428.8,137.2 429,137.9 429.3,138.3 429.5,138 429.8,136.8 430,134.5 430.2,131.7 430.5,129.3 430.7,128.3 431,128.6 431.2,129.6 431.4,130.4 431.7,130.6 431.9,130.7 432.2,131 432.4,131.5 432.6,131.7 432.9,131.4 433.1,130.4 433.4,129.2 433.6,128.1 433.8,128 434.1,129.1 434.3,131.5 434.6,134.5 434.8,137.1 435,138.3 435.3,137.9 435.5,136.4 435.8,134.6 436,132.9 436.2,131.6 436.5,130.8 436.7,130.2 437,129.7 437.2,129.2 437.5,128.5 437.7,127.8 437.9,127.2 438.2,127 438.4,127.3 438.7,128 438.9,128.7 439.1,129.5 439.4,130.5 439.6,131.9 439.9,133.6 440.1,135.1 440.3,135.8 440.6,135.3 440.8,134.1 441.1,132.7 441.3,131.6 441.5,130.6 441.8,129.3 442,128 442.3,127.4 442.5,128.3 442.7,130.3 443,132 443.2,132 443.5,130 443.7,127.5 443.9,126.8 444.2,129 444.4,133.3 444.7,137.5 444.9,139.8 445.1,140.1 445.4,139.6 445.6,139.6 445.9,140.3 446.1,140.8 446.3,140.7 446.6,140.2 446.8,140 447.1,140.4 447.3,141.1 447.6,141.3 447.8,140.6 448,139.1 448.3,137.4 448.5,135.7 448.8,134.5 449,134.3 449.2,135 449.5,136.5 449.7,138 450,138.8 450.2,138.6 450.4,137.7 450.7,136.6 450.9,136.2 451.2,136.9 451.4,138.6 451.6,140.9 451.9,143.1 452.1,144.3 452.4,144.6 452.6,144.1 452.8,143.4 453.1,143 453.3,143 453.6,143.6 453.8,144.7 454,146.2 454.3,147.9 454.5,149.1 454.8,149.4 455,148.9 455.2,148.3 455.5,148.2 455.7,148.7 456,149.2 456.2,149.3 456.4,148.6 456.7,147.8 456.9,147.3 457.2,147.3 457.4,147.2 457.7,146.6 457.9,145.4 458.1,143.9 458.4,142.8 458.6,142.3 458.9,142.3 459.1,142.6 459.3,143.2 459.6,143.8 459.8,144.7 460.1,145.7 460.3,146.6 460.5,147.5 460.8,148.5 461,149.9 461.3,151.5 461.5,152.9 461.7,153.5 462,153.1 462.2,152.1 462.5,151.2 462.7,151.1 462.9,151.7 463.2,152.5 463.4,152.6 463.7,151.8 463.9,150.2 464.1,148.8 464.4,148.2 464.6,148.8 464.9,150.2 465.1,151.5 465.3,151.9 465.6,151.2 465.8,150 466.1,149.3 466.3,149.6 466.5,150.6 466.8,151.4 467,151.5 467.3,151 467.5,150.4 467.8,150.6 468,151.6 468.2,152.9 468.5,154 468.7,154.7 469,155.3 469.2,156.2 469.4,156.8 469.7,156.6 469.9,155 470.2,152.3 470.4,149.5 470.6,147.5 470.9,146.6 471.1,146.6 471.4,147.2 471.6,148.1 471.8,149.2 472.1,149.9 472.3,149.9 472.6,149.6 472.8,149.9 473,151.5 473.3,154.3 473.5,157.1 473.8,158.4 474,157.7 474.2,155.8 474.5,154.2 474.7,153.9 475,155 475.2,156.6 475.4,157.8 475.7,157.6 475.9,156 476.2,153.6 476.4,151.4 476.6,150.5 476.9,151.1 477.1,152.5 477.4,153.7 477.6,154 477.9,153.5 478.1,152.9 478.3,152.8 478.6,153.4 478.8,154.5 479.1,155.3 479.3,155.1 479.5,154 479.8,152.6 480,151.8 480.3,152.1 480.5,153 480.7,154 481,154.7 481.2,155.2 481.5,155.9 481.7,156.5 481.9,156.5 482.2,155.8 482.4,154.8 482.7,154.6 482.9,155.9 483.1,158.2 483.4,160.4 483.6,161.6 483.9,161.4 484.1,160.1 484.3,158.4 484.6,157.1 484.8,156.3 485.1,155.8 485.3,155.4 485.5,155.1 485.8,155.3 486,155.7 486.3,155.9 486.5,155.6 486.7,154.6 487,153.8 487.2,153.8 487.5,154.6 487.7,155.7 488,156.2 488.2,155.8 488.4,155.4 488.7,155.7 488.9,157.3 489.2,159.6 489.4,161.9 489.6,162.9 489.9,162.1 490.1,159.7 490.4,156.6 490.6,154.1 490.8,153.3 491.1,154.4 491.3,156.6 491.6,159.1 491.8,160.8 492,161.1 492.3,160 492.5,157.7 492.8,155 493,152.7 493.2,151.9 493.5,153 493.7,155.8 494,159.4 494.2,162.1 494.4,162.9 494.7,161.7 494.9,159.2 495.2,157.1 495.4,156.3 495.6,157.1 495.9,158.7 496.1,159.8 496.4,159.7 496.6,158.6 496.8,157.2 497.1,156.7 497.3,157.2 497.6,158.1 497.8,158.3 498.1,157 498.3,154.4 498.5,151.7 498.8,150.3 499,150.8 499.3,152.5 499.5,154 499.7,154.4 500,153.7 500.2,152.9 500.5,152.7 500.7,153.6 500.9,155 501.2,156.3 501.4,157 501.7,156.9 501.9,156.3 502.1,155.7 502.4,155.7 502.6,156.5 502.9,157.8 503.1,159 503.3,159.2 503.6,157.9 503.8,155.4 504.1,152.9 504.3,151.7 504.5,152.4 504.8,154.6 505,156.7 505.3,157.2 505.5,155.7 505.7,153.1 506,150.9 506.2,150 506.5,150.2 506.7,150.6 506.9,150.1 507.2,148.7 507.4,146.7 507.7,145.1 507.9,144.3 508.2,144.6 508.4,146.2 508.6,148.8 508.9,152 509.1,155.1 509.4,157.2 509.6,157.9 509.8,157.4 510.1,156.3 510.3,154.9 510.6,153.8 510.8,153.3 511,153.4 511.3,154 511.5,154.2 511.8,153.5 512,151.4 512.2,148.6 512.5,146.2 512.7,144.9 513,144.7 513.2,144.8 513.4,144.4 513.7,143.2 513.9,141.9 514.2,141.7 514.4,142.7 514.6,144.5 514.9,145.8 515.1,146.1 515.4,145.6 515.6,145.1 515.8,145.3 516.1,146.1 516.3,146.7 516.6,146.8 516.8,146.5 517,146.3 517.3,146.8 517.5,147.7 517.8,148.5 518,148.8 518.3,148.6 518.5,148.3 518.7,148.2 519,148.2 519.2,148.1 519.5,147.7 519.7,146.6 519.9,144.9 520.2,142.7 520.4,140.4 520.7,138.8 520.9,138.2 521.1,138.6 521.4,139.6 521.6,140.2 521.9,139.9 522.1,138.9 522.3,137.6 522.6,137 522.8,137.1 523.1,137.9 523.3,138.9 523.5,140 523.8,140.8 524,141.5 524.3,142 524.5,142.5 524.7,143.1 525,143.6 525.2,143.7 525.5,143.4 525.7,142.7 525.9,142 526.2,141.4 526.4,140.8 526.7,139.7 526.9,138.3 527.1,136.7 527.4,135.6 527.6,135.5 527.9,136.6 528.1,138.5 528.4,140.5 528.6,141.6 528.8,141.6 529.1,141.1 529.3,141.1 529.6,142 529.8,143.2 530,143.9 530.3,143.6 530.5,142.6 530.8,141.3 531,140.2 531.2,139.4 531.5,138.8 531.7,138.5 532,138.6 532.2,138.7 532.4,138.7 532.7,138.3 532.9,137.8 533.2,137.8 533.4,138.6 533.6,139.8 533.9,140.8 534.1,141.3 534.4,141.3 534.6,141.3 534.8,141.8 535.1,142.9 535.3,144.4 535.6,146 535.8,147.8 536,149.8 536.3,151.8 536.5,152.9 536.8,152.2 537,149.7 537.2,146.5 537.5,144.1 537.7,143.6 538,144.6 538.2,145.7 538.5,145.6 538.7,143.9 538.9,141.4 539.2,139.1 539.4,137.9 539.7,137.9 539.9,138.6 540.1,139.3 540.4,139.9 540.6,140.3 540.9,141.1 541.1,142.6 541.3,144.6 541.6,146.6 541.8,148 542.1,148.6 542.3,149 542.5,149.7 542.8,151 543,152.5 543.3,153.3 543.5,152.4 543.7,149.9 544,146.8 544.2,144.7 544.5,144.7 544.7,146.3 544.9,147.8 545.2,147.6 545.4,145.5 545.7,142.5 545.9,140.1 546.1,139.1 546.4,139.6 546.6,141 546.9,142.9 547.1,145 547.3,146.9 547.6,148.2 547.8,148.7 548.1,148.7 548.3,148.2 548.6,147.3 548.8,146.2 549,145.4 549.3,145.7 549.5,147.3 549.8,149.6 550,151.2 550.2,151.2 550.5,149.4 550.7,146.8 551,144.7 551.2,143.8 551.4,144.3 551.7,145.8 551.9,147.5 552.2,148.6 552.4,148.7 552.6,148 552.9,147 553.1,146.3 553.4,145.9 553.6,145.7 553.8,145.5 554.1,145.3 554.3,145.2 554.6,145.2 554.8,145.3 555,145.4 555.3,145.4 555.5,145.2 555.8,144.6 556,143.7 556.2,142.8 556.5,142.4 556.7,142.8 557,143.5 557.2,144.2 557.4,144.3 557.7,144.1 557.9,144.1 558.2,144.8 558.4,146.1 558.7,147.5 558.9,148.5 559.1,148.6 559.4,148.5 559.6,148.9 559.9,150 560.1,151.6 560.3,153 560.6,153.8 560.8,154 561.1,153.7 561.3,152.8 561.5,151.1 561.8,148.6 562,145.8 562.3,143.3 562.5,141.4 562.7,140.6 563,140.6 563.2,141.2 563.5,142 563.7,142.8 563.9,143.3 564.2,143.7 564.4,143.7 564.7,143.4 564.9,143.1 565.1,143.6 565.4,145.1 565.6,147.5 565.9,150.2 566.1,152.1 566.3,152.5 566.6,151.3 566.8,149.2 567.1,147.4 567.3,146.8 567.5,147.8 567.8,149.5 568,150.5 568.3,149.8 568.5,147.5 568.8,144.7 569,142.6 569.2,141.9 569.5,142.3 569.7,143.4 570,144.7 570.2,145.9 570.4,146.8 570.7,147.4 570.9,147.5 571.2,146.8 571.4,145.3 571.6,143.6 571.9,142.5 572.1,142.6 572.4,143.9 572.6,145.5 572.8,146.3 573.1,146.1 573.3,145.3 573.6,144.8 573.8,145.2 574,146.3 574.3,147.7 574.5,149.3 574.8,150.8 575,152.4 575.2,153.6 575.5,153.8 575.7,152.7 576,150.7 576.2,148.7 576.4,147.6 576.7,147.4 576.9,147.2 577.2,146.1 577.4,144 577.6,141.9 577.9,141.1 578.1,141.9 578.4,143.6 578.6,145.2 578.9,145.6 579.1,144.8 579.3,143.3 579.6,141.8 579.8,141.3 580.1,142.2 580.3,144.3 580.5,147 580.8,149.3 581,150.9 581.3,151.4 581.5,151 581.7,150.3 582,149.5 582.2,148.9 582.5,148.1 582.7,147.3 582.9,146.6 583.2,146.6 583.4,147.5 583.7,149 583.9,150.3 584.1,150.8 584.4,150.7 584.6,150.5 584.9,150.5 585.1,150.9 585.3,151 585.6,150.3 585.8,148.8 586.1,147.1 586.3,146.2 586.5,146.7 586.8,147.9 587,148.9 587.3,148.9 587.5,148.2 587.7,147.3 588,146.7 588.2,145.9 588.5,144.8 588.7,143.6 589,143 589.2,143.9 589.4,146.1 589.7,148.6 589.9,149.8 590.2,149.1 590.4,147.4 590.6,146.3 590.9,146.9 591.1,148.9 591.4,150.8 591.6,151.3 591.8,150.4 592.1,149.1 592.3,148.6 592.6,149 592.8,149.6 593,149.6 593.3,148.7 593.5,147.4 593.8,146.5 594,146.2 594.2,146.5 594.5,147 594.7,147.6 595,148.3 595.2,148.9 595.4,149.2 595.7,148.9 595.9,147.8 596.2,146.6 596.4,146 596.6,146.6 596.9,148.1 597.1,149.6 597.4,150.2 597.6,149.6 597.8,148.5 598.1,147.7 598.3,148.1 598.6,149.4 598.8,150.7 599.1,150.9 599.3,149.5 599.5,146.6 599.8,143.7 600,142.3 600.3,143.4 600.5,146.3 600.7,149.4 601,151.1 601.2,150.6 601.5,148.4 601.7,145.8 601.9,143.8 602.2,143.3 602.4,143.9 602.7,145.2 602.9,146.5 603.1,147.4 603.4,148 603.6,148.6 603.9,149.2 604.1,149.7 604.3,149.9 604.6,149.8 604.8,149.5 605.1,149.4 605.3,149.3 605.5,149 605.8,148.1 606,146.7 606.3,145.5 606.5,145 606.7,145.3 607,145.9 607.2,145.9 607.5,145.3 607.7,144.5 607.9,144.4 608.2,145.4 608.4,147.6 608.7,150.4 608.9,152.8 609.2,154.2 609.4,154.1 609.6,152.6 609.9,150.4 610.1,148.4 610.4,147.6 610.6,148.3 610.8,149.8 611.1,150.5 611.3,149.7 611.6,147.3 611.8,144.6 612,142.7 612.3,142.3 612.5,142.9 612.8,143.7 613,144.3 613.2,144.4 613.5,144.3 613.7,144.3 614,144.3 614.2,144.5 614.4,144.6 614.7,145 614.9,145.7 615.2,146.7 615.4,147.8 615.6,148.7 615.9,149.1 616.1,148.9 616.4,148.4 616.6,148 616.8,147.8 617.1,147.7 617.3,147.3 617.6,146.6 617.8,146 618,145.7 618.3,145.9 618.5,146.4 618.8,147 619,147.8 619.3,148.4 619.5,148.8 619.7,148.5 620,147.5 620.2,146.6 620.5,146.6 620.7,147.9 620.9,149.8 621.2,151.2 621.4,151.1 621.7,149.5 621.9,147.6 622.1,146.2 622.4,145.8 622.6,146.4 622.9,147.5 623.1,148.3 623.3,148.3 623.6,147.5 623.8,146 624.1,144.5 624.3,143.3 624.5,142.6 624.8,142.2 625,142.6 625.3,143.6 625.5,145.1 625.7,146.4 626,147 626.2,147.1 626.5,147.2 626.7,147.7 626.9,148.8 627.2,150.3 627.4,151.8 627.7,152.7 627.9,152.4 628.1,150.7 628.4,147.9 628.6,145.5 628.9,145 629.1,146.7 629.4,149.4 629.6,151 629.8,149.9 630.1,146.6 630.3,142.6 630.6,140.1 630.8,139.9 631,141.6 631.3,143.9 631.5,145.8 631.8,146.7 632,146.8 632.2,146.8 632.5,146.9 632.7,147.1 633,146.9 633.2,146.4 633.4,146 633.7,146.6 633.9,148.2 634.2,150 634.4,150.9 634.6,150.5 634.9,149.3 635.1,148.3 635.4,147.9 635.6,147.8 635.8,147.5 636.1,146.7 636.3,146.1 636.6,146.3 636.8,147.6 637,149.5 637.3,151 637.5,151.1 637.8,150 638,148.3 638.2,147.1 638.5,147.2 638.7,148.4 639,149.9 639.2,150.7 639.5,150 639.7,147.7 639.9,144.9 640.2,142.8 640.4,142.4 640.7,143.8 640.9,146 641.1,148.1 641.4,149 641.6,148.4 641.9,147 642.1,145.8 642.3,145.7 642.6,147 642.8,149.2 643.1,151.3 643.3,152.4 643.5,152.1 643.8,150.9 644,149.6 644.3,149 644.5,149.2 644.7,149.9 645,150.3 645.2,150.1 645.5,149.4 645.7,148.1 645.9,146.6 646.2,144.8 646.4,143.1 646.7,142.2 646.9,142.3 647.1,143.2 647.4,144.3 647.6,144.8 647.9,144.5 648.1,144.2 648.3,144.4 648.6,145.4 648.8,147.1 649.1,148.9 649.3,150.2 649.6,151 649.8,151.1 650,150.9 650.3,150.5 650.5,150.1 650.8,149.8 651,149.4 651.2,148.9 651.5,148.1 651.7,146.9 652,145.4 652.2,144.3 652.4,144 652.7,144.6 652.9,145.2 653.2,144.7 653.4,142.8 653.6,140.4 653.9,138.9 654.1,139.2 654.4,140.7 654.6,142.5 654.8,143.7 655.1,144.4 655.3,145.3 655.6,147 655.8,149.5 656,152.3 656.3,154.4 656.5,155.1 656.8,154.2 657,152.5 657.2,150.9 657.5,150.2 657.7,150.1 658,149.9 658.2,148.7 658.4,146.5 658.7,144 658.9,142.4 659.2,142.2 659.4,143.1 659.7,144.2 659.9,144.4 660.1,143.4 660.4,141.5 660.6,139.6 660.9,138.9 661.1,140.1 661.3,143.1 661.6,146.8 661.8,149.6 662.1,150.6 662.3,150.1 662.5,149.4 662.8,149.8 663,151.5 663.3,153.6 663.5,154.8 663.7,154.1 664,151.8 664.2,148.9 664.5,146.7 664.7,145.8 664.9,145.9 665.2,146.3 665.4,146.3 665.7,145.8 665.9,144.8 666.1,143.4 666.4,142.1 666.6,141.5 666.9,141.7 667.1,142.8 667.3,144 667.6,145 667.8,145.7 668.1,146.3 668.3,147.1 668.5,147.7 668.8,148 669,147.9 669.3,148.1 669.5,149 669.8,150.3 670,151.1 670.2,151.1 670.5,150.5 670.7,150.3 671,150.8 671.2,151.4 671.4,151.2 671.7,149.9 671.9,148.3 672.2,146.9 672.4,146.2 672.6,145.8 672.9,145.7 673.1,146 673.4,146.7 673.6,147.4 673.8,147.4 674.1,146.1 674.3,144.1 674.6,142.7 674.8,142.8 675,144.7 675.3,147.3 675.5,149.5 675.8,150.6 676,150.6 676.2,150 676.5,149.5 676.7,149.3 677,149.3 677.2,149.3 677.4,148.9 677.7,148.4 677.9,148 678.2,148.1 678.4,148.7 678.6,149.3 678.9,148.9 679.1,147.5 679.4,145.4 679.6,144 679.9,144 680.1,145.5 680.3,147.5 680.6,148.7 680.8,148.5 681.1,147.5 681.3,146.6 681.5,146.6 681.8,147.4 682,148.4 682.3,149 682.5,149.3 682.7,149.1 683,148.3 683.2,146.8 683.5,145.3 683.7,144.6 683.9,145.4 684.2,147.4 684.4,149.5 684.7,150.6 684.9,150.2 685.1,148.8 685.4,147.3 685.6,146.4 685.9,146.2 686.1,146.6 686.3,147.2 686.6,147.6 686.8,147.7 687.1,147.4 687.3,147.1 687.5,146.8 687.8,146.8 688,146.8 688.3,146.8 688.5,146.6 688.7,146.3 689,146.1 689.2,146.2 689.5,146.4 689.7,146.4 690,146.3 690.2,146.3 690.4,146.6 690.7,147.2 690.9,147.6 691.2,147.4 691.4,146.6 691.6,146 691.9,146.5 692.1,148.2 692.4,150.3 692.6,151.9 692.8,152.4 693.1,151.9 693.3,150.7 693.6,149.6 693.8,148.7 694,148.1 694.3,147.7 694.5,147.3 694.8,147 695,146.8 695.2,146.6 695.5,146.2 695.7,145.6 696,144.9 696.2,144.7 696.4,145.3 696.7,146.5 696.9,148 697.2,149.2 697.4,149.9 697.6,149.9 697.9,149.3 698.1,148.5 698.4,147.7 698.6,147.1 698.8,146.5 699.1,145.4 699.3,144 699.6,143.3 699.8,143.9 700.1,146 700.3,148.3 700.5,149.7 700.8,149.5 701,148.3 701.3,147.4 701.5,147.6 701.7,149 702,150.7 702.2,151.6 702.5,151.4 702.7,150.4 702.9,149.2 703.2,148.3 703.4,147.6 703.7,146.6 703.9,145.2 704.1,143.4 704.4,141.6 704.6,140.3 704.9,140.1 705.1,141.1 705.3,142.8 705.6,144.6 705.8,146 706.1,146.8 706.3,147 706.5,146.7 706.8,146.1 707,145.4 707.3,145 707.5,145.7 707.7,147.3 708,149.3 708.2,150.7 708.5,150.6 708.7,149.4 708.9,147.8 709.2,146.7 709.4,146.3 709.7,146.2 709.9,145.9 710.2,145.3 710.4,144.9 710.6,144.9 710.9,145.3 711.1,145.7 711.4,145.9 711.6,145.9 711.8,145.7 712.1,145.4 712.3,145.2 712.6,145 712.8,144.8 713,144.7 713.3,144.6 713.5,144.4 713.8,144.2 714,143.9 714.2,143.8 714.5,144.1 714.7,144.9 715,146 715.2,146.9 715.4,147.1 715.7,146.3 715.9,145.2 716.2,144.7 716.4,145.3 716.6,146.6 716.9,147.6 717.1,147.7 717.4,147.2 717.6,146.5 717.8,146.4 718.1,146.8 718.3,147.3 718.6,147.5 718.8,147.2 719,146.4 719.3,145.1 719.5,143.9 719.8,143.1 720,142.8 720.3,142.8 720.5,143 720.7,143.2 721,143.6 721.2,144.2 721.5,144.6 721.7,144.8 721.9,145 722.2,145.5 722.4,146.5 722.7,147.6 722.9,148.4 723.1,148.7 723.4,149 723.6,149.9 723.9,151.2 724.1,151.8 724.3,150.7 724.6,147.8 724.8,144.3 725.1,141.7 725.3,141.2 725.5,142.2 725.8,143.7 726,144.6 726.3,144.6 726.5,143.8 726.7,142.3 727,140.5 727.2,139.2 727.5,139.2 727.7,141.2 727.9,144.6 728.2,148.1 728.4,150 728.7,149.7 728.9,147.7 729.1,145.4 729.4,144 729.6,143.9 729.9,144.6 730.1,145.4 730.4,145.4 730.6,144.6 730.8,143.5 731.1,142.5 731.3,142.3 731.6,142.8 731.8,143.7 732,144.3 732.3,144.4 732.5,144.1 732.8,144.2 733,145.3 733.2,147.2 733.5,149.3 733.7,150.7 734,151.2 734.2,151.2 734.4,151.3 734.7,151.2 734.9,150.4 735.2,148.7 735.4,146.3 735.6,143.9 735.9,142.2 736.1,141.2 736.4,140.5 736.6,139.7 736.8,138.9 737.1,138.5 737.3,138.7 737.6,139.5 737.8,140.6 738,141.8 738.3,143.1 738.5,144.6 738.8,146.1 739,147.1 739.2,147 739.5,146.2 739.7,145.6 740,146.3 740.2,148.4 740.5,150.7 740.7,151.5 740.9,150 741.2,146.8 741.4,143.6 741.7,141.7 741.9,141.6 742.1,143 742.4,145 742.6,146.7 742.9,147.3 743.1,146.2 743.3,143.2 743.6,139.4 743.8,136.2 744.1,134.6 744.3,134.9 744.5,136.6 744.8,139.1 745,141.8 745.3,144.3 745.5,146.2 745.7,147 746,147.2 746.2,147.4 746.5,147.9 746.7,148.8 746.9,149.7 747.2,150.3 747.4,150.7 747.7,150.8 747.9,150.4 748.1,149.1 748.4,147 748.6,144.6 748.9,142.8 749.1,142.1 749.3,142.5 749.6,143.4 749.8,143.7 750.1,142.8 750.3,141 750.6,138.9 750.8,137.6 751,137.7 751.3,139.1 751.5,141.1 751.8,142.9 752,143.9 752.2,143.5 752.5,141.9 752.7,139.9 753,138.4 753.2,138.5 753.4,140.1 753.7,142.8 753.9,145.7 754.2,148 754.4,149.1 754.6,149 754.9,148.2 755.1,147.7 755.4,148 755.6,149.3 755.8,150.7 756.1,151.4 756.3,151.1 756.6,149.9 756.8,148.3 757,146.5 757.3,144.7 757.5,143.4 757.8,142.6 758,142.5 758.2,142.9 758.5,143.6 758.7,144 759,144.1 759.2,143.8 759.4,143.5 759.7,143.6 759.9,144.7 760.2,146.5 760.4,148.3 760.7,149.4 760.9,149.5 761.1,148.9 761.4,148.1 761.6,147.3 761.9,146.5 762.1,145.6 762.3,145 762.6,144.7 762.8,144.8 763.1,145 763.3,145.2 763.5,145.8 763.8,146.8 764,148.1 764.3,149 764.5,149.1 764.7,148.8 765,148.5 765.2,148.9 765.5,150 765.7,151.7 765.9,153.2 766.2,153.9 766.4,153.7 766.7,152.5 766.9,151 767.1,149.9 767.4,149.2 767.6,148.7 767.9,147.8 768.1,146.5 768.3,145 768.6,144.1 768.8,144.1 769.1,144.8 769.3,145.5 769.5,145.8 769.8,145.5 770,145.1 770.3,145.1 770.5,145.4 770.8,145.8 771,146 771.2,146.1 771.5,146.4 771.7,146.9 772,147.8 772.2,149.1 772.4,150.5 772.7,151.9 772.9,153.1 773.2,153.7 773.4,153.7 773.6,153.3 773.9,152.5 774.1,151.7 774.4,151.1 774.6,151.1" fill="none" stroke="#000" stroke-width="1.75" stroke-linejoin="miter"/>
<path d="M157.1,178.7v4.6M184.7,183.3v7.4M187.8,174.9v2.3M192.4,187.4v5.8M224.6,183.8v2.7M241.9,184v4M246.5,182.6v5.7M247.5,183.1v3.1M250.8,178v6.5M270.3,177.9v4M286.9,176.8v3.3M293.4,174.8v5.8M330.2,175.6v7.4M340.8,175.4v6.7M394.2,181.6v5.9M406.9,175.4v3.1M444.7,182.6v4.3M462.2,185.8v3.6M468.7,182.6v6.3M482.9,180.8v5.1M493,180v5.7M517,178.1v3.9M563.2,177.3v7.2M611.6,181v3.8M632.2,177.6v6.7M633.7,178.9v3.5M685.1,178.7v2.9M689.7,176.9v4.1M694.3,177.3v3.5M698.4,182.7v4.5M709.2,175.2v6.3M760.4,177.1v4.8" fill="none" stroke="#3a3a3a" stroke-width="1" />
<path d="M149.6,181 149.8,180.9 150.1,180.6 150.3,180.3 150.6,180.4 150.8,180.6 151,180.4 151.3,179.8 151.5,178.9 151.8,178.3 152,178.4 152.2,179.3 152.5,180.5 152.7,181.5 153,181.9 153.2,181.7 153.4,181.3 153.7,181.2 153.9,181.5 154.2,182 154.4,182.3 154.7,182.3 154.9,182.2 155.1,182.2 155.4,182.4 155.6,182.2 155.9,181.1 156.1,179.3 156.3,177.5 156.6,176.8 156.8,177.5 157.1,178.7 157.3,179.6 157.5,179.4 157.8,178.5 158,177.8 158.3,177.8 158.5,178.1 158.7,178.4 159,178.1 159.2,177.7 159.5,177.5 159.7,177.8 159.9,178.5 160.2,179.3 160.4,180.2 160.7,180.8 160.9,181.1 161.1,180.9 161.4,180.7 161.6,181 161.9,182.1 162.1,183.7 162.3,184.9 162.6,185.2 162.8,184.5 163.1,183.3 163.3,181.7 163.5,180 163.8,178.2 164,176.8 164.3,176 164.5,176 164.8,176.2 165,176 165.2,175.4 165.5,174.6 165.7,174.4 166,174.9 166.2,175.9 166.4,176.6 166.7,176.6 166.9,176.2 167.2,176.1 167.4,176.8 167.6,178.5 167.9,180.8 168.1,182.9 168.4,184.4 168.6,184.9 168.8,184.5 169.1,183.2 169.3,181.5 169.6,179.8 169.8,178.5 170,178.1 170.3,178.3 170.5,178.9 170.8,179.6 171,180.1 171.2,180.4 171.5,180.1 171.7,178.9 172,177 172.2,175 172.4,174 172.7,174.2 172.9,175.4 173.2,176.9 173.4,177.9 173.6,178.4 173.9,178.4 174.1,177.8 174.4,176.8 174.6,175.6 174.9,174.8 175.1,174.9 175.3,176.2 175.6,178.2 175.8,180.4 176.1,182 176.3,182.3 176.5,181.2 176.8,179.4 177,177.9 177.3,177.5 177.5,178.2 177.7,179.4 178,180.1 178.2,180.2 178.5,180 178.7,180.3 178.9,181 179.2,181.5 179.4,180.9 179.7,179.3 179.9,177.2 180.1,175.4 180.4,174.2 180.6,173.8 180.9,173.8 181.1,173.9 181.3,173.8 181.6,173.7 181.8,173.6 182.1,173.8 182.3,174.6 182.5,176.2 182.8,178 183,179.6 183.3,180.8 183.5,181.9 183.7,182.9 184,183.7 184.2,184.1 184.5,183.8 184.7,183.3 185,182.9 185.2,182.7 185.4,182.7 185.7,182.8 185.9,182.8 186.2,182.6 186.4,181.9 186.6,180.5 186.9,178.5 187.1,176.6 187.4,175.2 187.6,174.7 187.8,174.9 188.1,175.4 188.3,175.7 188.6,175.4 188.8,174.3 189,173.1 189.3,172.7 189.5,173.8 189.8,176.5 190,179.7 190.2,182.1 190.5,183 190.7,182.8 191,182.3 191.2,182.4 191.4,183.3 191.7,184.7 191.9,186.1 192.2,187.1 192.4,187.4 192.6,187.3 192.9,186.7 193.1,185.6 193.4,184 193.6,182.2 193.8,180.7 194.1,179.9 194.3,179.7 194.6,179.8 194.8,179.5 195.1,178.4 195.3,176.7 195.5,174.9 195.8,173.9 196,174 196.3,175.2 196.5,177.2 196.7,179 197,180.1 197.2,180.4 197.5,180.3 197.7,180.6 197.9,181.6 198.2,183.1 198.4,184.8 198.7,185.9 198.9,186.3 199.1,186.1 199.4,185.5 199.6,184.7 199.9,184 200.1,183.5 200.3,183.4 200.6,183.3 200.8,183 201.1,182 201.3,180.4 201.5,178.7 201.8,177.5 202,177.1 202.3,177.3 202.5,177.6 202.7,178 203,178.1 203.2,178 203.5,177.4 203.7,176.7 203.9,176.4 204.2,177.1 204.4,178.7 204.7,180.4 204.9,181.4 205.2,181.5 205.4,181.1 205.6,181.2 205.9,182 206.1,183.2 206.4,184 206.6,184 206.8,183.4 207.1,183 207.3,183.5 207.6,184.5 207.8,185.3 208,185.2 208.3,184.2 208.5,182.6 208.8,180.8 209,178.9 209.2,177.3 209.5,176.1 209.7,175.7 210,176 210.2,176.6 210.4,176.8 210.7,176.1 210.9,174.6 211.2,172.9 211.4,172 211.6,172.6 211.9,174.6 212.1,177.5 212.4,180.2 212.6,182.1 212.8,182.9 213.1,182.8 213.3,182.1 213.6,181.4 213.8,181.1 214,181.4 214.3,182.4 214.5,183.3 214.8,183.7 215,182.7 215.3,180.2 215.5,176.6 215.7,173 216,171 216.2,171.4 216.5,173.9 216.7,176.8 216.9,178.6 217.2,178.5 217.4,177.2 217.7,176.2 217.9,176.4 218.1,177.9 218.4,180 218.6,181.7 218.9,182.4 219.1,182.5 219.3,182.7 219.6,183.4 219.8,184.3 220.1,184.6 220.3,183.4 220.5,180.7 220.8,177.5 221,174.7 221.3,173.1 221.5,172.8 221.7,173.4 222,174.3 222.2,175.1 222.5,175.8 222.7,176.6 222.9,177.5 223.2,178.5 223.4,179.4 223.7,180 223.9,180.5 224.1,181.3 224.4,182.5 224.6,183.8 224.9,184.9 225.1,185.4 225.4,185 225.6,183.4 225.8,181.1 226.1,178.6 226.3,176.9 226.6,176.5 226.8,177.1 227,178 227.3,178.1 227.5,177.3 227.8,176.1 228,175.5 228.2,175.9 228.5,177 228.7,178.5 229,179.8 229.2,180.9 229.4,181.7 229.7,182.1 229.9,182 230.2,181.6 230.4,181.5 230.6,182.1 230.9,183.5 231.1,185 231.4,186 231.6,185.9 231.8,184.7 232.1,183.3 232.3,182.5 232.6,182.8 232.8,184.1 233,185.5 233.3,186.1 233.5,185.6 233.8,184.1 234,182.2 234.2,180.4 234.5,179.4 234.7,179.2 235,179.4 235.2,179.8 235.5,180.1 235.7,180.3 235.9,180.5 236.2,180.7 236.4,180.7 236.7,180.7 236.9,180.8 237.1,181.2 237.4,181.9 237.6,182.8 237.9,183.3 238.1,183.3 238.3,182.7 238.6,181.5 238.8,180.3 239.1,179.9 239.3,180.3 239.5,181.4 239.8,182.3 240,182.6 240.3,182.2 240.5,181.8 240.7,182.1 241,183.2 241.2,184.4 241.5,185 241.7,184.8 241.9,184 242.2,183 242.4,182 242.7,181 242.9,179.8 243.1,178.8 243.4,178.2 243.6,178.3 243.9,178.7 244.1,178.9 244.3,178.8 244.6,178.7 244.8,179.1 245.1,180.1 245.3,181.4 245.6,182.3 245.8,182.8 246,182.7 246.3,182.6 246.5,182.6 246.8,182.8 247,183.1 247.2,183.4 247.5,183.1 247.7,182 248,179.8 248.2,177 248.4,174.3 248.7,172.5 248.9,171.7 249.2,171.8 249.4,172.4 249.6,173.3 249.9,174.3 250.1,175.5 250.4,176.7 250.6,177.5 250.8,178 251.1,178.3 251.3,178.6 251.6,179 251.8,179.4 252,179.6 252.3,179.3 252.5,178.7 252.8,177.9 253,177.1 253.2,176.3 253.5,175.5 253.7,174.7 254,174 254.2,173.3 254.4,172.6 254.7,172 254.9,171.8 255.2,172.1 255.4,173 255.7,174.4 255.9,175.8 256.1,176.7 256.4,176.7 256.6,175.7 256.9,174.5 257.1,173.8 257.3,174.1 257.6,175 257.8,175.6 258.1,175.4 258.3,174.2 258.5,172.8 258.8,171.8 259,171.5 259.3,171.7 259.5,172 259.7,171.7 260,170.9 260.2,169.8 260.5,169.4 260.7,170.5 260.9,173.1 261.2,176.2 261.4,178.2 261.7,178 261.9,176 262.1,173.2 262.4,171.3 262.6,171.4 262.9,173.2 263.1,175.6 263.3,177.1 263.6,176.8 263.8,174.8 264.1,172.2 264.3,170.4 264.5,170.1 264.8,171.3 265,173.3 265.3,175.3 265.5,176.5 265.8,176.9 266,176.7 266.2,176.5 266.5,176.6 266.7,176.9 267,176.6 267.2,175.6 267.4,174.1 267.7,173 267.9,172.9 268.2,173.7 268.4,174.6 268.6,174.9 268.9,174.4 269.1,173.6 269.4,173.3 269.6,173.8 269.8,174.9 270.1,176.4 270.3,177.9 270.6,179.2 270.8,180.1 271,180.5 271.3,180.3 271.5,179.5 271.8,178.3 272,177.1 272.2,176.6 272.5,176.6 272.7,177 273,177.1 273.2,176.8 273.4,175.9 273.7,174.9 273.9,174 274.2,173.7 274.4,174 274.6,174.9 274.9,176.2 275.1,177.5 275.4,178.5 275.6,178.7 275.9,178.4 276.1,177.9 276.3,177.5 276.6,177.6 276.8,177.9 277.1,178.2 277.3,178.5 277.5,178.6 277.8,178.7 278,178.4 278.3,177.5 278.5,176.5 278.7,175.7 279,175.6 279.2,176.2 279.5,176.8 279.7,177.1 279.9,176.7 280.2,175.9 280.4,175.2 280.7,174.9 280.9,175.3 281.1,176.2 281.4,177.1 281.6,177.3 281.9,176.8 282.1,175.8 282.3,174.8 282.6,174.6 282.8,175.3 283.1,176.8 283.3,178.3 283.5,179.3 283.8,179.4 284,179 284.3,178.5 284.5,178.5 284.7,179.1 285,179.6 285.2,179.6 285.5,178.6 285.7,177 286,175.4 286.2,174.6 286.4,175 286.7,176.1 286.9,176.8 287.2,176.1 287.4,174.1 287.6,171.9 287.9,171 288.1,172.2 288.4,175.2 288.6,178.9 288.8,181.6 289.1,182.3 289.3,181.1 289.6,179 289.8,177.7 290,177.8 290.3,179 290.5,180 290.8,179.9 291,178.5 291.2,176.8 291.5,175.6 291.7,175.5 292,176.1 292.2,176.7 292.4,176.7 292.7,176.1 292.9,175.3 293.2,174.8 293.4,174.8 293.6,175.1 293.9,175.7 294.1,176.3 294.4,177 294.6,177.7 294.8,178.2 295.1,178.3 295.3,178.2 295.6,178 295.8,178.1 296.1,178.7 296.3,179.4 296.5,179.7 296.8,179.5 297,178.9 297.3,178.6 297.5,178.7 297.7,179.4 298,180.2 298.2,180.9 298.5,181.3 298.7,181.5 298.9,181.6 299.2,181.6 299.4,181.2 299.7,180.3 299.9,178.6 300.1,176.9 300.4,175.8 300.6,176.1 300.9,177.4 301.1,178.8 301.3,179.4 301.6,178.9 301.8,178 302.1,177.3 302.3,177.2 302.5,177.4 302.8,177.6 303,177.4 303.3,177.1 303.5,176.9 303.7,177.4 304,178.5 304.2,180 304.5,181.4 304.7,182.3 304.9,182.5 305.2,182.4 305.4,181.9 305.7,181.3 305.9,180.6 306.2,180 306.4,179.9 306.6,180.2 306.9,180.4 307.1,179.9 307.4,178.5 307.6,176.7 307.8,175.2 308.1,174.4 308.3,174.4 308.6,174.9 308.8,175.7 309,176.6 309.3,177.5 309.5,178.2 309.8,178.6 310,179 310.2,179.5 310.5,180.1 310.7,180.5 311,180.5 311.2,180.3 311.4,180.6 311.7,181.9 311.9,183.7 312.2,185.2 312.4,185.5 312.6,184.3 312.9,182.5 313.1,181 313.4,180.1 313.6,180 313.8,179.8 314.1,179.2 314.3,177.9 314.6,176.2 314.8,175 315,174.9 315.3,176.3 315.5,178.8 315.8,181.3 316,182.9 316.3,183.4 316.5,183.1 316.7,182.2 317,181 317.2,179.8 317.5,178.9 317.7,178.7 317.9,179.3 318.2,180.2 318.4,180.6 318.7,180 318.9,178.6 319.1,177 319.4,175.8 319.6,175.1 319.9,175 320.1,175.6 320.3,177 320.6,179 320.8,181.2 321.1,182.5 321.3,182.6 321.5,181.6 321.8,180.5 322,180.3 322.3,181.1 322.5,182.5 322.7,183.5 323,183.2 323.2,181.5 323.5,179 323.7,176.7 323.9,175.3 324.2,175.1 324.4,176 324.7,177.3 324.9,178.5 325.1,179.1 325.4,179 325.6,178.5 325.9,177.9 326.1,177.6 326.4,177.7 326.6,178 326.8,178.6 327.1,179.3 327.3,180.3 327.6,181.1 327.8,181.2 328,180.5 328.3,179.3 328.5,178.5 328.8,178.3 329,178.8 329.2,179.1 329.5,178.8 329.7,177.9 330,176.6 330.2,175.6 330.4,175.3 330.7,176.1 330.9,177.6 331.2,179 331.4,179.3 331.6,178.2 331.9,176.3 332.1,175.2 332.4,175.7 332.6,177.7 332.8,180.1 333.1,181.7 333.3,182 333.6,181.1 333.8,179.1 334,176.9 334.3,175.3 334.5,175.1 334.8,175.9 335,177 335.2,177.6 335.5,177.5 335.7,177.2 336,177.2 336.2,177.5 336.5,178.2 336.7,179.1 336.9,180.5 337.2,182 337.4,183.1 337.7,183.4 337.9,182.8 338.1,182 338.4,181.5 338.6,181.5 338.9,181.9 339.1,181.9 339.3,181 339.6,179.1 339.8,176.9 340.1,175 340.3,174.1 340.5,174.3 340.8,175.4 341,176.7 341.3,177.9 341.5,178.8 341.7,179.5 342,180 342.2,180.1 342.5,179.9 342.7,179.6 342.9,179.7 343.2,180.5 343.4,181.9 343.7,183.2 343.9,183.5 344.1,182.7 344.4,181.3 344.6,180.3 344.9,180 345.1,180 345.3,179.5 345.6,178.3 345.8,176.7 346.1,175.6 346.3,175.2 346.6,175.6 346.8,176 347,176.3 347.3,176.4 347.5,176.2 347.8,175.8 348,175.4 348.2,175.1 348.5,175.3 348.7,176.1 349,177.6 349.2,179.3 349.4,180.7 349.7,181.3 349.9,180.8 350.2,179.7 350.4,178.5 350.6,178.4 350.9,179.4 351.1,180.9 351.4,182 351.6,181.6 351.8,179.9 352.1,177.7 352.3,175.8 352.6,175.1 352.8,175.4 353,176.3 353.3,177.1 353.5,176.9 353.8,175.5 354,173.5 354.2,171.7 354.5,171 354.7,171.5 355,173 355.2,174.7 355.4,176.3 355.7,177.4 355.9,178.1 356.2,178.2 356.4,178 356.7,177.9 356.9,178 357.1,178.4 357.4,179 357.6,179.5 357.9,179.6 358.1,179.3 358.3,178.5 358.6,177.2 358.8,175.7 359.1,174.3 359.3,173.4 359.5,173.2 359.8,173.7 360,174.3 360.3,174.8 360.5,175 360.7,175.3 361,176.1 361.2,177.3 361.5,178.4 361.7,178.9 361.9,178.9 362.2,178.6 362.4,178.7 362.7,179 362.9,179.2 363.1,178.8 363.4,177.6 363.6,176.1 363.9,175.2 364.1,175.3 364.3,176 364.6,177 364.8,177.4 365.1,177.3 365.3,177 365.5,177.1 365.8,177.6 366,178.2 366.3,178.6 366.5,178.8 366.8,179.1 367,179.6 367.2,179.8 367.5,179.4 367.7,178.3 368,176.9 368.2,175.9 368.4,175.8 368.7,176 368.9,176.2 369.2,175.9 369.4,175.4 369.6,175 369.9,175.1 370.1,175.9 370.4,176.9 370.6,177.6 370.8,178 371.1,177.9 371.3,178 371.6,178.3 371.8,179 372,179.8 372.3,180.6 372.5,181.3 372.8,181.7 373,181.7 373.2,181.3 373.5,180.9 373.7,180.8 374,181.2 374.2,182.1 374.4,182.9 374.7,183.1 374.9,182.2 375.2,180.5 375.4,178.4 375.6,176.6 375.9,175.7 376.1,175.9 376.4,176.7 376.6,177.6 376.9,178.3 377.1,178.9 377.3,179.4 377.6,179.9 377.8,180.4 378.1,181 378.3,181.7 378.5,182.3 378.8,182.8 379,182.8 379.3,182.5 379.5,181.9 379.7,181.4 380,180.8 380.2,180 380.5,178.8 380.7,177.3 380.9,175.8 381.2,175 381.4,175.1 381.7,175.9 381.9,176.9 382.1,177.6 382.4,178.2 382.6,178.8 382.9,179.6 383.1,180.4 383.3,181.1 383.6,181.7 383.8,182.2 384.1,182.5 384.3,182.6 384.5,182.2 384.8,181.6 385,181.2 385.3,181 385.5,181 385.7,180.6 386,180 386.2,179.3 386.5,178.9 386.7,178.7 387,178.6 387.2,178.4 387.4,178.5 387.7,179 387.9,179.8 388.2,180.3 388.4,179.8 388.6,178.6 388.9,177.3 389.1,176.8 389.4,177.1 389.6,177.7 389.8,178 390.1,177.5 390.3,176.6 390.6,175.9 390.8,175.8 391,176.1 391.3,176.7 391.5,177.1 391.8,177.3 392,177.6 392.2,178.4 392.5,179.7 392.7,181.4 393,182.9 393.2,183.9 393.4,184 393.7,183.4 393.9,182.4 394.2,181.6 394.4,181.4 394.6,181.6 394.9,181.7 395.1,181.2 395.4,179.9 395.6,178 395.8,176 396.1,174.2 396.3,172.6 396.6,171.5 396.8,171.1 397.1,171.7 397.3,173.3 397.5,175.1 397.8,176.7 398,177.4 398.3,177.6 398.5,177.9 398.7,179 399,181 399.2,183.3 399.5,185.1 399.7,185.8 399.9,184.8 400.2,182.7 400.4,180.4 400.7,179 400.9,178.8 401.1,179.3 401.4,179.3 401.6,177.9 401.9,175.5 402.1,173.2 402.3,172.1 402.6,172.9 402.8,175 403.1,177.4 403.3,179.1 403.5,179.7 403.8,179.3 404,178.6 404.3,178.2 404.5,178.6 404.7,179.5 405,180.5 405.2,181.1 405.5,181 405.7,180.2 405.9,178.7 406.2,176.8 406.4,175.3 406.7,174.7 406.9,175.4 407.2,177.3 407.4,179.4 407.6,180.7 407.9,180.6 408.1,179.6 408.4,178.4 408.6,177.8 408.8,178 409.1,178.6 409.3,179.3 409.6,179.6 409.8,179.8 410,180.1 410.3,180.7 410.5,181.1 410.8,180.8 411,179.7 411.2,178.3 411.5,177.5 411.7,177.8 412,178.8 412.2,179.7 412.4,179.9 412.7,179.6 412.9,179.3 413.2,179.2 413.4,179.1 413.6,178.5 413.9,177.3 414.1,176 414.4,175.3 414.6,175.4 414.8,176.3 415.1,177.4 415.3,178.5 415.6,179.2 415.8,179.7 416,179.9 416.3,179.9 416.5,179.8 416.8,179.9 417,180.3 417.3,180.9 417.5,181.3 417.7,181.2 418,180.6 418.2,179.6 418.5,178.4 418.7,177.3 418.9,176.5 419.2,176.2 419.4,176.2 419.7,176.3 419.9,176.3 420.1,176.1 420.4,176.2 420.6,177 420.9,178.7 421.1,180.5 421.3,181.8 421.6,181.9 421.8,181.1 422.1,180.3 422.3,180.2 422.5,181 422.8,182.4 423,183.7 423.3,184.2 423.5,183.6 423.7,182 424,180 424.2,178.3 424.5,177.4 424.7,177.2 424.9,177.4 425.2,177.8 425.4,178 425.7,177.9 425.9,177.5 426.1,176.8 426.4,176.1 426.6,175.8 426.9,175.9 427.1,176.2 427.4,176.4 427.6,176.3 427.8,176.1 428.1,176.1 428.3,176.3 428.6,176.9 428.8,178 429,179.6 429.3,181.2 429.5,181.9 429.8,181.6 430,180.3 430.2,179.2 430.5,178.9 430.7,179.7 431,180.9 431.2,181.6 431.4,181.5 431.7,181 431.9,180.7 432.2,181 432.4,181.7 432.6,182.2 432.9,182.1 433.1,181.4 433.4,180.3 433.6,179 433.8,177.7 434.1,176.6 434.3,175.7 434.6,175.3 434.8,175.6 435,176.4 435.3,177.5 435.5,178.4 435.8,178.6 436,178 436.2,177.1 436.5,176.5 436.7,177.2 437,179.1 437.2,181.6 437.5,183.7 437.7,184.5 437.9,184 438.2,183.1 438.4,182.7 438.7,183.3 438.9,184.3 439.1,184.9 439.4,184.3 439.6,182.8 439.9,181.2 440.1,180.3 440.3,180.8 440.6,182 440.8,183.4 441.1,184.1 441.3,183.8 441.5,182.6 441.8,181.2 442,179.8 442.3,179 442.5,179.2 442.7,180.5 443,182.5 443.2,184.3 443.5,185 443.7,184.2 443.9,182.4 444.2,181.1 444.4,181.1 444.7,182.6 444.9,184.7 445.1,186.3 445.4,187.2 445.6,188 445.9,189 446.1,190 446.3,190.3 446.6,189.6 446.8,188.1 447.1,186.8 447.3,186.4 447.6,186.7 447.8,186.8 448,186.3 448.3,185.4 448.5,184.6 448.8,184.7 449,185.6 449.2,186.5 449.5,187 449.7,186.8 450,186.2 450.2,185.7 450.4,185.5 450.7,185.7 450.9,186.1 451.2,186.3 451.4,186.3 451.6,186 451.9,185.6 452.1,185.4 452.4,185.6 452.6,186.3 452.8,187.3 453.1,188.3 453.3,189 453.6,189.3 453.8,189.1 454,188.6 454.3,188.2 454.5,187.8 454.8,187.4 455,187.3 455.2,187.4 455.5,188.2 455.7,189.4 456,190.3 456.2,190.2 456.4,189.1 456.7,187.8 456.9,187 457.2,187.2 457.4,188.1 457.7,189.2 457.9,190.2 458.1,191 458.4,191.5 458.6,191.4 458.9,190.6 459.1,189.4 459.3,188 459.6,186.3 459.8,184.7 460.1,183.4 460.3,182.6 460.5,182.5 460.8,183 461,183.8 461.3,184.5 461.5,184.9 461.7,185.2 462,185.4 462.2,185.8 462.5,186.4 462.7,187.2 462.9,188 463.2,188.8 463.4,189.4 463.7,189.6 463.9,189.5 464.1,189 464.4,188.1 464.6,186.5 464.9,184.6 465.1,182.8 465.3,181.8 465.6,181.7 465.8,182.3 466.1,182.6 466.3,182 466.5,180.9 466.8,179.9 467,179.8 467.3,180.8 467.5,182.1 467.8,182.8 468,182.7 468.2,182.2 468.5,182.1 468.7,182.6 469,183.1 469.2,183.3 469.4,183.4 469.7,183.7 469.9,184.4 470.2,184.8 470.4,184.4 470.6,183.2 470.9,181.9 471.1,181.2 471.4,181.1 471.6,181.4 471.8,181.3 472.1,180.8 472.3,180.4 472.6,180.6 472.8,181.2 473,181.8 473.3,181.8 473.5,181.1 473.8,180.4 474,179.9 474.2,179.8 474.5,180 474.7,180.1 475,180 475.2,179.8 475.4,179.7 475.7,180.1 475.9,180.8 476.2,181.4 476.4,181.6 476.6,181.5 476.9,181.5 477.1,181.9 477.4,182.4 477.6,182.5 477.9,181.9 478.1,180.8 478.3,179.8 478.6,179.2 478.8,178.9 479.1,178.8 479.3,178.8 479.5,179 479.8,179.4 480,179.7 480.3,179.7 480.5,179.3 480.7,178.8 481,178.7 481.2,179 481.5,179.4 481.7,179.9 481.9,180.2 482.2,180.5 482.4,180.6 482.7,180.6 482.9,180.8 483.1,181.3 483.4,181.7 483.6,181.7 483.9,181 484.1,179.9 484.3,178.8 484.6,177.9 484.8,177.3 485.1,176.7 485.3,175.8 485.5,175.2 485.8,175.2 486,176.2 486.3,177.6 486.5,178.7 486.7,179.2 487,179.1 487.2,179.1 487.5,179.1 487.7,179.1 488,179 488.2,179.1 488.4,179.3 488.7,179.7 488.9,179.7 489.2,179.2 489.4,178.3 489.6,177.6 489.9,177.5 490.1,178.1 490.4,179 490.6,179.6 490.8,179.9 491.1,180.1 491.3,180.7 491.6,181.8 491.8,182.8 492,183 492.3,182.1 492.5,180.7 492.8,179.8 493,180 493.2,181 493.5,182 493.7,181.9 494,180.6 494.2,178.6 494.4,176.8 494.7,175.8 494.9,175.7 495.2,176 495.4,176.4 495.6,176.7 495.9,177 496.1,177.4 496.4,178.1 496.6,179 496.8,180.1 497.1,181 497.3,181.4 497.6,181.3 497.8,180.8 498.1,180 498.3,179.1 498.5,177.8 498.8,176.3 499,174.9 499.3,174.1 499.5,174.1 499.7,175 500,176.1 500.2,176.8 500.5,176.8 500.7,176.3 500.9,175.8 501.2,175.8 501.4,176.6 501.7,178.2 501.9,180.1 502.1,182 502.4,183.2 502.6,183.4 502.9,182.5 503.1,181 503.3,179.6 503.6,179.1 503.8,179.9 504.1,181.5 504.3,182.8 504.5,182.6 504.8,180.6 505,177.8 505.3,175.4 505.5,174.4 505.7,174.7 506,175.6 506.2,176.1 506.5,175.9 506.7,175.3 506.9,175.1 507.2,175.8 507.4,177.4 507.7,179.5 507.9,181.2 508.2,182.1 508.4,182.2 508.6,181.9 508.9,181.5 509.1,181.3 509.4,181 509.6,180.7 509.8,180.4 510.1,180.3 510.3,180.1 510.6,179.8 510.8,179.1 511,178.1 511.3,177 511.5,176 511.8,175.1 512,174.7 512.2,174.9 512.5,175.7 512.7,177 513,178.1 513.2,178.5 513.4,177.9 513.7,176.7 513.9,175.4 514.2,174.6 514.4,174.5 514.6,174.9 514.9,175.3 515.1,175.2 515.4,174.6 515.6,173.8 515.8,173.3 516.1,173.5 516.3,174.4 516.6,175.8 516.8,177.2 517,178.1 517.3,178.3 517.5,178 517.8,177.2 518,176.5 518.3,176 518.5,176.2 518.7,176.9 519,177.9 519.2,178.8 519.5,179 519.7,178.4 519.9,177 520.2,175.2 520.4,173.4 520.7,172.1 520.9,171.8 521.1,172.3 521.4,172.9 521.6,173 521.9,172.5 522.1,172 522.3,172.2 522.6,173.2 522.8,174.2 523.1,174.4 523.3,173.6 523.5,172.6 523.8,172.3 524,172.9 524.3,174 524.5,174.5 524.7,174 525,172.5 525.2,171.1 525.5,170.5 525.7,171 525.9,172.1 526.2,172.8 526.4,172.6 526.7,171.8 526.9,170.9 527.1,170.4 527.4,170.1 527.6,169.8 527.9,169.1 528.1,168.4 528.4,168.2 528.6,168.9 528.8,170.1 529.1,171 529.3,170.9 529.6,170.1 529.8,169.2 530,169.3 530.3,170.8 530.5,173.3 530.8,175.4 531,176.4 531.2,175.9 531.5,174.8 531.7,173.9 532,173.5 532.2,173.4 532.4,173.4 532.7,173.5 532.9,173.8 533.2,174.2 533.4,174.5 533.6,174.2 533.9,173.2 534.1,172 534.4,171.5 534.6,172.1 534.8,173.7 535.1,175.1 535.3,175.5 535.6,174.7 535.8,173.4 536,172.7 536.3,173.4 536.5,174.9 536.8,176.2 537,176.6 537.2,176.2 537.5,175.5 537.7,175.1 538,175.1 538.2,175.4 538.5,175.4 538.7,175.2 538.9,174.8 539.2,174.5 539.4,174.4 539.7,174.4 539.9,174.7 540.1,175.5 540.4,176.9 540.6,178.6 540.9,179.9 541.1,180.3 541.3,179.9 541.6,179.4 541.8,179.5 542.1,180.7 542.3,182.5 542.5,183.8 542.8,183.7 543,182.4 543.3,180.5 543.5,179 543.7,178.3 544,178.5 544.2,179.1 544.5,179.8 544.7,180.3 544.9,180.1 545.2,179 545.4,177.2 545.7,175.5 545.9,175 546.1,176 546.4,177.9 546.6,179.9 546.9,181.3 547.1,181.8 547.3,181.9 547.6,181.8 547.8,181.9 548.1,182.4 548.3,183.4 548.6,184.9 548.8,186.5 549,187.7 549.3,188.1 549.5,187.8 549.8,187.1 550,186.3 550.2,185.1 550.5,183.5 550.7,181.7 551,180 551.2,179 551.4,178.8 551.7,179 551.9,179.4 552.2,179.7 552.4,180.2 552.6,181 552.9,181.9 553.1,182.7 553.4,183.1 553.6,183.2 553.8,183.4 554.1,184.2 554.3,185.7 554.6,187.3 554.8,188.1 555,187.9 555.3,186.9 555.5,185.9 555.8,185.4 556,185.1 556.2,184.6 556.5,183.5 556.7,182.2 557,181 557.2,180.2 557.4,180 557.7,180.2 557.9,180.8 558.2,181.8 558.4,183.1 558.7,184.5 558.9,185.7 559.1,186.2 559.4,186.2 559.6,186 559.9,185.9 560.1,185.8 560.3,185.6 560.6,185 560.8,184.4 561.1,183.9 561.3,183.9 561.5,184 561.8,183.7 562,182.8 562.3,181.3 562.5,179.6 562.7,178.3 563,177.5 563.2,177.3 563.5,177.5 563.7,178 563.9,178.7 564.2,179.5 564.4,180.2 564.7,180.4 564.9,180.2 565.1,179.5 565.4,178.8 565.6,178.4 565.9,178.9 566.1,180 566.3,181.6 566.6,182.9 566.8,183.6 567.1,183.5 567.3,182.7 567.5,181.6 567.8,180.9 568,181 568.3,181.7 568.5,182.6 568.8,182.9 569,182.3 569.2,181.2 569.5,180.1 569.7,179.7 570,179.9 570.2,180 570.4,179.8 570.7,179.1 570.9,178 571.2,177 571.4,176.2 571.6,176.1 571.9,176.7 572.1,177.9 572.4,179.1 572.6,179.8 572.8,179.8 573.1,179.5 573.3,179.4 573.6,179.5 573.8,179.6 574,179.5 574.3,179.2 574.5,179 574.8,179 575,179 575.2,178.6 575.5,177.7 575.7,176.7 576,176.3 576.2,177 576.4,178.3 576.7,179.6 576.9,179.9 577.2,179.2 577.4,177.9 577.6,177.1 577.9,177.2 578.1,177.9 578.4,178.8 578.6,179.2 578.9,179 579.1,178.6 579.3,178.2 579.6,178 579.8,177.9 580.1,178.2 580.3,178.9 580.5,180 580.8,181.4 581,182.6 581.3,183.3 581.5,183.1 581.7,182.1 582,180.6 582.2,179.2 582.5,178.6 582.7,179 582.9,179.6 583.2,179.4 583.4,178 583.7,175.8 583.9,173.9 584.1,173.2 584.4,174 584.6,175.7 584.9,177.6 585.1,179.3 585.3,180.4 585.6,181 585.8,181.2 586.1,180.8 586.3,180 586.5,179.2 586.8,178.9 587,179.4 587.3,180.7 587.5,182.3 587.7,183.4 588,183.4 588.2,182.4 588.5,181 588.7,179.9 589,179.7 589.2,180.6 589.4,182.3 589.7,184.2 589.9,185.5 590.2,185.4 590.4,184 590.6,181.6 590.9,179.3 591.1,178 591.4,178 591.6,179 591.8,180.2 592.1,180.8 592.3,180.1 592.6,178.2 592.8,175.8 593,174 593.3,173.7 593.5,175 593.8,177.3 594,179.1 594.2,179.9 594.5,179.8 594.7,179.7 595,180.1 595.2,181.2 595.4,182.7 595.7,183.9 595.9,184.5 596.2,184.2 596.4,183.3 596.6,182.1 596.9,181.3 597.1,181 597.4,181.4 597.6,182.2 597.8,182.9 598.1,183.1 598.3,182.8 598.6,181.8 598.8,180.3 599.1,179 599.3,178.4 599.5,178.8 599.8,180 600,181.4 600.3,182.7 600.5,183.3 600.7,183.3 601,182.4 601.2,180.9 601.5,179.3 601.7,178.4 601.9,178.8 602.2,180.1 602.4,181.3 602.7,181.5 602.9,180.6 603.1,179.4 603.4,178.7 603.6,178.9 603.9,179.8 604.1,180.7 604.3,181.4 604.6,182 604.8,182.7 605.1,183.4 605.3,183.9 605.5,184 605.8,183.9 606,183.8 606.3,184 606.5,184.3 606.7,184.4 607,183.9 607.2,182.5 607.5,180.6 607.7,178.8 607.9,177.7 608.2,177.6 608.4,178 608.7,178.3 608.9,178.1 609.2,177.3 609.4,176.4 609.6,176.1 609.9,176.4 610.1,177.2 610.4,177.9 610.6,178.4 610.8,179 611.1,179.7 611.3,180.4 611.6,181 611.8,181.6 612,182.5 612.3,183.9 612.5,185.6 612.8,186.8 613,187 613.2,186 613.5,184.3 613.7,182.6 614,181.5 614.2,181.2 614.4,181.5 614.7,181.8 614.9,181.2 615.2,179.3 615.4,176.4 615.6,173.8 615.9,172.4 616.1,172.6 616.4,173.5 616.6,174.5 616.8,175.1 617.1,175.8 617.3,177.1 617.6,179 617.8,180.7 618,181.8 618.3,182.2 618.5,182.2 618.8,182.2 619,182.5 619.3,182.6 619.5,182.1 619.7,181 620,179.5 620.2,178.1 620.5,177.3 620.7,177 620.9,176.9 621.2,176.7 621.4,176.4 621.7,176 621.9,175.6 622.1,175.5 622.4,175.7 622.6,176.3 622.9,177.1 623.1,177.7 623.3,178.2 623.6,178.4 623.8,178.6 624.1,178.8 624.3,179 624.5,179 624.8,178.7 625,178.5 625.3,178.8 625.5,179.7 625.7,180.7 626,181 626.2,180 626.5,177.9 626.7,175.3 626.9,173.2 627.2,172.5 627.4,173.4 627.7,175.2 627.9,176.6 628.1,176.7 628.4,175.5 628.6,173.8 628.9,172.8 629.1,173.2 629.4,174.7 629.6,176.4 629.8,177.6 630.1,178 630.3,177.8 630.6,178 630.8,178.8 631,180.1 631.3,181.3 631.5,181.5 631.8,180.6 632,179 632.2,177.6 632.5,177 632.7,177.4 633,178.3 633.2,179.2 633.4,179.4 633.7,178.9 633.9,177.9 634.2,176.9 634.4,175.9 634.6,175 634.9,174 635.1,173.2 635.4,172.8 635.6,173.1 635.8,173.9 636.1,174.9 636.3,175.8 636.6,176.6 636.8,177.2 637,177.6 637.3,177.6 637.5,177.4 637.8,177.2 638,177.3 638.2,177.7 638.5,178.3 638.7,178.9 639,179.4 639.2,179.9 639.5,180.5 639.7,181.1 639.9,181.3 640.2,181 640.4,180.5 640.7,179.8 640.9,179.3 641.1,178.9 641.4,178.3 641.6,177.6 641.9,177.1 642.1,177 642.3,177.7 642.6,178.7 642.8,179.5 643.1,179.5 643.3,178.4 643.5,176.9 643.8,176.1 644,176.6 644.3,178 644.5,179.5 644.7,180.5 645,180.7 645.2,180.4 645.5,179.8 645.7,179.2 645.9,178.6 646.2,178.5 646.4,178.8 646.7,179.4 646.9,179.9 647.1,179.4 647.4,178.1 647.6,176.3 647.9,174.9 648.1,174.4 648.3,175 648.6,176.3 648.8,177.8 649.1,178.8 649.3,179 649.6,178.5 649.8,177.8 650,177.4 650.3,177.9 650.5,179.2 650.8,180.8 651,181.9 651.2,182 651.5,181.1 651.7,179.6 652,178.2 652.2,177.1 652.4,176.6 652.7,176.8 652.9,177.5 653.2,178.5 653.4,179.3 653.6,179.5 653.9,179 654.1,177.9 654.4,176.6 654.6,175.8 654.8,175.9 655.1,176.7 655.3,177.7 655.6,178.2 655.8,177.7 656,176.6 656.3,175.6 656.5,175.6 656.8,176.9 657,178.8 657.2,180.5 657.5,181.3 657.7,181.1 658,180.4 658.2,179.9 658.4,179.8 658.7,180.1 658.9,180.6 659.2,181 659.4,181.2 659.7,180.9 659.9,180 660.1,178.7 660.4,177.5 660.6,176.7 660.9,176.7 661.1,177.2 661.3,178 661.6,178.6 661.8,178.9 662.1,178.6 662.3,177.8 662.5,176.8 662.8,176 663,176.3 663.3,177.8 663.5,180.2 663.7,182.6 664,183.8 664.2,183.5 664.5,181.9 664.7,179.9 664.9,178.3 665.2,177.9 665.4,178.6 665.7,179.6 665.9,180.2 666.1,179.8 666.4,178.7 666.6,177.5 666.9,177.1 667.1,177.7 667.3,178.7 667.6,179.4 667.8,179.4 668.1,178.8 668.3,178.4 668.5,178.5 668.8,179 669,179.2 669.3,178.8 669.5,177.8 669.8,176.5 670,175.3 670.2,174.7 670.5,174.9 670.7,176 671,177.5 671.2,178.8 671.4,179.1 671.7,178.3 671.9,176.9 672.2,176 672.4,176.2 672.6,177.6 672.9,179.4 673.1,180.9 673.4,181.4 673.6,181.1 673.8,180.3 674.1,179.4 674.3,178.3 674.6,177 674.8,175.5 675,174.1 675.3,173 675.5,172.4 675.8,172.3 676,172.1 676.2,171.6 676.5,170.9 676.7,170.8 677,171.8 677.2,173.6 677.4,175.3 677.7,176.1 677.9,176.1 678.2,176.3 678.4,177.4 678.6,179.6 678.9,181.7 679.1,182.3 679.4,181 679.6,178.4 679.9,176 680.1,175 680.3,175.7 680.6,177.1 680.8,178 681.1,177.4 681.3,175.2 681.5,172.3 681.8,169.6 682,168 682.3,167.7 682.5,168.6 682.7,170 683,171.5 683.2,172.6 683.5,173.3 683.7,173.8 683.9,174.4 684.2,175.5 684.4,176.9 684.7,178.1 684.9,178.6 685.1,178.7 685.4,179 685.6,179.8 685.9,181 686.1,181.9 686.3,182 686.6,181.3 686.8,180.3 687.1,179.8 687.3,179.9 687.5,180.3 687.8,180.7 688,180.3 688.3,179 688.5,176.6 688.7,173.9 689,172 689.2,171.9 689.5,173.9 689.7,176.9 690,179.4 690.2,180.3 690.4,179.7 690.7,178.6 690.9,177.9 691.2,178.1 691.4,179 691.6,180.2 691.9,181.5 692.1,182.5 692.4,183.2 692.6,183.4 692.8,183 693.1,182.1 693.3,181 693.6,179.8 693.8,178.8 694,177.9 694.3,177.3 694.5,177 694.8,176.9 695,177.1 695.2,177.3 695.5,177.3 695.7,177.2 696,177.3 696.2,177.8 696.4,178.7 696.7,180.1 696.9,181.5 697.2,182.5 697.4,182.6 697.6,182.2 697.9,181.9 698.1,182 698.4,182.7 698.6,183.4 698.8,184 699.1,184.1 699.3,184 699.6,183.2 699.8,181.7 700.1,179.3 700.3,176.4 700.5,173.8 700.8,172.2 701,172.2 701.3,173.5 701.5,175.6 701.7,177.8 702,179.4 702.2,180 702.5,179.5 702.7,178.7 702.9,178.3 703.2,179.1 703.4,180.9 703.7,183 703.9,184.3 704.1,184.5 704.4,183.8 704.6,182.9 704.9,182.7 705.1,183.2 705.3,184.3 705.6,185.1 705.8,184.9 706.1,183.5 706.3,181.4 706.5,179.5 706.8,178.5 707,178.5 707.3,178.8 707.5,178.5 707.7,177.6 708,176.4 708.2,175.6 708.5,175.4 708.7,175.5 708.9,175.6 709.2,175.2 709.4,174.5 709.7,173.8 709.9,173.7 710.2,174.3 710.4,175.6 710.6,177.2 710.9,178.6 711.1,179.4 711.4,179.7 711.6,179.8 711.8,180.4 712.1,181.6 712.3,183.1 712.6,184.1 712.8,184 713,182.7 713.3,180.9 713.5,179.7 713.8,179.9 714,181.1 714.2,182.6 714.5,183.4 714.7,183.3 715,182.6 715.2,181.9 715.4,181.5 715.7,181.3 715.9,180.9 716.2,180.2 716.4,179 716.6,177.4 716.9,175.6 717.1,173.9 717.4,172.7 717.6,172.2 717.8,172.5 718.1,173.4 718.3,174.7 718.6,176.1 718.8,177.3 719,178 719.3,178.4 719.5,178.3 719.8,178.3 720,178.6 720.3,179.5 720.5,180.9 720.7,182.4 721,183.5 721.2,183.8 721.5,183.2 721.7,181.7 721.9,179.5 722.2,177.3 722.4,175.7 722.7,175.4 722.9,176.3 723.1,177.8 723.4,179 723.6,179.3 723.9,178.8 724.1,178.1 724.3,178 724.6,179 724.8,180.9 725.1,182.8 725.3,184 725.5,184.3 725.8,183.8 726,183.2 726.3,182.7 726.5,182.2 726.7,181.4 727,180.5 727.2,179.3 727.5,178.2 727.7,177.3 727.9,176.7 728.2,176.5 728.4,176.5 728.7,176.7 728.9,177.1 729.1,177.8 729.4,178.7 729.6,179.6 729.9,180.1 730.1,180 730.4,179.4 730.6,178.5 730.8,177.5 731.1,176.9 731.3,176.9 731.6,177.6 731.8,178.8 732,179.9 732.3,180.5 732.5,180.4 732.8,179.7 733,178.8 733.2,177.9 733.5,177.1 733.7,176.6 734,176.5 734.2,177 734.4,178 734.7,179.1 734.9,179.9 735.2,179.9 735.4,179 735.6,177.7 735.9,176.9 736.1,177.3 736.4,178.8 736.6,180.6 736.8,181.9 737.1,182.3 737.3,182 737.6,181.7 737.8,181.5 738,181.3 738.3,180.7 738.5,179.7 738.8,178.6 739,177.9 739.2,177.7 739.5,178.2 739.7,178.9 740,179.6 740.2,179.7 740.5,179.1 740.7,177.9 740.9,176.6 741.2,175.7 741.4,175.7 741.7,176.4 741.9,177.4 742.1,178.2 742.4,178.6 742.6,178.7 742.9,178.5 743.1,178 743.3,177.2 743.6,176.2 743.8,175.7 744.1,175.8 744.3,176 744.5,175.8 744.8,175.4 745,175.3 745.3,176.3 745.5,178.1 745.7,179.9 746,180.5 746.2,180 746.5,179.2 746.7,179.2 746.9,180.5 747.2,182.4 747.4,183.7 747.7,183.7 747.9,182.7 748.1,181.5 748.4,180.7 748.6,180.5 748.9,180.3 749.1,179.4 749.3,178.1 749.6,176.9 749.8,176.6 750.1,177 750.3,177.7 750.6,178 750.8,178.1 751,178.2 751.3,178.5 751.5,179 751.8,179.4 752,179.6 752.2,179.5 752.5,179.2 752.7,178.8 753,178.2 753.2,177.9 753.4,178 753.7,178.8 753.9,179.9 754.2,180.6 754.4,180.1 754.6,178.7 754.9,177.1 755.1,176.3 755.4,176.7 755.6,177.9 755.8,179 756.1,179.7 756.3,180.1 756.6,180.5 756.8,181.3 757,182.5 757.3,183.6 757.5,184.1 757.8,183.6 758,182.2 758.2,180.6 758.5,179.5 758.7,179.1 759,179.5 759.2,180.1 759.4,180.3 759.7,179.8 759.9,178.8 760.2,177.6 760.4,177.1 760.7,177.3 760.9,178.3 761.1,179.6 761.4,180.7 761.6,181.1 761.9,180.6 762.1,179.5 762.3,178.5 762.6,178.3 762.8,178.7 763.1,179.5 763.3,180.1 763.5,180.3 763.8,180.5 764,180.8 764.3,181.3 764.5,181.7 764.7,181.8 765,181.5 765.2,181 765.5,180.6 765.7,180.5 765.9,180.6 766.2,181 766.4,181.7 766.7,182.7 766.9,183.7 767.1,184.2 767.4,183.6 767.6,181.9 767.9,179.7 768.1,178.2 768.3,178 768.6,178.9 768.8,180 769.1,180.5 769.3,180 769.5,178.7 769.8,177.5 770,176.6 770.3,176.1 770.5,175.7 770.8,175.6 771,175.9 771.2,176.7 771.5,177.7 771.7,178.5 772,178.7 772.2,178.6 772.4,178.5 772.7,179.1 772.9,180.4 773.2,181.7 773.4,182.2 773.6,181.8 773.9,180.9 774.1,180.2 774.4,180.2 774.6,180.6" fill="none" stroke="#000" stroke-width="1.75" stroke-linejoin="miter"/>
<path d="M153.4,205.2v8.7M160.4,201.3v3.3M174.1,201.6v7M178.9,205v4.3M184.7,208.4v8.5M185.9,203.6v7.9M214.3,201.9v4.1M218.6,204.3v2.6M230.4,202.9v2.6M234,204.9v7.3M247,205.6v4.3M248.9,196.1v6.2M249.9,200.8v5.4M263.8,199.4v3.2M284.7,203.6v4M294.8,201v3.3M315.8,201.8v7.2M328,204.3v3.2M336.2,203.1v5.1M352.1,202.6v8M361.5,202.5v7.9M373,204.6v3.4M399.9,202.7v3.2M423.7,206.8v5.5M429,205.5v5.1M432.9,204.4v4M485.5,198.6v2.6M494.2,200.5v8.1M497.8,201.4v4.3M506.2,198.5v2.9M510.1,202.2v5.1M517.8,200v7.4M538.2,198v3.7M545.7,198.5v7M554.6,212.2v5.4M570.7,205.1v4.5M578.1,199.1v8M583.4,204.8v8.6M586.3,202v5.3M603.9,203.9v5.1M621.7,200.6v8.6M626,202.9v7.3M635.6,198.1v8.3M641.1,202.6v7.8M651,204.8v5.1M651.5,205.5v8.1M687.1,198.2v7.1M694.3,195.9v2.9M714.2,203v7M751.5,200.2v5.8M756.8,203.2v6M762.6,198.3v6.8" fill="none" stroke="#3a3a3a" stroke-width="1" />
<path d="M149.6,197 149.8,197.6 150.1,198.2 150.3,198.2 150.6,198 150.8,198.2 151,199.1 151.3,200.7 151.5,202.1 151.8,202.8 152,202.6 152.2,202 152.5,201.8 152.7,202.5 153,203.9 153.2,205 153.4,205.2 153.7,204.2 153.9,202.5 154.2,200.9 154.4,200 154.7,199.8 154.9,200.1 155.1,200.4 155.4,200.5 155.6,200.2 155.9,199.7 156.1,199 156.3,198.2 156.6,197.6 156.8,197.4 157.1,197.6 157.3,198 157.5,198.5 157.8,198.8 158,199.2 158.3,199.6 158.5,200.3 158.7,200.8 159,200.9 159.2,200.4 159.5,199.6 159.7,199.2 159.9,199.4 160.2,200.4 160.4,201.3 160.7,201.9 160.9,201.9 161.1,201.8 161.4,202 161.6,202.5 161.9,202.9 162.1,202.8 162.3,202.3 162.6,201.8 162.8,201.4 163.1,201.1 163.3,200.5 163.5,199.2 163.8,197.6 164,196.3 164.3,195.6 164.5,195.6 164.8,195.7 165,195.6 165.2,195.4 165.5,195.6 165.7,196.3 166,197.4 166.2,198.2 166.4,198.3 166.7,197.7 166.9,197.2 167.2,197.3 167.4,198.4 167.6,200.1 167.9,201.9 168.1,203.5 168.4,204.7 168.6,205.5 168.8,205.8 169.1,205.2 169.3,203.7 169.6,201.5 169.8,199.2 170,197.6 170.3,197.1 170.5,197.8 170.8,198.9 171,199.8 171.2,200 171.5,199.2 171.7,197.7 172,196 172.2,194.7 172.4,194.3 172.7,195 172.9,196.5 173.2,198.3 173.4,199.8 173.6,200.9 173.9,201.6 174.1,201.6 174.4,201.1 174.6,200.2 174.9,199.2 175.1,198.8 175.3,199.2 175.6,200 175.8,200.8 176.1,201.2 176.3,201 176.5,200.7 176.8,200.4 177,200.1 177.3,199.5 177.5,199.3 177.7,199.9 178,201.6 178.2,203.9 178.5,205.6 178.7,205.9 178.9,205 179.2,203.7 179.4,202.9 179.7,202.5 179.9,201.9 180.1,200.6 180.4,198.6 180.6,196.7 180.9,195.3 181.1,194.7 181.3,194.8 181.6,195.1 181.8,195.7 182.1,196.7 182.3,198.1 182.5,199.7 182.8,200.8 183,201.2 183.3,201.2 183.5,201.9 183.7,203.7 184,206.4 184.2,208.7 184.5,209.5 184.7,208.4 185,206.4 185.2,204.4 185.4,203.4 185.7,203.3 185.9,203.6 186.2,204 186.4,203.9 186.6,202.9 186.9,200.9 187.1,198.6 187.4,196.7 187.6,196 187.8,196.5 188.1,197.5 188.3,198.5 188.6,199.1 188.8,199.5 189,200.1 189.3,200.8 189.5,201.9 189.8,203.3 190,204.5 190.2,205.3 190.5,205.4 190.7,205.1 191,204.8 191.2,205 191.4,206 191.7,207.1 191.9,208 192.2,208.2 192.4,207.6 192.6,206.6 192.9,205.6 193.1,204.9 193.4,204.4 193.6,203.8 193.8,203 194.1,201.9 194.3,201.1 194.6,200.8 194.8,200.8 195.1,200.7 195.3,200 195.5,198.9 195.8,198.2 196,198.7 196.3,200.8 196.5,203.4 196.7,205.4 197,205.9 197.2,205.5 197.5,204.9 197.7,205.1 197.9,206 198.2,207.2 198.4,208.1 198.7,208.6 198.9,208.8 199.1,208.8 199.4,208.7 199.6,208.4 199.9,207.9 200.1,207.3 200.3,206.8 200.6,206.5 200.8,206.3 201.1,205.9 201.3,205.3 201.5,204.1 201.8,202.6 202,200.9 202.3,199.2 202.5,197.9 202.7,197.4 203,197.9 203.2,199.1 203.5,200.1 203.7,200.3 203.9,200.2 204.2,200.4 204.4,201.6 204.7,203.4 204.9,205.2 205.2,206 205.4,205.9 205.6,205.5 205.9,205.5 206.1,206.4 206.4,207.6 206.6,208.4 206.8,208.2 207.1,207.2 207.3,206.3 207.6,206 207.8,206.5 208,207.3 208.3,207.3 208.5,205.8 208.8,202.9 209,199.7 209.2,197.9 209.5,198.1 209.7,199.8 210,201.5 210.2,202 210.4,201 210.7,199.7 210.9,198.9 211.2,199.2 211.4,200 211.6,200.6 211.9,200.5 212.1,200.3 212.4,200.5 212.6,201.5 212.8,202.9 213.1,204 213.3,204 213.6,203 213.8,201.6 214,201 214.3,201.9 214.5,203.7 214.8,205.3 215,205.2 215.3,203 215.5,199.8 215.7,197.2 216,196.6 216.2,197.8 216.5,199.7 216.7,201.1 216.9,201.4 217.2,200.9 217.4,200.3 217.7,200.1 217.9,200.6 218.1,201.8 218.4,203.2 218.6,204.3 218.9,204.4 219.1,204 219.3,203.9 219.6,204.9 219.8,206.5 220.1,207.5 220.3,206.7 220.5,204 220.8,200.4 221,197.4 221.3,196 221.5,196 221.7,196.9 222,197.9 222.2,198.8 222.5,199.4 222.7,200 222.9,200.4 223.2,200.6 223.4,200.6 223.7,200.7 223.9,201.1 224.1,202.6 224.4,204.7 224.6,206.8 224.9,207.7 225.1,207 225.4,205.1 225.6,203.2 225.8,201.9 226.1,201.2 226.3,200.9 226.6,200.5 226.8,200.1 227,199.6 227.3,199.1 227.5,198.3 227.8,197.5 228,197.1 228.2,197.6 228.5,199 228.7,200.8 229,202.3 229.2,203.2 229.4,203.5 229.7,203.2 229.9,202.6 230.2,202.3 230.4,202.9 230.6,204.8 230.9,207.3 231.1,209.2 231.4,209.5 231.6,208 231.8,205.9 232.1,204.3 232.3,203.8 232.6,204.6 232.8,205.9 233,207 233.3,207.3 233.5,206.8 233.8,205.9 234,204.9 234.2,204 234.5,203.1 234.7,202.3 235,201.6 235.2,201.3 235.5,201.6 235.7,202 235.9,201.9 236.2,200.9 236.4,199.5 236.7,199.1 236.9,200.4 237.1,203.4 237.4,206.6 237.6,208.5 237.9,208.4 238.1,206.5 238.3,204.3 238.6,203.1 238.8,203.6 239.1,205.1 239.3,206.6 239.5,207.2 239.8,206.7 240,205.6 240.3,204.6 240.5,204.4 240.7,205 241,206.1 241.2,207 241.5,207.4 241.7,207.2 241.9,206.6 242.2,206.1 242.4,205.7 242.7,205.5 242.9,205.1 243.1,204.3 243.4,203.4 243.6,202.7 243.9,202.3 244.1,202.3 244.3,202.4 244.6,202.5 244.8,202.8 245.1,203.3 245.3,204.2 245.6,205.1 245.8,205.7 246,205.8 246.3,205.4 246.5,205 246.8,205.1 247,205.6 247.2,206.1 247.5,205.9 247.7,204.2 248,201.1 248.2,197.7 248.4,195.3 248.7,194.8 248.9,196.1 249.2,198.2 249.4,200 249.6,200.9 249.9,200.8 250.1,200.4 250.4,200.4 250.6,201.3 250.8,202.9 251.1,204.3 251.3,204.6 251.6,203.4 251.8,201.2 252,198.8 252.3,197.3 252.5,197.1 252.8,198 253,199.4 253.2,200 253.5,199.2 253.7,197.4 254,195.6 254.2,194.9 254.4,195.3 254.7,196.4 254.9,197.3 255.2,197.8 255.4,198.4 255.7,199.2 255.9,200 256.1,200.5 256.4,200.2 256.6,199.4 256.9,198.8 257.1,198.8 257.3,199.2 257.6,199.5 257.8,199.3 258.1,198.3 258.3,196.8 258.5,195.4 258.8,194.5 259,194.4 259.3,194.9 259.5,195.6 259.7,195.9 260,195.9 260.2,195.9 260.5,196.1 260.7,196.9 260.9,198 261.2,199 261.4,199.7 261.7,199.8 261.9,199.3 262.1,198.1 262.4,196.6 262.6,195.3 262.9,194.8 263.1,195.4 263.3,196.8 263.6,198.4 263.8,199.4 264.1,199.5 264.3,198.9 264.5,197.8 264.8,197 265,197 265.3,197.9 265.5,199.6 265.8,201.4 266,202.5 266.2,202.5 266.5,201.6 266.7,200.1 267,198.5 267.2,197.3 267.4,196.7 267.7,197 267.9,197.8 268.2,198.7 268.4,199.1 268.6,198.7 268.9,198 269.1,197.6 269.4,197.9 269.6,198.7 269.8,199.6 270.1,200 270.3,200.1 270.6,200.2 270.8,200.5 271,201.1 271.3,201.8 271.5,202.3 271.8,202 272,200.9 272.2,199.1 272.5,197.5 272.7,196.8 273,197.4 273.2,198.6 273.4,199.3 273.7,198.8 273.9,197.5 274.2,196.6 274.4,197.1 274.6,199.1 274.9,201.6 275.1,203.5 275.4,204.1 275.6,204 275.9,203.6 276.1,203.3 276.3,203 276.6,202.4 276.8,201.8 277.1,201.5 277.3,201.8 277.5,202.3 277.8,202.4 278,201.6 278.3,200 278.5,198.4 278.7,197.8 279,198.5 279.2,200.1 279.5,201.5 279.7,202 279.9,201.1 280.2,199.6 280.4,198.6 280.7,198.9 280.9,200.3 281.1,201.9 281.4,202.8 281.6,202.3 281.9,200.6 282.1,198.5 282.3,196.9 282.6,196.4 282.8,197.3 283.1,198.9 283.3,200.6 283.5,201.7 283.8,202 284,202 284.3,202.3 284.5,202.9 284.7,203.6 285,204 285.2,203.7 285.5,203 285.7,202.2 286,201.9 286.2,202.1 286.4,202.5 286.7,202.6 286.9,202.1 287.2,200.8 287.4,199 287.6,197.5 287.9,197.1 288.1,198.1 288.4,200.3 288.6,202.5 288.8,204.1 289.1,204.6 289.3,204.2 289.6,203.2 289.8,202 290,200.8 290.3,200.1 290.5,200.2 290.8,201 291,202 291.2,202.6 291.5,202.4 291.7,201.4 292,200.3 292.2,199.6 292.4,199.5 292.7,199.4 292.9,198.9 293.2,197.9 293.4,196.8 293.6,196.4 293.9,197 294.1,198.1 294.4,199.4 294.6,200.2 294.8,201 295.1,202 295.3,203.7 295.6,205.5 295.8,206.8 296.1,207.3 296.3,207.1 296.5,206.7 296.8,206.5 297,206.5 297.3,206.5 297.5,206.2 297.7,205.4 298,204.4 298.2,203.3 298.5,202.5 298.7,202 298.9,201.6 299.2,201.2 299.4,200.9 299.7,200.7 299.9,200.5 300.1,200 300.4,199.4 300.6,198.9 300.9,199.1 301.1,200 301.3,201.3 301.6,202.2 301.8,202.4 302.1,202 302.3,201.8 302.5,202.1 302.8,202.6 303,202.8 303.3,202.3 303.5,201.5 303.7,201.3 304,201.9 304.2,203 304.5,204.1 304.7,204.7 304.9,205 305.2,205.3 305.4,205.5 305.7,205.1 305.9,203.8 306.2,202.1 306.4,200.8 306.6,200.9 306.9,202.1 307.1,203.4 307.4,203.8 307.6,202.8 307.8,201 308.1,199.3 308.3,198.4 308.6,198.4 308.8,198.9 309,199.9 309.3,201.3 309.5,202.8 309.8,203.8 310,203.8 310.2,202.9 310.5,202.1 310.7,202.4 311,203.9 311.2,205.7 311.4,206.7 311.7,206.4 311.9,205.3 312.2,204 312.4,203.3 312.6,203.4 312.9,203.7 313.1,203.9 313.4,203.3 313.6,202 313.8,200.5 314.1,199.5 314.3,199.5 314.6,200.3 314.8,201.3 315,201.8 315.3,201.7 315.5,201.5 315.8,201.8 316,202.8 316.3,204.2 316.5,205 316.7,204.3 317,202.2 317.2,199.9 317.5,198.5 317.7,198.8 317.9,200.6 318.2,202.9 318.4,204.7 318.7,205.6 318.9,205.3 319.1,203.6 319.4,200.8 319.6,197.6 319.9,195.8 320.1,196.4 320.3,199.3 320.6,203.2 320.8,206 321.1,206.8 321.3,205.4 321.5,203.3 321.8,201.6 322,201.4 322.3,202.7 322.5,204.8 322.7,206.5 323,206.9 323.2,205.6 323.5,203 323.7,200.2 323.9,198.2 324.2,197.8 324.4,198.7 324.7,200.2 324.9,201.5 325.1,202.2 325.4,202.5 325.6,202.5 325.9,202.4 326.1,202.2 326.4,202.2 326.6,202.4 326.8,203.1 327.1,204.1 327.3,205 327.6,205.4 327.8,205.1 328,204.3 328.3,203.6 328.5,203.4 328.8,203.5 329,203.3 329.2,202.3 329.5,200.7 329.7,199 330,198.3 330.2,198.9 330.4,200.7 330.7,202.8 330.9,204 331.2,203.7 331.4,202 331.6,199.8 331.9,198.2 332.1,198 332.4,199.3 332.6,201.7 332.8,204.1 333.1,205.5 333.3,205.7 333.6,204.8 333.8,203.5 334,202.1 334.3,201.1 334.5,200.5 334.8,200.5 335,201.1 335.2,201.9 335.5,202.8 335.7,203.4 336,203.4 336.2,203.1 336.5,202.6 336.7,202.3 336.9,202.2 337.2,202.5 337.4,203 337.7,203.7 337.9,204.6 338.1,205.4 338.4,205.5 338.6,204.8 338.9,203.7 339.1,202.9 339.3,202.7 339.6,202.6 339.8,201.8 340.1,200.2 340.3,198.4 340.5,197.3 340.8,197.5 341,198.8 341.3,200.4 341.5,201.8 341.7,202.4 342,202.1 342.2,201.3 342.5,200.9 342.7,201.5 342.9,202.8 343.2,204.4 343.4,205.8 343.7,206.6 343.9,207 344.1,206.8 344.4,206 344.6,204.6 344.9,203.2 345.1,202.3 345.3,201.9 345.6,201.6 345.8,200.8 346.1,199.5 346.3,198.2 346.6,197.8 346.8,198.2 347,199 347.3,199.5 347.5,199.4 347.8,198.9 348,198.6 348.2,198.9 348.5,199.7 348.7,200.8 349,202.1 349.2,203.2 349.4,204.1 349.7,204.6 349.9,204.8 350.2,204.7 350.4,204.4 350.6,204.2 350.9,204.2 351.1,204.4 351.4,204.7 351.6,204.5 351.8,203.8 352.1,202.6 352.3,201.1 352.6,200 352.8,199.6 353,199.9 353.3,200.5 353.5,200.7 353.8,199.9 354,198.3 354.2,196.4 354.5,195.3 354.7,195.7 355,197.4 355.2,199.5 355.4,201.1 355.7,201.9 355.9,202.1 356.2,202.3 356.4,202.4 356.7,202.4 356.9,202.3 357.1,202.3 357.4,202.6 357.6,203.3 357.9,203.7 358.1,203.5 358.3,202.5 358.6,201.1 358.8,200.1 359.1,199.9 359.3,200.3 359.5,200.8 359.8,201 360,200.9 360.3,200.9 360.5,201.1 360.7,201.6 361,202.1 361.2,202.4 361.5,202.5 361.7,202.5 361.9,202.4 362.2,202.4 362.4,202.7 362.7,203.3 362.9,204 363.1,204.5 363.4,204.5 363.6,203.7 363.9,202.4 364.1,201.2 364.3,200.4 364.6,200.4 364.8,201.1 365.1,201.8 365.3,202 365.5,201.5 365.8,200.7 366,199.9 366.3,199.6 366.5,199.8 366.8,200.4 367,201.2 367.2,202 367.5,202.3 367.7,202 368,201.2 368.2,200.1 368.4,199.5 368.7,199.3 368.9,199.8 369.2,200.6 369.4,201.2 369.6,201.1 369.9,200.4 370.1,199.3 370.4,198.6 370.6,198.7 370.8,199.5 371.1,200.7 371.3,201.7 371.6,202.3 371.8,202.6 372,202.8 372.3,203.2 372.5,203.7 372.8,204.3 373,204.6 373.2,204.8 373.5,205 373.7,205.2 374,205.1 374.2,204.3 374.4,202.6 374.7,200.3 374.9,198.4 375.2,197.4 375.4,197.4 375.6,197.8 375.9,197.9 376.1,197.4 376.4,197.1 376.6,197.5 376.9,199.1 377.1,201.5 377.3,204 377.6,205.6 377.8,206.1 378.1,205.7 378.3,205 378.5,204.5 378.8,204.4 379,204.3 379.3,204 379.5,203.4 379.7,202.5 380,201.5 380.2,200.4 380.5,199.3 380.7,197.9 380.9,196.2 381.2,194.8 381.4,194.2 381.7,195 381.9,197 382.1,199.2 382.4,200.5 382.6,200.4 382.9,199.6 383.1,199.3 383.3,200.1 383.6,201.8 383.8,203.4 384.1,204 384.3,203.2 384.5,201.3 384.8,199.3 385,198.2 385.3,198.6 385.5,200.2 385.7,201.8 386,202.2 386.2,201 386.5,199 386.7,197.5 387,197.5 387.2,199.1 387.4,201.3 387.7,203.2 387.9,204.1 388.2,203.7 388.4,202.3 388.6,200.3 388.9,198.5 389.1,197.6 389.4,197.7 389.6,198.4 389.8,198.9 390.1,198.5 390.3,197.3 390.6,196 390.8,195.5 391,196.1 391.3,197.5 391.5,198.7 391.8,198.7 392,197.8 392.2,196.9 392.5,197.2 392.7,199.2 393,202.1 393.2,204.6 393.4,205.8 393.7,205.5 393.9,204.1 394.2,202.4 394.4,201 394.6,200.2 394.9,199.6 395.1,198.9 395.4,198.2 395.6,197.6 395.8,197.5 396.1,197.6 396.3,197.3 396.6,196.1 396.8,194.5 397.1,193.4 397.3,193.8 397.5,196.1 397.8,199.2 398,202 398.3,203.2 398.5,202.8 398.7,201.5 399,200.6 399.2,200.7 399.5,201.6 399.7,202.4 399.9,202.7 400.2,202.3 400.4,201.6 400.7,200.8 400.9,200.4 401.1,200.2 401.4,200.4 401.6,200.5 401.9,199.9 402.1,198.7 402.3,197.6 402.6,197.4 402.8,198.3 403.1,199.8 403.3,200.6 403.5,200.4 403.8,199.6 404,199 404.3,199.1 404.5,199.7 404.7,200.2 405,200.3 405.2,200.1 405.5,199.9 405.7,199.7 405.9,199.4 406.2,198.9 406.4,198.1 406.7,197.5 406.9,197.7 407.2,198.8 407.4,200.8 407.6,203 407.9,204.5 408.1,204.6 408.4,203 408.6,200.5 408.8,198.4 409.1,198 409.3,199.6 409.6,202.1 409.8,203.7 410,203.3 410.3,201.4 410.5,199.3 410.8,198.5 411,199.1 411.2,200.4 411.5,201.3 411.7,201.6 412,201.4 412.2,200.9 412.4,200.5 412.7,200.4 412.9,200.7 413.2,201.2 413.4,201.8 413.6,201.7 413.9,200.7 414.1,199 414.4,197.3 414.6,196.1 414.8,195.8 415.1,196.5 415.3,198 415.6,199.8 415.8,201.1 416,201.3 416.3,200.5 416.5,199.5 416.8,199.3 417,200.6 417.3,202.8 417.5,204.4 417.7,204.8 418,203.8 418.2,202.5 418.5,201.6 418.7,201.2 418.9,201 419.2,200.7 419.4,200.3 419.7,199.8 419.9,199.3 420.1,199 420.4,199 420.6,199.8 420.9,201.2 421.1,202.7 421.3,203.9 421.6,204.4 421.8,204.6 422.1,204.9 422.3,205.5 422.5,206.3 422.8,207 423,207.3 423.3,207.3 423.5,207.1 423.7,206.8 424,206.3 424.2,205.4 424.5,203.9 424.7,202 424.9,200.5 425.2,200.3 425.4,201.3 425.7,202.5 425.9,202.7 426.1,201.7 426.4,200.2 426.6,199.4 426.9,199.8 427.1,201.2 427.4,202.9 427.6,204.1 427.8,204.6 428.1,204.4 428.3,204 428.6,203.9 428.8,204.4 429,205.5 429.3,207 429.5,208.2 429.8,208.7 430,208.2 430.2,207.1 430.5,206 430.7,205.4 431,205.8 431.2,206.6 431.4,207.6 431.7,208.1 431.9,207.8 432.2,206.7 432.4,205.2 432.6,204.3 432.9,204.4 433.1,205.2 433.4,205.9 433.6,205.7 433.8,204.7 434.1,203.4 434.3,202.8 434.6,203.2 434.8,204.6 435,206.3 435.3,207.5 435.5,207.5 435.8,206.1 436,203.9 436.2,201.9 436.5,201 436.7,201.7 437,203.6 437.2,206.1 437.5,208.2 437.7,209.3 437.9,209.4 438.2,208.9 438.4,208.2 438.7,208.2 438.9,209 439.1,210.1 439.4,210.8 439.6,210.5 439.9,209 440.1,207.2 440.3,206 440.6,206 440.8,207.1 441.1,208.7 441.3,209.8 441.5,209.5 441.8,208 442,206 442.3,204.4 442.5,204 442.7,204.7 443,205.9 443.2,206.9 443.5,206.9 443.7,205.8 443.9,204.3 444.2,203.1 444.4,203.3 444.7,204.9 444.9,207.5 445.1,210 445.4,211.6 445.6,212.3 445.9,212.6 446.1,213 446.3,213.6 446.6,214 446.8,213.6 447.1,212.6 447.3,211.4 447.6,210.7 447.8,210.3 448,209.9 448.3,209.1 448.5,208 448.8,207.1 449,207.1 449.2,207.6 449.5,208 449.7,207.8 450,207 450.2,206.1 450.4,205.9 450.7,206.3 450.9,207.1 451.2,207.6 451.4,207.6 451.6,207.1 451.9,206.6 452.1,206.6 452.4,207.2 452.6,208.1 452.8,209 453.1,209.6 453.3,209.8 453.6,209.5 453.8,208.7 454,207.7 454.3,207.2 454.5,207.5 454.8,208.5 455,209.2 455.2,209 455.5,208.1 455.7,207.3 456,207.5 456.2,208.5 456.4,209.6 456.7,209.9 456.9,209.2 457.2,208.1 457.4,207.6 457.7,207.9 457.9,208.9 458.1,210.1 458.4,210.8 458.6,210.7 458.9,209.7 459.1,208.2 459.3,206.4 459.6,204.8 459.8,203.6 460.1,202.8 460.3,202.2 460.5,201.5 460.8,201.1 461,201.2 461.3,202.1 461.5,203.5 461.7,204.7 462,205.3 462.2,205.3 462.5,205.2 462.7,205.5 462.9,206.4 463.2,207.5 463.4,208.4 463.7,208.6 463.9,208.1 464.1,207.2 464.4,206.3 464.6,205.7 464.9,205.5 465.1,205.3 465.3,205 465.6,204.3 465.8,203.2 466.1,201.9 466.3,200.8 466.5,200.1 466.8,199.8 467,199.8 467.3,200.2 467.5,201 467.8,202 468,203.1 468.2,203.7 468.5,203.5 468.7,202.8 469,202 469.2,201.6 469.4,201.8 469.7,202.5 469.9,203 470.2,202.9 470.4,202.1 470.6,201 470.9,200.3 471.1,200.3 471.4,200.8 471.6,201.2 471.8,201.3 472.1,201.3 472.3,201.6 472.6,202.2 472.8,203 473,203.6 473.3,203.5 473.5,202.9 473.8,201.8 474,200.9 474.2,200.5 474.5,200.9 474.7,201.8 475,202.4 475.2,202.4 475.4,201.8 475.7,201 475.9,200.6 476.2,201 476.4,202 476.6,203.1 476.9,203.8 477.1,203.6 477.4,202.6 477.6,201.3 477.9,200.6 478.1,200.9 478.3,201.9 478.6,202.4 478.8,201.8 479.1,200 479.3,198.1 479.5,197.4 479.8,198.3 480,200.3 480.3,202.1 480.5,202.8 480.7,202.3 481,201.1 481.2,200.2 481.5,200.2 481.7,201.2 481.9,202.3 482.2,202.8 482.4,202.5 482.7,201.8 482.9,201.2 483.1,201.2 483.4,201.3 483.6,201.3 483.9,200.9 484.1,200.3 484.3,199.6 484.6,199 484.8,198.7 485.1,198.5 485.3,198.5 485.5,198.6 485.8,198.9 486,199.7 486.3,200.8 486.5,201.6 486.7,201.6 487,200.8 487.2,199.8 487.5,199.5 487.7,200.1 488,201 488.2,201.3 488.4,200.5 488.7,199.2 488.9,198.1 489.2,197.8 489.4,198.2 489.6,198.9 489.9,199.5 490.1,199.8 490.4,200 490.6,200.5 490.8,201.8 491.1,203.6 491.3,205.3 491.6,206.2 491.8,205.9 492,204.7 492.3,203.3 492.5,202.5 492.8,202.2 493,202.1 493.2,201.8 493.5,201.3 493.7,200.9 494,200.7 494.2,200.5 494.4,199.9 494.7,199.1 494.9,198.4 495.2,198.5 495.4,199.7 495.6,201.3 495.9,202.3 496.1,202.1 496.4,200.9 496.6,199.8 496.8,199.8 497.1,200.8 497.3,201.9 497.6,202.1 497.8,201.4 498.1,200.3 498.3,199.4 498.5,198.9 498.8,198.5 499,197.9 499.3,197.3 499.5,196.9 499.7,197.3 500,198.5 500.2,200.2 500.5,201.6 500.7,202 500.9,201.5 501.2,200.5 501.4,200 501.7,200.2 501.9,201.2 502.1,202.3 502.4,203.2 502.6,203.6 502.9,203.6 503.1,203.3 503.3,202.9 503.6,202.6 503.8,202.6 504.1,202.9 504.3,202.9 504.5,202.3 504.8,201.1 505,200.1 505.3,199.7 505.5,199.8 505.7,200 506,199.5 506.2,198.5 506.5,197.6 506.7,197.7 506.9,198.8 507.2,200.5 507.4,202.1 507.7,202.9 507.9,202.9 508.2,202.4 508.4,202.1 508.6,202 508.9,202 509.1,201.9 509.4,201.7 509.6,201.5 509.8,201.6 510.1,202.2 510.3,203 510.6,203.3 510.8,203.1 511,202.3 511.3,201.4 511.5,200.8 511.8,200.4 512,199.9 512.2,199.4 512.5,199.1 512.7,199.5 513,200.4 513.2,201.2 513.4,201.3 513.7,200.6 513.9,199.6 514.2,199 514.4,199 514.6,199.4 514.9,199.7 515.1,199.4 515.4,198.5 515.6,197.4 515.8,196.7 516.1,197 516.3,198.3 516.6,200.2 516.8,201.8 517,202.5 517.3,202.2 517.5,201.2 517.8,200 518,199.1 518.3,198.6 518.5,198.8 518.7,199.7 519,201.1 519.2,202.4 519.5,202.9 519.7,202.3 519.9,200.9 520.2,199.1 520.4,197.4 520.7,196.2 520.9,195.8 521.1,196.1 521.4,196.9 521.6,197.5 521.9,197.3 522.1,196.3 522.3,195.4 522.6,195.5 522.8,196.8 523.1,198.2 523.3,198.4 523.5,197.1 523.8,195.2 524,194.1 524.3,194.8 524.5,196.5 524.7,198.1 525,198.3 525.2,197.4 525.5,196.2 525.7,195.7 525.9,196.1 526.2,196.7 526.4,196.8 526.7,196 526.9,194.8 527.1,193.7 527.4,193 527.6,192.5 527.9,192 528.1,191.3 528.4,190.9 528.6,190.9 528.8,191.3 529.1,191.8 529.3,192.3 529.6,192.7 529.8,193 530,193.5 530.3,194.3 530.5,195.5 530.8,196.9 531,198.1 531.2,198.6 531.5,198.3 531.7,197.5 532,196.5 532.2,195.8 532.4,195.6 532.7,196 532.9,196.7 533.2,197.1 533.4,197.2 533.6,197.2 533.9,197.3 534.1,197.6 534.4,197.9 534.6,197.7 534.8,197.3 535.1,196.7 535.3,196.1 535.6,195.7 535.8,195.8 536,196.6 536.3,198.1 536.5,199.6 536.8,200 537,198.7 537.2,196.5 537.5,194.8 537.7,194.8 538,196.2 538.2,198 538.5,198.8 538.7,198.3 538.9,197.2 539.2,196.2 539.4,195.7 539.7,195.5 539.9,195.7 540.1,196.6 540.4,198.2 540.6,200.1 540.9,201.9 541.1,202.8 541.3,202.9 541.6,202.6 541.8,202.6 542.1,203.1 542.3,204.3 542.5,205.6 542.8,206.4 543,206.2 543.3,205.1 543.5,203.8 543.7,203.1 544,203.3 544.2,203.9 544.5,203.9 544.7,202.9 544.9,201.2 545.2,199.5 545.4,198.6 545.7,198.5 545.9,199.2 546.1,200.4 546.4,202 546.6,203.5 546.9,204.6 547.1,204.7 547.3,204.2 547.6,203.7 547.8,204.1 548.1,205.6 548.3,207.8 548.6,209.5 548.8,210.2 549,209.8 549.3,208.8 549.5,207.8 549.8,207.1 550,206.4 550.2,205.5 550.5,204.5 550.7,203.5 551,202.8 551.2,202.4 551.4,201.8 551.7,201.1 551.9,200.7 552.2,201.6 552.4,203.9 552.6,207 552.9,209.7 553.1,210.9 553.4,210.5 553.6,209.5 553.8,208.9 554.1,209.6 554.3,211.1 554.6,212.2 554.8,211.9 555,210.2 555.3,208.1 555.5,206.5 555.8,206 556,205.8 556.2,205.3 556.5,204 556.7,202.4 557,201.3 557.2,201.1 557.4,201.6 557.7,202.7 557.9,203.8 558.2,204.7 558.4,205.4 558.7,205.9 558.9,206.5 559.1,207.3 559.4,208.5 559.6,209.9 559.9,210.7 560.1,210.2 560.3,208.4 560.6,206.5 560.8,205.5 561.1,206.1 561.3,207.6 561.5,208.7 561.8,208.3 562,206.6 562.3,204.7 562.5,203.6 562.7,203.6 563,204.2 563.2,204.7 563.5,204.7 563.7,204.6 563.9,204.7 564.2,205.1 564.4,205.4 564.7,205 564.9,204 565.1,202.5 565.4,201.4 565.6,201 565.9,201.8 566.1,203.4 566.3,205.4 566.6,206.8 566.8,207 567.1,206.2 567.3,205.3 567.5,205.1 567.8,205.7 568,206.7 568.3,207.5 568.5,208.2 568.8,208.8 569,208.9 569.2,208.1 569.5,206 569.7,203.5 570,202 570.2,202.2 570.4,203.7 570.7,205.1 570.9,205.2 571.2,204 571.4,202.3 571.6,201.4 571.9,201.5 572.1,202.2 572.4,202.9 572.6,203.2 572.8,203.3 573.1,203.6 573.3,204.4 573.6,205.3 573.8,205.7 574,205.4 574.3,204.5 574.5,203.7 574.8,203.4 575,203.9 575.2,204.7 575.5,205 575.7,204.5 576,203.6 576.2,203 576.4,203.3 576.7,204.2 576.9,204.9 577.2,204.5 577.4,202.9 577.6,200.9 577.9,199.4 578.1,199.1 578.4,199.7 578.6,200.5 578.9,201.3 579.1,202.3 579.3,203.3 579.6,203.8 579.8,203.3 580.1,201.8 580.3,200.5 580.5,200.6 580.8,202.4 581,204.9 581.3,206.6 581.5,206.8 581.7,205.7 582,204.3 582.2,203.3 582.5,203.2 582.7,203.8 582.9,204.8 583.2,205.3 583.4,204.8 583.7,203.2 583.9,201.2 584.1,199.5 584.4,198.8 584.6,198.9 584.9,199.3 585.1,199.6 585.3,200 585.6,200.8 585.8,201.7 586.1,202.3 586.3,202 586.5,201.4 586.8,201.5 587,203 587.3,205.5 587.5,207.9 587.7,208.9 588,208.3 588.2,206.9 588.5,205.6 588.7,204.9 589,204.6 589.2,204.5 589.4,204.3 589.7,204.5 589.9,205.2 590.2,205.6 590.4,204.9 590.6,202.8 590.9,200.4 591.1,199 591.4,199.7 591.6,202 591.8,204.5 592.1,205.6 592.3,204.9 592.6,202.9 592.8,200.5 593,198.6 593.3,197.8 593.5,197.8 593.8,198.5 594,199.4 594.2,200 594.5,200.2 594.7,199.9 595,199.6 595.2,199.9 595.4,201.2 595.7,203.6 595.9,206.2 596.2,208.3 596.4,208.8 596.6,207.7 596.9,205.6 597.1,204 597.4,204 597.6,205.6 597.8,207.9 598.1,209.3 598.3,208.8 598.6,206.4 598.8,202.8 599.1,199.6 599.3,198 599.5,198.5 599.8,200.6 600,203.1 600.3,204.6 600.5,204.3 600.7,202.3 601,199.6 601.2,197.6 601.5,197.5 601.7,199.1 601.9,201.5 602.2,203.2 602.4,203.5 602.7,202.6 602.9,201.5 603.1,201.1 603.4,201.7 603.6,202.9 603.9,203.9 604.1,204.3 604.3,204.2 604.6,204.1 604.8,204.5 605.1,205.2 605.3,205.8 605.5,205.7 605.8,204.9 606,204.1 606.3,203.6 606.5,203.8 606.7,204.4 607,204.9 607.2,204.7 607.5,203.7 607.7,201.8 607.9,199.7 608.2,197.9 608.4,197.3 608.7,198 608.9,199.4 609.2,200.7 609.4,201 609.6,200.3 609.9,199.1 610.1,198.2 610.4,198.1 610.6,199 610.8,200.4 611.1,202 611.3,203 611.6,203.4 611.8,203.3 612,203.3 612.3,203.5 612.5,204 612.8,204.8 613,205.4 613.2,205.7 613.5,205.5 613.7,204.9 614,204.4 614.2,204.2 614.4,204.6 614.7,205.2 614.9,205.5 615.2,204.9 615.4,203.4 615.6,201.2 615.9,198.8 616.1,196.8 616.4,195.5 616.6,195.2 616.8,195.9 617.1,197.2 617.3,198.9 617.6,200.5 617.8,201.7 618,202.4 618.3,202.5 618.5,202.5 618.8,202.5 619,202.8 619.3,203.5 619.5,204.3 619.7,204.9 620,204.9 620.2,204.3 620.5,203.1 620.7,201.9 620.9,201.2 621.2,200.9 621.4,200.9 621.7,200.6 621.9,200.1 622.1,199.9 622.4,200.6 622.6,202.1 622.9,203.9 623.1,205.1 623.3,205 623.6,204.1 623.8,203 624.1,202.5 624.3,202.8 624.5,203.5 624.8,204.3 625,204.8 625.3,204.9 625.5,204.5 625.7,203.7 626,202.9 626.2,202.1 626.5,201.3 626.7,200.4 626.9,199.1 627.2,197.9 627.4,197.7 627.7,198.7 627.9,200.5 628.1,202.2 628.4,202.9 628.6,202.4 628.9,201.2 629.1,200.1 629.4,200 629.6,201.3 629.8,203.1 630.1,204.7 630.3,205.4 630.6,205.4 630.8,205.1 631,204.7 631.3,204.2 631.5,203.3 631.8,202.1 632,201.3 632.2,201.3 632.5,202.3 632.7,203.5 633,204.3 633.2,204 633.4,202.9 633.7,201.9 633.9,201.8 634.2,202.4 634.4,203 634.6,202.9 634.9,201.8 635.1,200.2 635.4,198.7 635.6,198.1 635.8,198.3 636.1,198.8 636.3,199.5 636.6,200 636.8,200.6 637,201.2 637.3,201.6 637.5,201.4 637.8,200.6 638,199.9 638.2,199.6 638.5,200.3 638.7,201.8 639,203.7 639.2,205.2 639.5,205.9 639.7,205.6 639.9,204.6 640.2,203.3 640.4,202.4 640.7,202 640.9,202.2 641.1,202.6 641.4,202.8 641.6,202.1 641.9,200.9 642.1,200.1 642.3,200.5 642.6,202 642.8,203.4 643.1,203.8 643.3,202.9 643.5,201.5 643.8,200.5 644,200.3 644.3,200.9 644.5,201.8 644.7,203.1 645,204.4 645.2,205.2 645.5,205 645.7,203.4 645.9,201.4 646.2,200.3 646.4,200.6 646.7,201.9 646.9,202.9 647.1,202.6 647.4,201.4 647.6,200.2 647.9,199.7 648.1,200 648.3,200.6 648.6,201 648.8,201.1 649.1,201 649.3,200.7 649.6,200.2 649.8,199.8 650,200 650.3,200.9 650.5,202.4 650.8,203.8 651,204.8 651.2,205.4 651.5,205.5 651.7,204.8 652,203.1 652.2,200.5 652.4,198.1 652.7,197.5 652.9,198.9 653.2,201.4 653.4,203.2 653.6,203.1 653.9,201.1 654.1,198.4 654.4,196.5 654.6,196.1 654.8,197.3 655.1,199.3 655.3,201 655.6,201.6 655.8,200.8 656,199.4 656.3,198.1 656.5,197.5 656.8,197.9 657,199.2 657.2,200.9 657.5,202.5 657.7,203.5 658,203.5 658.2,202.6 658.4,201.4 658.7,200.7 658.9,200.9 659.2,202 659.4,203.2 659.7,203.6 659.9,202.7 660.1,200.6 660.4,198.1 660.6,196.2 660.9,195.5 661.1,196 661.3,197 661.6,198.1 661.8,198.6 662.1,198.5 662.3,197.8 662.5,196.6 662.8,195.8 663,195.8 663.3,197.2 663.5,199.7 663.7,202.4 664,204 664.2,203.9 664.5,202.1 664.7,199.9 664.9,198.3 665.2,198.2 665.4,199.2 665.7,200.5 665.9,201.4 666.1,201.5 666.4,200.9 666.6,200 666.9,198.9 667.1,198.1 667.3,198 667.6,198.6 667.8,199.8 668.1,200.7 668.3,200.9 668.5,199.9 668.8,198.5 669,197.4 669.3,197.1 669.5,197.3 669.8,197.1 670,196.2 670.2,194.9 670.5,194.3 670.7,195.3 671,197.3 671.2,199.1 671.4,199.4 671.7,198.1 671.9,196.4 672.2,195.9 672.4,197.1 672.6,199.2 672.9,201 673.1,201.7 673.4,201.2 673.6,200.2 673.8,199.1 674.1,198.1 674.3,197 674.6,195.9 674.8,194.8 675,194 675.3,193.5 675.5,193.3 675.8,193.1 676,192.5 676.2,191.4 676.5,190.1 676.7,189.8 677,191.1 677.2,193.8 677.4,196.9 677.7,199.1 677.9,199.8 678.2,199.3 678.4,198.8 678.6,199 678.9,199.9 679.1,201 679.4,201.6 679.6,201.2 679.9,200.2 680.1,198.7 680.3,197.1 680.6,196 680.8,195.4 681.1,195.4 681.3,195.2 681.5,194.3 681.8,192.5 682,190.6 682.3,189.8 682.5,190.5 682.7,192.3 683,194.3 683.2,195.5 683.5,196.1 683.7,196.6 683.9,197.3 684.2,198.1 684.4,198.4 684.7,198.1 684.9,197.6 685.1,197.6 685.4,198.3 685.6,199.2 685.9,199.7 686.1,199.3 686.3,198.5 686.6,197.8 686.8,197.7 687.1,198.2 687.3,199.1 687.5,199.9 687.8,200.3 688,200.3 688.3,199.9 688.5,199 688.7,197.9 689,197 689.2,196.9 689.5,198 689.7,199.9 690,202 690.2,203.4 690.4,203.5 690.7,202.5 690.9,201 691.2,199.7 691.4,199.4 691.6,200.2 691.9,201.6 692.1,203.3 692.4,204.4 692.6,204.4 692.8,203.3 693.1,201.5 693.3,199.6 693.6,197.9 693.8,196.6 694,195.9 694.3,195.9 694.5,196.7 694.8,197.8 695,198.7 695.2,198.9 695.5,198.9 695.7,199.1 696,199.9 696.2,201 696.4,202.2 696.7,203.4 696.9,204.4 697.2,205.3 697.4,205.8 697.6,205.9 697.9,205.5 698.1,204.8 698.4,204.1 698.6,203.6 698.8,203.4 699.1,203.5 699.3,203.7 699.6,203.4 699.8,202.3 700.1,200.1 700.3,197.1 700.5,194.3 700.8,192.7 701,192.9 701.3,195.1 701.5,198.2 701.7,201.2 702,203 702.2,203.2 702.5,202.4 702.7,201.7 702.9,201.8 703.2,203 703.4,204.4 703.7,205.3 703.9,205.2 704.1,204.2 704.4,202.9 704.6,202.2 704.9,202.6 705.1,203.8 705.3,205.4 705.6,206.3 705.8,206.3 706.1,205.5 706.3,204.1 706.5,202.5 706.8,201.2 707,200.5 707.3,200.5 707.5,201 707.7,201.2 708,200.5 708.2,199.1 708.5,197.5 708.7,196.7 708.9,196.7 709.2,196.9 709.4,196.6 709.7,195.5 709.9,194.5 710.2,194.5 710.4,196 710.6,198.6 710.9,201.2 711.1,203 711.4,203.7 711.6,203.8 711.8,203.9 712.1,204.4 712.3,205.1 712.6,205.1 712.8,204 713,201.9 713.3,199.9 713.5,198.8 713.8,199.3 714,201 714.2,203 714.5,204.3 714.7,204.4 715,203.7 715.2,202.8 715.4,202.6 715.7,203.4 715.9,204.6 716.2,205.3 716.4,204.9 716.6,203.4 716.9,201.2 717.1,198.9 717.4,196.9 717.6,195.5 717.8,195 718.1,195.6 718.3,197.3 718.6,199.6 718.8,201.6 719,202.9 719.3,203.2 719.5,202.7 719.8,201.8 720,200.8 720.3,200.3 720.5,200.7 720.7,202.4 721,204.8 721.2,207 721.5,207.2 721.7,205 721.9,201.1 722.2,197.4 722.4,195.7 722.7,196.8 722.9,199.5 723.1,201.9 723.4,202.5 723.6,201.6 723.9,200.4 724.1,200.3 724.3,201.8 724.6,204.3 724.8,206.8 725.1,208.6 725.3,209.3 725.5,209.1 725.8,208 726,206.3 726.3,204.5 726.5,203 726.7,201.7 727,200.5 727.2,199.4 727.5,198.4 727.7,198 727.9,198.2 728.2,198.8 728.4,199.5 728.7,200.1 728.9,200.6 729.1,201.3 729.4,202.1 729.6,202.7 729.9,202.7 730.1,202.2 730.4,201.5 730.6,201 730.8,200.9 731.1,201 731.3,201.3 731.6,201.5 731.8,201.6 732,201.9 732.3,202.2 732.5,202.3 732.8,202.1 733,201.6 733.2,200.9 733.5,200.1 733.7,199.4 734,199.2 734.2,200 734.4,202.1 734.7,204.7 734.9,206.5 735.2,206.5 735.4,204.8 735.6,202.6 735.9,201.2 736.1,201.3 736.4,202.5 736.6,203.8 736.8,204.6 737.1,205 737.3,205.2 737.6,205.3 737.8,204.8 738,203.4 738.3,201.5 738.5,199.8 738.8,199.2 739,199.8 739.2,200.7 739.5,201.1 739.7,200.8 740,200.2 740.2,200 740.5,200.3 740.7,200.8 740.9,201.2 741.2,201.5 741.4,201.5 741.7,201.3 741.9,201 742.1,200.6 742.4,200.4 742.6,200.5 742.9,200.4 743.1,200.1 743.3,199.3 743.6,198.4 743.8,197.6 744.1,197 744.3,196.8 744.5,196.8 744.8,197.2 745,198.2 745.3,199.7 745.5,201.4 745.7,202.5 746,202.9 746.2,202.6 746.5,202.1 746.7,202.1 746.9,202.8 747.2,204.2 747.4,205.6 747.7,206.5 747.9,206.1 748.1,204.3 748.4,201.9 748.6,199.8 748.9,198.9 749.1,199.1 749.3,199.4 749.6,199.1 749.8,198.1 750.1,197.3 750.3,197.4 750.6,198.3 750.8,199.2 751,199.8 751.3,200 751.5,200.2 751.8,200.4 752,200.3 752.2,200.1 752.5,199.9 752.7,200.5 753,201.9 753.2,203.1 753.4,203.4 753.7,202.5 753.9,201.2 754.2,200.3 754.4,200.1 754.6,199.9 754.9,199 755.1,197.5 755.4,196.1 755.6,195.6 755.8,196.4 756.1,198.4 756.3,200.7 756.6,202.4 756.8,203.2 757,203.3 757.3,203.1 757.5,203 757.8,202.9 758,202.8 758.2,202.3 758.5,201.7 758.7,201 759,200.6 759.2,200.5 759.4,200.8 759.7,201 759.9,200.9 760.2,200.1 760.4,198.9 760.7,198.1 760.9,198.5 761.1,200.1 761.4,202.2 761.6,203.4 761.9,202.9 762.1,201.1 762.3,199.2 762.6,198.3 762.8,198.8 763.1,200.4 763.3,202.5 763.5,204.1 763.8,204.9 764,204.8 764.3,204.1 764.5,203.5 764.7,203.6 765,204.4 765.2,205.1 765.5,205 765.7,203.5 765.9,201.7 766.2,200.7 766.4,201.5 766.7,203.6 766.9,205.5 767.1,205.9 767.4,204.3 767.6,201.7 767.9,199.2 768.1,197.8 768.3,197.7 768.6,198.5 768.8,199.6 769.1,200.7 769.3,201.2 769.5,200.8 769.8,199.4 770,197.4 770.3,195.8 770.5,195.5 770.8,196.9 771,199.3 771.2,201.2 771.5,202 771.7,201.5 772,200.9 772.2,201.1 772.4,202.2 772.7,203.8 772.9,205 773.2,205.1 773.4,204.3 773.6,202.9 773.9,201.3 774.1,199.6 774.4,198 774.6,197.1" fill="none" stroke="#000" stroke-width="1.75" stroke-linejoin="miter"/>
<rect x="154.2" y="224.3" width="133.5" height="51" fill="none" stroke="#e0666c" stroke-width="0.9" stroke-dasharray="2 2"/>
<text x="163.6" y="243.4" font-size="22.5" fill="#000">Size = 6</text>
<text x="163.6" y="270.7" font-size="22.5" fill="#000">Duration = 1</text>
<path d="M287.7,255.5H293.6V276" fill="none" stroke="#e0666c" stroke-width="0.9" stroke-dasharray="2 2"/>
<path d="M290.6,274.5H296.6L293.6,281Z" fill="#e0606a"/>
<rect x="345.5" y="224.3" width="143.8" height="51" fill="none" stroke="#f0aa6c" stroke-width="0.9" stroke-dasharray="2 2"/>
<text x="349.2" y="243.4" font-size="22.5" fill="#000">Size = 220</text>
<text x="349.2" y="270.7" font-size="22.5" fill="#000">Duration = 26</text>
<path d="M489.3,255.5H513V276" fill="none" stroke="#f0aa6c" stroke-width="0.9" stroke-dasharray="2 2"/>
<path d="M510,274.5H516L513,281Z" fill="#f0a868"/>
<rect x="174.6" y="282.8" width="25.7" height="181.5" fill="#b7e0ea" stroke="#8fb5c4" stroke-width="1.2"/>
<rect x="224.6" y="282.8" width="25.7" height="181.5" fill="#b7e0ea" stroke="#8fb5c4" stroke-width="1.2"/>
<rect x="649.6" y="282.8" width="88.2" height="181.5" fill="#b7e0ea" stroke="#8fb5c4" stroke-width="1.2"/>
<rect x="749.6" y="282.8" width="25.7" height="181.5" fill="#b7e0ea" stroke="#8fb5c4" stroke-width="1.2"/>
<rect x="287" y="282.8" width="13.4" height="181.5" fill="#b7e0ea" stroke="#d9666a" stroke-width="1.8"/>
<rect x="312" y="282.8" width="326" height="181.5" fill="#b7e0ea" stroke="#f0a868" stroke-width="1.8"/>
<path d="M156.2,320.7v4.8M156.2,360.2v4.8M156.2,388.5v4.8M156.2,394.1v4.8M168.8,360.2v4.8M168.8,371.5v4.8M168.8,394.1v4.8M168.8,461.9v4.8M181.2,320.7v4.8M181.2,360.2v4.8M181.2,377.2v4.8M181.2,394.1v4.8M181.2,422.4v4.8M181.2,439.3v4.8M181.2,445v4.8M181.2,461.9v4.8M193.8,286.8v4.8M193.8,360.2v4.8M193.8,394.1v4.8M193.8,428v4.8M193.8,439.3v4.8M193.8,461.9v4.8M206.2,360.2v4.8M206.2,394.1v4.8M206.2,445v4.8M218.8,360.2v4.8M218.8,394.1v4.8M218.8,428v4.8M218.8,456.3v4.8M231.2,320.7v4.8M231.2,354.6v4.8M231.2,377.2v4.8M231.2,394.1v4.8M231.2,428v4.8M243.8,360.2v4.8M243.8,394.1v4.8M243.8,422.4v4.8M243.8,439.3v4.8M243.8,445v4.8M243.8,456.3v4.8M256.2,377.2v4.8M256.2,394.1v4.8M256.2,411.1v4.8M268.8,360.2v4.8M268.8,422.4v4.8M268.8,445v4.8M268.8,461.9v4.8M281.2,360.2v4.8M281.2,377.2v4.8M281.2,394.1v4.8M281.2,456.3v4.8M293.8,360.2v4.8M293.8,377.2v4.8M293.8,394.1v4.8M293.8,416.7v4.8M293.8,422.4v4.8M293.8,428v4.8M306.2,332v4.8M306.2,360.2v4.8M306.2,394.1v4.8M306.2,439.3v4.8M318.8,360.2v4.8M318.8,377.2v4.8M318.8,394.1v4.8M318.8,445v4.8M318.8,456.3v4.8M318.8,461.9v4.8M331.2,320.7v4.8M331.2,394.1v4.8M331.2,399.8v4.8M331.2,428v4.8M331.2,445v4.8M343.8,360.2v4.8M343.8,377.2v4.8M343.8,394.1v4.8M343.8,422.4v4.8M343.8,428v4.8M343.8,439.3v4.8M343.8,456.3v4.8M356.2,286.8v4.8M356.2,360.2v4.8M356.2,394.1v4.8M356.2,428v4.8M356.2,445v4.8M368.8,360.2v4.8M368.8,399.8v4.8M368.8,416.7v4.8M368.8,428v4.8M368.8,445v4.8M381.2,303.7v4.8M381.2,309.4v4.8M381.2,360.2v4.8M381.2,394.1v4.8M381.2,428v4.8M393.8,286.8v4.8M393.8,309.4v4.8M393.8,320.7v4.8M393.8,360.2v4.8M393.8,377.2v4.8M393.8,394.1v4.8M393.8,399.8v4.8M393.8,422.4v4.8M393.8,428v4.8M393.8,439.3v4.8M393.8,461.9v4.8M406.2,309.4v4.8M406.2,326.3v4.8M406.2,360.2v4.8M406.2,377.2v4.8M406.2,394.1v4.8M406.2,399.8v4.8M406.2,422.4v4.8M406.2,445v4.8M406.2,461.9v4.8M418.8,286.8v4.8M418.8,320.7v4.8M418.8,337.6v4.8M418.8,360.2v4.8M418.8,388.5v4.8M418.8,394.1v4.8M418.8,439.3v4.8M418.8,445v4.8M418.8,461.9v4.8M431.2,286.8v4.8M431.2,303.7v4.8M431.2,320.7v4.8M431.2,337.6v4.8M431.2,360.2v4.8M431.2,371.5v4.8M431.2,394.1v4.8M431.2,399.8v4.8M431.2,428v4.8M431.2,439.3v4.8M431.2,445v4.8M431.2,461.9v4.8M443.8,286.8v4.8M443.8,303.7v4.8M443.8,337.6v4.8M443.8,360.2v4.8M443.8,394.1v4.8M443.8,399.8v4.8M443.8,422.4v4.8M443.8,428v4.8M443.8,439.3v4.8M443.8,461.9v4.8M456.2,286.8v4.8M456.2,303.7v4.8M456.2,337.6v4.8M456.2,360.2v4.8M456.2,371.5v4.8M456.2,377.2v4.8M456.2,382.8v4.8M456.2,394.1v4.8M456.2,416.7v4.8M456.2,422.4v4.8M456.2,428v4.8M456.2,445v4.8M456.2,461.9v4.8M468.8,286.8v4.8M468.8,298.1v4.8M468.8,303.7v4.8M468.8,309.4v4.8M468.8,320.7v4.8M468.8,332v4.8M468.8,348.9v4.8M468.8,360.2v4.8M468.8,371.5v4.8M468.8,377.2v4.8M468.8,388.5v4.8M468.8,394.1v4.8M468.8,399.8v4.8M468.8,422.4v4.8M468.8,428v4.8M468.8,461.9v4.8M481.2,286.8v4.8M481.2,309.4v4.8M481.2,360.2v4.8M481.2,377.2v4.8M481.2,394.1v4.8M481.2,399.8v4.8M481.2,422.4v4.8M481.2,445v4.8M493.8,309.4v4.8M493.8,326.3v4.8M493.8,360.2v4.8M493.8,377.2v4.8M493.8,388.5v4.8M493.8,394.1v4.8M493.8,399.8v4.8M493.8,422.4v4.8M493.8,428v4.8M493.8,445v4.8M493.8,450.6v4.8M493.8,461.9v4.8M506.2,286.8v4.8M506.2,309.4v4.8M506.2,326.3v4.8M506.2,365.9v4.8M506.2,377.2v4.8M506.2,399.8v4.8M506.2,416.7v4.8M506.2,422.4v4.8M506.2,445v4.8M506.2,450.6v4.8M506.2,456.3v4.8M506.2,461.9v4.8M518.8,326.3v4.8M518.8,360.2v4.8M518.8,377.2v4.8M518.8,399.8v4.8M518.8,422.4v4.8M518.8,439.3v4.8M518.8,445v4.8M531.2,337.6v4.8M531.2,377.2v4.8M531.2,394.1v4.8M531.2,399.8v4.8M531.2,416.7v4.8M531.2,428v4.8M531.2,445v4.8M531.2,461.9v4.8M543.8,360.2v4.8M543.8,377.2v4.8M543.8,394.1v4.8M543.8,399.8v4.8M543.8,416.7v4.8M543.8,461.9v4.8M556.2,286.8v4.8M556.2,309.4v4.8M556.2,320.7v4.8M556.2,326.3v4.8M556.2,360.2v4.8M556.2,371.5v4.8M556.2,377.2v4.8M556.2,394.1v4.8M556.2,399.8v4.8M556.2,422.4v4.8M556.2,428v4.8M556.2,445v4.8M568.8,286.8v4.8M568.8,360.2v4.8M568.8,394.1v4.8M568.8,399.8v4.8M568.8,422.4v4.8M568.8,428v4.8M568.8,439.3v4.8M568.8,456.3v4.8M581.2,286.8v4.8M581.2,309.4v4.8M581.2,360.2v4.8M581.2,399.8v4.8M581.2,428v4.8M581.2,439.3v4.8M581.2,445v4.8M581.2,461.9v4.8M593.8,303.7v4.8M593.8,337.6v4.8M593.8,360.2v4.8M593.8,377.2v4.8M593.8,394.1v4.8M593.8,399.8v4.8M593.8,416.7v4.8M593.8,422.4v4.8M593.8,428v4.8M593.8,445v4.8M606.2,303.7v4.8M606.2,360.2v4.8M606.2,377.2v4.8M606.2,394.1v4.8M606.2,399.8v4.8M606.2,445v4.8M606.2,456.3v4.8M606.2,461.9v4.8M618.8,303.7v4.8M618.8,360.2v4.8M618.8,394.1v4.8M618.8,416.7v4.8M618.8,439.3v4.8M618.8,445v4.8M631.2,360.2v4.8M631.2,371.5v4.8M631.2,394.1v4.8M631.2,399.8v4.8M631.2,445v4.8M643.8,377.2v4.8M656.2,292.4v4.8M656.2,360.2v4.8M656.2,377.2v4.8M656.2,394.1v4.8M656.2,445v4.8M668.8,286.8v4.8M668.8,309.4v4.8M668.8,360.2v4.8M668.8,365.9v4.8M668.8,394.1v4.8M668.8,399.8v4.8M668.8,405.4v4.8M668.8,422.4v4.8M668.8,439.3v4.8M668.8,445v4.8M668.8,461.9v4.8M681.2,303.7v4.8M681.2,360.2v4.8M681.2,377.2v4.8M681.2,394.1v4.8M681.2,399.8v4.8M681.2,445v4.8M681.2,461.9v4.8M693.8,286.8v4.8M693.8,360.2v4.8M693.8,377.2v4.8M693.8,394.1v4.8M693.8,405.4v4.8M693.8,445v4.8M706.2,360.2v4.8M706.2,377.2v4.8M706.2,394.1v4.8M706.2,416.7v4.8M706.2,422.4v4.8M706.2,428v4.8M706.2,445v4.8M706.2,461.9v4.8M718.8,286.8v4.8M718.8,303.7v4.8M718.8,371.5v4.8M718.8,394.1v4.8M718.8,399.8v4.8M718.8,456.3v4.8M731.2,320.7v4.8M731.2,360.2v4.8M731.2,377.2v4.8M731.2,399.8v4.8M731.2,416.7v4.8M731.2,422.4v4.8M731.2,428v4.8M731.2,433.7v4.8M731.2,445v4.8M743.8,360.2v4.8M743.8,394.1v4.8M743.8,428v4.8M756.2,286.8v4.8M756.2,360.2v4.8M756.2,371.5v4.8M756.2,388.5v4.8M756.2,394.1v4.8M756.2,422.4v4.8M756.2,428v4.8M756.2,445v4.8M756.2,461.9v4.8M768.8,303.7v4.8M768.8,360.2v4.8M768.8,377.2v4.8M768.8,394.1v4.8M768.8,399.8v4.8M768.8,416.7v4.8M768.8,422.4v4.8M768.8,428v4.8M768.8,445v4.8M768.8,461.9v4.8" stroke="#774586" stroke-width="2.1" fill="none"/>
<path d="M150,275.5V478H787" fill="none" stroke="#231f20" stroke-width="2"/>
<text x="138.6" y="303.6" font-size="26" text-anchor="end">30</text>
<text x="138.6" y="360" font-size="26" text-anchor="end">20</text>
<text x="138.6" y="415.6" font-size="26" text-anchor="end">10</text>
<text x="138.6" y="473" font-size="26" text-anchor="end">0</text>
<text x="85" y="368.3" font-size="30.3" text-anchor="middle" transform="rotate(-90 85 368.3)">Neuron Index</text>
<path d="M150,598.3 150,593.8 150.7,594.6 151.4,595.3 152.1,596 152.8,596.6 153.5,597.2 154.2,597.8 154.9,598.3 155.6,598.3 156.3,598.3 157,598.3 157.7,598.3 158.3,598.3 159,598.3 159.7,598.3 160.4,598.3 161.1,598.3 161.8,598.3 162.5,598.3 163.2,598.3 163.9,598.3 164.6,598.3 165.3,598.3 166,598.3 166.7,598.3 167.4,598.3 168.1,598.3 168.8,597 169.5,595.5 170.2,593.9 170.9,592.4 171.6,590.9 172.3,589.5 173,587.8 173.7,585.9 174.3,583.8 175,581.6 175.7,579.3 176.4,576.9 177.1,574.5 177.8,572.2 178.5,570 179.2,568 179.9,566.2 180.6,564.7 181.3,563.5 182,562.6 182.7,562.2 183.4,562.2 184.1,562.7 184.8,563.3 185.5,564.1 186.2,565.1 186.9,566.1 187.6,567.3 188.3,568.5 189,569.9 189.7,571.3 190.3,572.7 191,574.1 191.7,575.5 192.4,577 193.1,578.3 193.8,579.7 194.5,581 195.2,582.4 195.9,583.8 196.6,585.3 197.3,586.8 198,588.4 198.7,590 199.4,591.6 200.1,593.2 200.8,594.8 201.5,596.3 202.2,597.8 202.9,598.3 203.6,598.3 204.3,598.3 205,598.3 205.7,598.3 206.3,598.3 207,598.3 207.7,598.3 208.4,598.3 209.1,598.3 209.8,598.3 210.5,598.3 211.2,598.3 211.9,598.3 212.6,598.3 213.3,598.3 214,598.3 214.7,598.3 215.4,598.3 216.1,598.3 216.8,598.3 217.5,598.3 218.2,598.3 218.9,598.3 219.6,598.3 220.3,598.3 221,598.3 221.7,598.1 222.3,597.5 223,596.8 223.7,596.2 224.4,595.6 225.1,595 225.8,594.4 226.5,593.8 227.2,593.2 227.9,592.6 228.6,591.9 229.3,591.3 230,590.7 230.7,590.1 231.4,589.4 232.1,588.7 232.8,588 233.5,587.3 234.2,586.5 234.9,585.8 235.6,585.1 236.3,584.3 237,583.6 237.7,582.9 238.3,582.3 239,581.6 239.7,581 240.4,580.5 241.1,579.9 241.8,579.5 242.5,579.3 243.2,579.5 243.9,580.1 244.6,581 245.3,582.2 246,583.5 246.7,585 247.4,586.5 248.1,588.1 248.8,589.6 249.5,591 250.2,592.3 250.9,593.6 251.6,595.1 252.3,596.7 253,598.3 253.7,598.3 254.3,598.3 255,598.3 255.7,598.3 256.4,598.3 257.1,598.3 257.8,598.3 258.5,598.3 259.2,598.3 259.9,598.3 260.6,598.3 261.3,598.3 262,598.3 262.7,598.3 263.4,598.3 264.1,598.3 264.8,598.3 265.5,598.3 266.2,598.3 266.9,598.3 267.6,598.3 268.3,598.3 269,598.3 269.7,598.3 270.3,598.2 271,598.1 271.7,598.2 272.4,598.3 273.1,598.3 273.8,598.3 274.5,598.3 275.2,598.3 275.9,598.3 276.6,598.3 277.3,598.3 278,598.3 278.7,598.3 279.4,598.3 280.1,598.3 280.8,598 281.5,597.1 282.2,596.2 282.9,595.2 283.6,594.3 284.3,593.4 285,592.4 285.7,591.5 286.3,590.5 287,589.5 287.7,588.5 288.4,587.5 289.1,586.4 289.8,585.4 290.5,584.4 291.2,583.4 291.9,582.5 292.6,581.6 293.3,580.8 294,580.4 294.7,580.4 295.4,580.9 296.1,581.6 296.8,582.6 297.5,583.8 298.2,585 298.9,586.3 299.6,587.4 300.3,588.4 301,589.6 301.7,591.1 302.3,592.7 303,594.3 303.7,595.7 304.4,597 305.1,597.9 305.8,598.3 306.5,598.2 307.2,597.8 307.9,597.3 308.6,596.5 309.3,595.6 310,594.6 310.7,593.5 311.4,592.4 312.1,591.4 312.8,590.3 313.5,589.3 314.2,588.1 314.9,586.8 315.6,585.4 316.3,584.1 317,582.9 317.7,581.8 318.4,581 319,580.5 319.7,580.3 320.4,580.4 321.1,580.7 321.8,581.1 322.5,581.7 323.2,582.4 323.9,583 324.6,583.7 325.3,584.3 326,585 326.7,586 327.4,586.9 328.1,587.9 328.8,588.8 329.5,589.4 330.2,589.8 330.9,589.8 331.6,589.5 332.3,588.9 333,588.2 333.7,587.4 334.4,586.4 335,585.4 335.7,584.4 336.4,583.3 337.1,582.2 337.8,581.2 338.5,580.2 339.2,579.1 339.9,577.8 340.6,576.5 341.3,575.2 342,574.1 342.7,573.2 343.4,572.6 344.1,572.3 344.8,572.3 345.5,572.7 346.2,573.2 346.9,574 347.6,574.9 348.3,575.9 349,577 349.7,578.1 350.4,579.1 351,580.1 351.7,581 352.4,582 353.1,583.1 353.8,584.3 354.5,585.4 355.2,586.5 355.9,587.6 356.6,588.6 357.3,589.5 358,590.2 358.7,590.9 359.4,591.3 360.1,591.5 360.8,591.5 361.5,591.3 362.2,591 362.9,590.7 363.6,590.3 364.3,589.9 365,589.6 365.7,589.4 366.4,589.2 367,589.3 367.7,589.5 368.4,589.8 369.1,590.1 369.8,590.4 370.5,590.7 371.2,591.1 371.9,591.4 372.6,591.8 373.3,592.2 374,592.7 374.7,593.4 375.4,594 376.1,594.6 376.8,595.1 377.5,595.3 378.2,594.9 378.9,593.9 379.6,592.2 380.3,590.1 381,587.6 381.7,584.9 382.4,582 383,579 383.7,576 384.4,573.2 385.1,570 385.8,566.7 386.5,563.3 387.2,559.9 387.9,556.6 388.6,553.6 389.3,550.8 390,548 390.7,545.3 391.4,542.8 392.1,540.5 392.8,538.5 393.5,536.8 394.2,535.7 394.9,535.1 395.6,535.1 396.3,535.8 397,536.8 397.7,537.9 398.4,539 399,540.1 399.7,541.2 400.4,542.3 401.1,543.5 401.8,544.6 402.5,545.7 403.2,546.8 403.9,547.9 404.6,549 405.3,550.2 406,551.4 406.7,552.7 407.4,554 408.1,555.3 408.8,556.5 409.5,557.7 410.2,558.8 410.9,559.7 411.6,560.5 412.3,561.2 413,561.7 413.7,561.8 414.4,561.6 415,560.9 415.7,560 416.4,558.7 417.1,557.3 417.8,555.7 418.5,554 419.2,552.3 419.9,550.6 420.6,548.9 421.3,547.4 422,546 422.7,544.7 423.4,543.4 424.1,542 424.8,540.6 425.5,539.2 426.2,537.8 426.9,536.4 427.6,535 428.3,533.7 429,532.4 429.7,531.2 430.4,530.1 431,529.1 431.7,528.4 432.4,528.2 433.1,528.5 433.8,529.2 434.5,530.2 435.2,531.3 435.9,532.6 436.6,533.8 437.3,535 438,536 438.7,537 439.4,538.2 440.1,539.4 440.8,540.7 441.5,542.1 442.2,543.4 442.9,544.6 443.6,545.6 444.3,546.4 445,547 445.7,547.1 446.4,546.8 447,546.1 447.7,545 448.4,543.7 449.1,542 449.8,540.2 450.5,538.1 451.2,536 451.9,533.7 452.6,531.3 453.3,528.9 454,526.3 454.7,523.5 455.4,520.5 456.1,517.6 456.8,514.7 457.5,511.9 458.2,509.4 458.9,507 459.6,504.7 460.3,502.6 461,500.5 461.7,498.6 462.4,496.9 463,495.3 463.7,493.9 464.4,492.7 465.1,491.7 465.8,490.9 466.5,490.4 467.2,490.5 467.9,491.1 468.6,492.2 469.3,493.9 470,496.1 470.7,498.7 471.4,501.9 472.1,505.5 472.8,509.5 473.5,513.6 474.2,517.8 474.9,522.2 475.6,526.5 476.3,530.7 477,534.8 477.7,538.8 478.4,543 479,547.1 479.7,551.1 480.4,555 481.1,558.5 481.8,561.7 482.5,564.4 483.2,566.4 483.9,567.1 484.6,566.5 485.3,565 486,562.7 486.7,560.1 487.4,557.3 488.1,554.7 488.8,552 489.5,549.2 490.2,546.3 490.9,543.3 491.6,540.5 492.3,537.7 493,535.1 493.7,532.7 494.4,530.4 495,528.1 495.7,526.1 496.4,524.2 497.1,522.5 497.8,521.1 498.5,520 499.2,519.2 499.9,518.8 500.6,518.8 501.3,519.2 502,520 502.7,521.2 503.4,522.6 504.1,524.3 504.8,526.2 505.5,528.3 506.2,530.6 506.9,533 507.6,535.5 508.3,538.2 509,540.8 509.7,543.5 510.4,546.1 511,548.7 511.7,551.1 512.4,553.5 513.1,556 513.8,558.5 514.5,561.1 515.2,563.6 515.9,565.9 516.6,568.1 517.3,570 518,571.5 518.7,572.6 519.4,573.3 520.1,573.4 520.8,573.1 521.5,572.7 522.2,572 522.9,571.3 523.6,570.6 524.3,569.8 525,569 525.7,568.3 526.4,567.4 527,566.5 527.7,565.5 528.4,564.7 529.1,564 529.8,563.5 530.5,563.4 531.2,563.9 531.9,564.7 532.6,565.8 533.3,567 534,568.3 534.7,569.5 535.4,570.7 536.1,572.2 536.8,574.1 537.5,576.2 538.2,578.3 538.9,580.3 539.6,581.9 540.3,583.1 541,583.7 541.7,583.5 542.4,582.4 543,580.6 543.7,578.4 544.4,575.7 545.1,572.9 545.8,569.9 546.5,566.9 547.2,564.1 547.9,561.4 548.6,558.6 549.3,555.8 550,553 550.7,550.2 551.4,547.4 552.1,544.6 552.8,541.8 553.5,538.9 554.2,536.2 554.9,533.6 555.6,531.5 556.3,529.8 557,528.8 557.7,528.7 558.4,529.4 559,530.8 559.7,532.7 560.4,534.9 561.1,537.2 561.8,539.5 562.5,541.6 563.2,543.9 563.9,546.1 564.6,548.4 565.3,550.7 566,552.9 566.7,555.1 567.4,557.2 568.1,559.4 568.8,561.5 569.5,563.5 570.2,565.2 570.9,566.5 571.6,567.2 572.3,567.4 573,567.2 573.7,566.8 574.4,566.2 575,565.5 575.7,564.6 576.4,563.7 577.1,562.7 577.8,561.7 578.5,560.7 579.2,559.7 579.9,558.6 580.6,557.6 581.3,556.5 582,555.4 582.7,554.3 583.4,553.3 584.1,552.3 584.8,551.3 585.5,550.4 586.2,549.5 586.9,548.8 587.6,548.1 588.3,547.5 589,546.9 589.7,546.5 590.4,546.1 591,545.7 591.7,545.4 592.4,545.3 593.1,545.2 593.8,545.2 594.5,545.4 595.2,545.6 595.9,546 596.6,546.6 597.3,547.2 598,548 598.7,548.9 599.4,549.8 600.1,550.8 600.8,551.8 601.5,552.8 602.2,553.9 602.9,554.9 603.6,556 604.3,557.1 605,558.3 605.7,559.4 606.4,560.6 607,561.9 607.7,563.2 608.4,564.6 609.1,566 609.8,567.5 610.5,569 611.2,570.4 611.9,571.8 612.6,573.2 613.3,574.5 614,575.7 614.7,576.8 615.4,577.8 616.1,578.6 616.8,579.3 617.5,579.8 618.2,580.2 618.9,580.6 619.6,580.9 620.3,581.2 621,581.5 621.7,581.8 622.4,582 623.1,582.3 623.7,582.5 624.4,582.7 625.1,583 625.8,583.3 626.5,583.7 627.2,584.2 627.9,584.8 628.6,585.6 629.3,586.6 630,587.8 630.7,589.3 631.4,591 632.1,592.8 632.8,594.6 633.5,596.5 634.2,598.3 634.9,598.3 635.6,598.3 636.3,598.3 637,598.3 637.7,598.3 638.4,598.3 639.1,598.3 639.7,598.3 640.4,598.3 641.1,598.3 641.8,598.3 642.5,598.3 643.2,598.3 643.9,598.3 644.6,598.3 645.3,598.3 646,598.3 646.7,598.3 647.4,598.3 648.1,598.3 648.8,598.3 649.5,598.3 650.2,598.3 650.9,598.3 651.6,598.3 652.3,598.3 653,598.3 653.7,598.3 654.4,598.3 655.1,598.3 655.7,596.2 656.4,592.9 657.1,589.5 657.8,586.1 658.5,582.5 659.2,579 659.9,575.4 660.6,571.8 661.3,568.4 662,565 662.7,561.6 663.4,558.2 664.1,554.9 664.8,551.7 665.5,548.6 666.2,545.8 666.9,543.3 667.6,541.1 668.3,539.4 669,538.1 669.7,537.4 670.4,537.4 671.1,538.1 671.7,539.2 672.4,540.7 673.1,542.5 673.8,544.5 674.5,546.6 675.2,548.7 675.9,550.8 676.6,553 677.3,555.2 678,557.5 678.7,559.8 679.4,562 680.1,564.3 680.8,566.4 681.5,568.5 682.2,570.5 682.9,572.5 683.6,574.5 684.3,576.4 685,578.2 685.7,579.9 686.4,581.4 687.1,582.7 687.7,583.7 688.4,584.3 689.1,584.5 689.8,584.5 690.5,584.3 691.2,583.8 691.9,583.2 692.6,582.4 693.3,581.6 694,580.7 694.7,579.7 695.4,578.8 696.1,577.9 696.8,576.9 697.5,575.7 698.2,574.3 698.9,572.9 699.6,571.5 700.3,570 701,568.6 701.7,567.3 702.4,566.1 703.1,565 703.7,564.2 704.4,563.7 705.1,563.5 705.8,563.6 706.5,564 707.2,564.6 707.9,565.5 708.6,566.5 709.3,567.6 710,568.7 710.7,569.9 711.4,571.1 712.1,572.1 712.8,573.4 713.5,574.9 714.2,576.6 714.9,578.2 715.6,579.7 716.3,580.9 717,581.7 717.7,581.9 718.4,581.6 719.1,580.7 719.7,579.5 720.4,578 721.1,576.4 721.8,574.7 722.5,573 723.2,571.5 723.9,569.8 724.6,567.9 725.3,565.8 726,563.7 726.7,561.6 727.4,559.6 728.1,557.8 728.8,556.3 729.5,555.1 730.2,554.4 730.9,554.8 731.6,556.1 732.3,558.1 733,560.8 733.7,563.8 734.4,567 735.1,570.2 735.7,573.5 736.4,577 737.1,580.6 737.8,584.2 738.5,587.8 739.2,591.3 739.9,594.6 740.6,597.8 741.3,598.3 742,598.3 742.7,598.3 743.4,598.3 744.1,598.3 744.8,598.3 745.5,598.3 746.2,598.3 746.9,598.3 747.6,596.9 748.3,593.8 749,590.5 749.7,586.9 750.4,583.2 751.1,579.4 751.7,575.7 752.4,572.1 753.1,568.7 753.8,565.7 754.5,562.9 755.2,560.2 755.9,557.5 756.6,555 757.3,552.7 758,550.5 758.7,548.5 759.4,546.8 760.1,545.3 760.8,544.1 761.5,543.3 762.2,542.8 762.9,542.7 763.6,542.7 764.3,542.9 765,543.1 765.7,543.4 766.4,543.8 767.1,544.3 767.7,544.9 768.4,545.5 769.1,546.1 769.8,546.8 770.5,547.5 771.2,548.1 771.9,548.8 772.6,549.5 773.3,550.3 774,551.1 774.7,551.9 775.4,552.8 775.4,598.3Z" fill="#c6e4ee" stroke="none"/>
<line x1="150" y1="598.3" x2="778.4" y2="598.3" stroke="#c95079" stroke-width="1.5" stroke-dasharray="7.5 2.5"/>
<path d="M150,593.8 150.7,594.6 151.4,595.3 152.1,596 152.8,596.6 153.5,597.2 154.2,597.8 154.9,598.4 155.6,599 156.3,599.6 157,600.2 157.7,600.8 158.3,601.4 159,601.9 159.7,602.4 160.4,602.8 161.1,603.1 161.8,603.3 162.5,603.4 163.2,603.5 163.9,603.3 164.6,603.1 165.3,602.6 166,601.9 166.7,600.9 167.4,599.7 168.1,598.4 168.8,597 169.5,595.5 170.2,593.9 170.9,592.4 171.6,590.9 172.3,589.5 173,587.8 173.7,585.9 174.3,583.8 175,581.6 175.7,579.3 176.4,576.9 177.1,574.5 177.8,572.2 178.5,570 179.2,568 179.9,566.2 180.6,564.7 181.3,563.5 182,562.6 182.7,562.2 183.4,562.2 184.1,562.7 184.8,563.3 185.5,564.1 186.2,565.1 186.9,566.1 187.6,567.3 188.3,568.5 189,569.9 189.7,571.3 190.3,572.7 191,574.1 191.7,575.5 192.4,577 193.1,578.3 193.8,579.7 194.5,581 195.2,582.4 195.9,583.8 196.6,585.3 197.3,586.8 198,588.4 198.7,590 199.4,591.6 200.1,593.2 200.8,594.8 201.5,596.3 202.2,597.8 202.9,599.3 203.6,600.7 204.3,602 205,603.2 205.7,604.3 206.3,605.3 207,606.2 207.7,607 208.4,607.6 209.1,607.9 209.8,608 210.5,607.8 211.2,607.5 211.9,607 212.6,606.4 213.3,605.7 214,605 214.7,604.3 215.4,603.6 216.1,602.9 216.8,602.3 217.5,601.7 218.2,601.1 218.9,600.5 219.6,599.9 220.3,599.3 221,598.7 221.7,598.1 222.3,597.5 223,596.8 223.7,596.2 224.4,595.6 225.1,595 225.8,594.4 226.5,593.8 227.2,593.2 227.9,592.6 228.6,591.9 229.3,591.3 230,590.7 230.7,590.1 231.4,589.4 232.1,588.7 232.8,588 233.5,587.3 234.2,586.5 234.9,585.8 235.6,585.1 236.3,584.3 237,583.6 237.7,582.9 238.3,582.3 239,581.6 239.7,581 240.4,580.5 241.1,579.9 241.8,579.5 242.5,579.3 243.2,579.5 243.9,580.1 244.6,581 245.3,582.2 246,583.5 246.7,585 247.4,586.5 248.1,588.1 248.8,589.6 249.5,591 250.2,592.3 250.9,593.6 251.6,595.1 252.3,596.7 253,598.3 253.7,599.9 254.3,601.5 255,603 255.7,604.4 256.4,605.7 257.1,606.9 257.8,607.8 258.5,608.5 259.2,608.8 259.9,608.9 260.6,608.7 261.3,608.4 262,607.8 262.7,607.1 263.4,606.2 264.1,605.3 264.8,604.3 265.5,603.3 266.2,602.3 266.9,601.3 267.6,600.4 268.3,599.6 269,599 269.7,598.5 270.3,598.2 271,598.1 271.7,598.2 272.4,598.5 273.1,598.8 273.8,599.3 274.5,599.7 275.2,600.2 275.9,600.5 276.6,600.8 277.3,600.9 278,600.7 278.7,600.4 279.4,599.7 280.1,598.9 280.8,598 281.5,597.1 282.2,596.2 282.9,595.2 283.6,594.3 284.3,593.4 285,592.4 285.7,591.5 286.3,590.5 287,589.5 287.7,588.5 288.4,587.5 289.1,586.4 289.8,585.4 290.5,584.4 291.2,583.4 291.9,582.5 292.6,581.6 293.3,580.8 294,580.4 294.7,580.4 295.4,580.9 296.1,581.6 296.8,582.6 297.5,583.8 298.2,585 298.9,586.3 299.6,587.4 300.3,588.4 301,589.6 301.7,591.1 302.3,592.7 303,594.3 303.7,595.7 304.4,597 305.1,597.9 305.8,598.3 306.5,598.2 307.2,597.8 307.9,597.3 308.6,596.5 309.3,595.6 310,594.6 310.7,593.5 311.4,592.4 312.1,591.4 312.8,590.3 313.5,589.3 314.2,588.1 314.9,586.8 315.6,585.4 316.3,584.1 317,582.9 317.7,581.8 318.4,581 319,580.5 319.7,580.3 320.4,580.4 321.1,580.7 321.8,581.1 322.5,581.7 323.2,582.4 323.9,583 324.6,583.7 325.3,584.3 326,585 326.7,586 327.4,586.9 328.1,587.9 328.8,588.8 329.5,589.4 330.2,589.8 330.9,589.8 331.6,589.5 332.3,588.9 333,588.2 333.7,587.4 334.4,586.4 335,585.4 335.7,584.4 336.4,583.3 337.1,582.2 337.8,581.2 338.5,580.2 339.2,579.1 339.9,577.8 340.6,576.5 341.3,575.2 342,574.1 342.7,573.2 343.4,572.6 344.1,572.3 344.8,572.3 345.5,572.7 346.2,573.2 346.9,574 347.6,574.9 348.3,575.9 349,577 349.7,578.1 350.4,579.1 351,580.1 351.7,581 352.4,582 353.1,583.1 353.8,584.3 354.5,585.4 355.2,586.5 355.9,587.6 356.6,588.6 357.3,589.5 358,590.2 358.7,590.9 359.4,591.3 360.1,591.5 360.8,591.5 361.5,591.3 362.2,591 362.9,590.7 363.6,590.3 364.3,589.9 365,589.6 365.7,589.4 366.4,589.2 367,589.3 367.7,589.5 368.4,589.8 369.1,590.1 369.8,590.4 370.5,590.7 371.2,591.1 371.9,591.4 372.6,591.8 373.3,592.2 374,592.7 374.7,593.4 375.4,594 376.1,594.6 376.8,595.1 377.5,595.3 378.2,594.9 378.9,593.9 379.6,592.2 380.3,590.1 381,587.6 381.7,584.9 382.4,582 383,579 383.7,576 384.4,573.2 385.1,570 385.8,566.7 386.5,563.3 387.2,559.9 387.9,556.6 388.6,553.6 389.3,550.8 390,548 390.7,545.3 391.4,542.8 392.1,540.5 392.8,538.5 393.5,536.8 394.2,535.7 394.9,535.1 395.6,535.1 396.3,535.8 397,536.8 397.7,537.9 398.4,539 399,540.1 399.7,541.2 400.4,542.3 401.1,543.5 401.8,544.6 402.5,545.7 403.2,546.8 403.9,547.9 404.6,549 405.3,550.2 406,551.4 406.7,552.7 407.4,554 408.1,555.3 408.8,556.5 409.5,557.7 410.2,558.8 410.9,559.7 411.6,560.5 412.3,561.2 413,561.7 413.7,561.8 414.4,561.6 415,560.9 415.7,560 416.4,558.7 417.1,557.3 417.8,555.7 418.5,554 419.2,552.3 419.9,550.6 420.6,548.9 421.3,547.4 422,546 422.7,544.7 423.4,543.4 424.1,542 424.8,540.6 425.5,539.2 426.2,537.8 426.9,536.4 427.6,535 428.3,533.7 429,532.4 429.7,531.2 430.4,530.1 431,529.1 431.7,528.4 432.4,528.2 433.1,528.5 433.8,529.2 434.5,530.2 435.2,531.3 435.9,532.6 436.6,533.8 437.3,535 438,536 438.7,537 439.4,538.2 440.1,539.4 440.8,540.7 441.5,542.1 442.2,543.4 442.9,544.6 443.6,545.6 444.3,546.4 445,547 445.7,547.1 446.4,546.8 447,546.1 447.7,545 448.4,543.7 449.1,542 449.8,540.2 450.5,538.1 451.2,536 451.9,533.7 452.6,531.3 453.3,528.9 454,526.3 454.7,523.5 455.4,520.5 456.1,517.6 456.8,514.7 457.5,511.9 458.2,509.4 458.9,507 459.6,504.7 460.3,502.6 461,500.5 461.7,498.6 462.4,496.9 463,495.3 463.7,493.9 464.4,492.7 465.1,491.7 465.8,490.9 466.5,490.4 467.2,490.5 467.9,491.1 468.6,492.2 469.3,493.9 470,496.1 470.7,498.7 471.4,501.9 472.1,505.5 472.8,509.5 473.5,513.6 474.2,517.8 474.9,522.2 475.6,526.5 476.3,530.7 477,534.8 477.7,538.8 478.4,543 479,547.1 479.7,551.1 480.4,555 481.1,558.5 481.8,561.7 482.5,564.4 483.2,566.4 483.9,567.1 484.6,566.5 485.3,565 486,562.7 486.7,560.1 487.4,557.3 488.1,554.7 488.8,552 489.5,549.2 490.2,546.3 490.9,543.3 491.6,540.5 492.3,537.7 493,535.1 493.7,532.7 494.4,530.4 495,528.1 495.7,526.1 496.4,524.2 497.1,522.5 497.8,521.1 498.5,520 499.2,519.2 499.9,518.8 500.6,518.8 501.3,519.2 502,520 502.7,521.2 503.4,522.6 504.1,524.3 504.8,526.2 505.5,528.3 506.2,530.6 506.9,533 507.6,535.5 508.3,538.2 509,540.8 509.7,543.5 510.4,546.1 511,548.7 511.7,551.1 512.4,553.5 513.1,556 513.8,558.5 514.5,561.1 515.2,563.6 515.9,565.9 516.6,568.1 517.3,570 518,571.5 518.7,572.6 519.4,573.3 520.1,573.4 520.8,573.1 521.5,572.7 522.2,572 522.9,571.3 523.6,570.6 524.3,569.8 525,569 525.7,568.3 526.4,567.4 527,566.5 527.7,565.5 528.4,564.7 529.1,564 529.8,563.5 530.5,563.4 531.2,563.9 531.9,564.7 532.6,565.8 533.3,567 534,568.3 534.7,569.5 535.4,570.7 536.1,572.2 536.8,574.1 537.5,576.2 538.2,578.3 538.9,580.3 539.6,581.9 540.3,583.1 541,583.7 541.7,583.5 542.4,582.4 543,580.6 543.7,578.4 544.4,575.7 545.1,572.9 545.8,569.9 546.5,566.9 547.2,564.1 547.9,561.4 548.6,558.6 549.3,555.8 550,553 550.7,550.2 551.4,547.4 552.1,544.6 552.8,541.8 553.5,538.9 554.2,536.2 554.9,533.6 555.6,531.5 556.3,529.8 557,528.8 557.7,528.7 558.4,529.4 559,530.8 559.7,532.7 560.4,534.9 561.1,537.2 561.8,539.5 562.5,541.6 563.2,543.9 563.9,546.1 564.6,548.4 565.3,550.7 566,552.9 566.7,555.1 567.4,557.2 568.1,559.4 568.8,561.5 569.5,563.5 570.2,565.2 570.9,566.5 571.6,567.2 572.3,567.4 573,567.2 573.7,566.8 574.4,566.2 575,565.5 575.7,564.6 576.4,563.7 577.1,562.7 577.8,561.7 578.5,560.7 579.2,559.7 579.9,558.6 580.6,557.6 581.3,556.5 582,555.4 582.7,554.3 583.4,553.3 584.1,552.3 584.8,551.3 585.5,550.4 586.2,549.5 586.9,548.8 587.6,548.1 588.3,547.5 589,546.9 589.7,546.5 590.4,546.1 591,545.7 591.7,545.4 592.4,545.3 593.1,545.2 593.8,545.2 594.5,545.4 595.2,545.6 595.9,546 596.6,546.6 597.3,547.2 598,548 598.7,548.9 599.4,549.8 600.1,550.8 600.8,551.8 601.5,552.8 602.2,553.9 602.9,554.9 603.6,556 604.3,557.1 605,558.3 605.7,559.4 606.4,560.6 607,561.9 607.7,563.2 608.4,564.6 609.1,566 609.8,567.5 610.5,569 611.2,570.4 611.9,571.8 612.6,573.2 613.3,574.5 614,575.7 614.7,576.8 615.4,577.8 616.1,578.6 616.8,579.3 617.5,579.8 618.2,580.2 618.9,580.6 619.6,580.9 620.3,581.2 621,581.5 621.7,581.8 622.4,582 623.1,582.3 623.7,582.5 624.4,582.7 625.1,583 625.8,583.3 626.5,583.7 627.2,584.2 627.9,584.8 628.6,585.6 629.3,586.6 630,587.8 630.7,589.3 631.4,591 632.1,592.8 632.8,594.6 633.5,596.5 634.2,598.4 634.9,600.3 635.6,602.2 636.3,604.1 637,605.9 637.7,607.7 638.4,609.6 639.1,611.4 639.7,613.2 640.4,615 641.1,616.7 641.8,618.5 642.5,620.2 643.2,621.9 643.9,623.6 644.6,625.2 645.3,626 646,626.2 646.7,625.8 647.4,624.8 648.1,623.4 648.8,621.6 649.5,619.6 650.2,617.4 650.9,615.1 651.6,612.8 652.3,610.3 653,607.7 653.7,605 654.4,602.2 655.1,599.3 655.7,596.2 656.4,592.9 657.1,589.5 657.8,586.1 658.5,582.5 659.2,579 659.9,575.4 660.6,571.8 661.3,568.4 662,565 662.7,561.6 663.4,558.2 664.1,554.9 664.8,551.7 665.5,548.6 666.2,545.8 666.9,543.3 667.6,541.1 668.3,539.4 669,538.1 669.7,537.4 670.4,537.4 671.1,538.1 671.7,539.2 672.4,540.7 673.1,542.5 673.8,544.5 674.5,546.6 675.2,548.7 675.9,550.8 676.6,553 677.3,555.2 678,557.5 678.7,559.8 679.4,562 680.1,564.3 680.8,566.4 681.5,568.5 682.2,570.5 682.9,572.5 683.6,574.5 684.3,576.4 685,578.2 685.7,579.9 686.4,581.4 687.1,582.7 687.7,583.7 688.4,584.3 689.1,584.5 689.8,584.5 690.5,584.3 691.2,583.8 691.9,583.2 692.6,582.4 693.3,581.6 694,580.7 694.7,579.7 695.4,578.8 696.1,577.9 696.8,576.9 697.5,575.7 698.2,574.3 698.9,572.9 699.6,571.5 700.3,570 701,568.6 701.7,567.3 702.4,566.1 703.1,565 703.7,564.2 704.4,563.7 705.1,563.5 705.8,563.6 706.5,564 707.2,564.6 707.9,565.5 708.6,566.5 709.3,567.6 710,568.7 710.7,569.9 711.4,571.1 712.1,572.1 712.8,573.4 713.5,574.9 714.2,576.6 714.9,578.2 715.6,579.7 716.3,580.9 717,581.7 717.7,581.9 718.4,581.6 719.1,580.7 719.7,579.5 720.4,578 721.1,576.4 721.8,574.7 722.5,573 723.2,571.5 723.9,569.8 724.6,567.9 725.3,565.8 726,563.7 726.7,561.6 727.4,559.6 728.1,557.8 728.8,556.3 729.5,555.1 730.2,554.4 730.9,554.8 731.6,556.1 732.3,558.1 733,560.8 733.7,563.8 734.4,567 735.1,570.2 735.7,573.5 736.4,577 737.1,580.6 737.8,584.2 738.5,587.8 739.2,591.3 739.9,594.6 740.6,597.8 741.3,600.8 742,603.4 742.7,605.5 743.4,606.7 744.1,607 744.8,606.3 745.5,604.8 746.2,602.5 746.9,599.8 747.6,596.9 748.3,593.8 749,590.5 749.7,586.9 750.4,583.2 751.1,579.4 751.7,575.7 752.4,572.1 753.1,568.7 753.8,565.7 754.5,562.9 755.2,560.2 755.9,557.5 756.6,555 757.3,552.7 758,550.5 758.7,548.5 759.4,546.8 760.1,545.3 760.8,544.1 761.5,543.3 762.2,542.8 762.9,542.7 763.6,542.7 764.3,542.9 765,543.1 765.7,543.4 766.4,543.8 767.1,544.3 767.7,544.9 768.4,545.5 769.1,546.1 769.8,546.8 770.5,547.5 771.2,548.1 771.9,548.8 772.6,549.5 773.3,550.3 774,551.1 774.7,551.9 775.4,552.8" fill="none" stroke="#4d5a5d" stroke-width="1.8" stroke-linejoin="round"/>
<path d="M150,487V640.6H787.5" fill="none" stroke="#231f20" stroke-width="2"/>
<text x="138.6" y="520.4" font-size="25" text-anchor="end">14</text>
<text x="138.6" y="555.1" font-size="25" text-anchor="end">10</text>
<text x="138.6" y="589.2" font-size="25" text-anchor="end">6</text>
<text x="138.6" y="623.9" font-size="25" text-anchor="end">2</text>
<text x="67" y="564" font-size="31" text-anchor="middle" transform="rotate(-90 67 564)">n Active</text>
<text x="103.8" y="563.5" font-size="31" text-anchor="middle" transform="rotate(-90 103.8 563.5)">Neurons</text>
<text x="147.2" y="672" font-size="25" text-anchor="middle">0</text>
<text x="275.5" y="672" font-size="25" text-anchor="middle">10</text>
<text x="398.3" y="672" font-size="25" text-anchor="middle">20</text>
<text x="523.5" y="672" font-size="25" text-anchor="middle">30</text>
<text x="648" y="672" font-size="25" text-anchor="middle">40</text>
<text x="773.4" y="672" font-size="25" text-anchor="middle">50</text>
<text x="468.5" y="716" font-size="30.4" text-anchor="middle">Bin</text>
</g>
<g id="panel-bc">
<text x="853.5" y="105" font-size="45">B</text>
<text x="1175.5" y="154.4" font-size="38" text-anchor="middle">Fraction of recorded neurons</text>
<text x="1180.5" y="199.7" font-size="38" text-anchor="middle">contributing to an avalanche</text>
<path d="M900.4,640 901.4,640 902.3,639.9 903.3,639.9 904.3,639.9 905.2,639.8 906.2,639.7 907.2,639.7 908.1,639.6 909.1,639.5 910.1,639.4 911,639.3 912,639.2 912.9,639.1 913.9,639 914.9,638.8 915.8,638.6 916.8,638.5 917.8,638.3 918.7,638.1 919.7,637.9 920.7,637.6 921.6,637.4 922.6,637.1 923.6,636.8 924.5,636.5 925.5,636.1 926.5,635.8 927.4,635.3 928.4,634.9 929.4,634.4 930.3,633.8 931.3,633.2 932.2,632.5 933.2,631.8 934.2,631 935.1,630.1 936.1,629.1 937.1,628.1 938,626.9 939,625.7 940,624.3 940.9,622.8 941.9,621.1 942.9,619.4 943.8,617.4 944.8,615.4 945.8,613.1 946.7,610.7 947.7,608.1 948.6,605.3 949.6,602.3 950.6,599.2 951.5,595.8 952.5,592.2 953.5,588.5 954.4,584.6 955.4,580.5 956.4,576.2 957.3,571.8 958.3,567.3 959.3,562.6 960.2,557.8 961.2,553 962.2,548.1 963.1,543.1 964.1,538 965,532.9 966,527.8 967,522.6 967.9,517.4 968.9,512.2 969.9,507 970.8,501.7 971.8,496.5 972.8,491.2 973.7,486 974.7,480.7 975.7,475.5 976.6,470.3 977.6,465.1 978.6,460 979.5,454.8 980.5,449.7 981.4,444.6 982.4,439.6 983.4,434.6 984.3,429.7 985.3,424.8 986.3,420 987.2,415.3 988.2,410.7 989.2,406.1 990.1,401.7 991.1,397.4 992.1,393.2 993,389.2 994,385.3 995,381.5 995.9,377.8 996.9,374.3 997.8,370.9 998.8,367.7 999.8,364.6 1000.7,361.6 1001.7,358.7 1002.7,356 1003.6,353.4 1004.6,350.9 1005.6,348.5 1006.5,346.3 1007.5,344.1 1008.5,342.1 1009.4,340.2 1010.4,338.3 1011.4,336.6 1012.3,335 1013.3,333.4 1014.2,332 1015.2,330.6 1016.2,329.3 1017.1,328.1 1018.1,327.1 1019.1,326.1 1020,325.1 1021,324.3 1022,323.6 1022.9,322.9 1023.9,322.4 1024.9,321.9 1025.8,321.4 1026.8,321.1 1027.8,320.8 1028.7,320.5 1029.7,320.3 1030.7,320.2 1031.6,320.1 1032.6,320 1033.5,320 1034.5,320.1 1035.5,320.2 1036.4,320.3 1037.4,320.5 1038.4,320.7 1039.3,320.9 1040.3,321.2 1041.3,321.5 1042.2,321.9 1043.2,322.2 1044.2,322.7 1045.1,323.1 1046.1,323.7 1047.1,324.2 1048,324.8 1049,325.4 1049.9,326.1 1050.9,326.9 1051.9,327.6 1052.8,328.4 1053.8,329.3 1054.8,330.2 1055.7,331.2 1056.7,332.1 1057.7,333.2 1058.6,334.2 1059.6,335.3 1060.6,336.4 1061.5,337.5 1062.5,338.7 1063.5,339.9 1064.4,341.1 1065.4,342.3 1066.3,343.5 1067.3,344.8 1068.3,346 1069.2,347.3 1070.2,348.6 1071.2,349.9 1072.1,351.3 1073.1,352.6 1074.1,354 1075,355.4 1076,356.8 1077,358.2 1077.9,359.6 1078.9,361.1 1079.9,362.5 1080.8,364 1081.8,365.5 1082.7,367 1083.7,368.5 1084.7,370 1085.6,371.5 1086.6,373 1087.6,374.6 1088.5,376.1 1089.5,377.7 1090.5,379.2 1091.4,380.8 1092.4,382.4 1093.4,384 1094.3,385.6 1095.3,387.2 1096.3,388.8 1097.2,390.4 1098.2,392.1 1099.1,393.7 1100.1,395.3 1101.1,397 1102,398.6 1103,400.3 1104,401.9 1104.9,403.6 1105.9,405.2 1106.9,406.8 1107.8,408.5 1108.8,410.1 1109.8,411.8 1110.7,413.4 1111.7,415.1 1112.7,416.7 1113.6,418.3 1114.6,420 1115.5,421.6 1116.5,423.3 1117.5,424.9 1118.4,426.5 1119.4,428.2 1120.4,429.8 1121.3,431.4 1122.3,433 1123.3,434.6 1124.2,436.2 1125.2,437.8 1126.2,439.3 1127.1,440.9 1128.1,442.5 1129.1,444 1130,445.5 1131,447.1 1132,448.6 1132.9,450.1 1133.9,451.6 1134.8,453.1 1135.8,454.6 1136.8,456 1137.7,457.5 1138.7,458.9 1139.7,460.4 1140.6,461.8 1141.6,463.2 1142.6,464.6 1143.5,466 1144.5,467.4 1145.5,468.8 1146.4,470.2 1147.4,471.6 1148.4,472.9 1149.3,474.3 1150.3,475.6 1151.2,477 1152.2,478.3 1153.2,479.6 1154.1,480.9 1155.1,482.2 1156.1,483.5 1157,484.7 1158,486 1159,487.3 1159.9,488.5 1160.9,489.8 1161.9,491 1162.8,492.2 1163.8,493.4 1164.8,494.6 1165.7,495.8 1166.7,497 1167.6,498.2 1168.6,499.3 1169.6,500.5 1170.5,501.7 1171.5,502.8 1172.5,504 1173.4,505.1 1174.4,506.3 1175.4,507.5 1176.3,508.6 1177.3,509.8 1178.3,510.9 1179.2,512.1 1180.2,513.2 1181.2,514.4 1182.1,515.5 1183.1,516.7 1184,517.9 1185,519 1186,520.2 1186.9,521.3 1187.9,522.5 1188.9,523.6 1189.8,524.8 1190.8,526 1191.8,527.1 1192.7,528.3 1193.7,529.4 1194.7,530.6 1195.6,531.8 1196.6,532.9 1197.6,534.1 1198.5,535.2 1199.5,536.4 1200.4,537.5 1201.4,538.7 1202.4,539.9 1203.3,541 1204.3,542.2 1205.3,543.3 1206.2,544.5 1207.2,545.7 1208.2,546.8 1209.1,548 1210.1,549.1 1211.1,550.3 1212,551.4 1213,552.5 1214,553.7 1214.9,554.8 1215.9,555.9 1216.8,557.1 1217.8,558.2 1218.8,559.3 1219.7,560.4 1220.7,561.5 1221.7,562.6 1222.6,563.7 1223.6,564.8 1224.6,565.9 1225.5,567 1226.5,568.1 1227.5,569.1 1228.4,570.2 1229.4,571.3 1230.4,572.4 1231.3,573.4 1232.3,574.5 1233.3,575.6 1234.2,576.6 1235.2,577.7 1236.1,578.7 1237.1,579.7 1238.1,580.7 1239,581.8 1240,582.8 1241,583.8 1241.9,584.8 1242.9,585.8 1243.9,586.8 1244.8,587.8 1245.8,588.7 1246.8,589.7 1247.7,590.7 1248.7,591.7 1249.7,592.6 1250.6,593.6 1251.6,594.5 1252.5,595.5 1253.5,596.4 1254.5,597.4 1255.4,598.3 1256.4,599.2 1257.4,600.1 1258.3,601 1259.3,601.9 1260.3,602.7 1261.2,603.6 1262.2,604.5 1263.2,605.3 1264.1,606.1 1265.1,607 1266.1,607.8 1267,608.6 1268,609.4 1268.9,610.2 1269.9,611 1270.9,611.7 1271.8,612.5 1272.8,613.3 1273.8,614 1274.7,614.8 1275.7,615.5 1276.7,616.2 1277.6,616.9 1278.6,617.6 1279.6,618.3 1280.5,619 1281.5,619.6 1282.5,620.3 1283.4,620.9 1284.4,621.5 1285.3,622.1 1286.3,622.6 1287.3,623.2 1288.2,623.7 1289.2,624.1 1290.2,624.6 1291.1,625 1292.1,625.4 1293.1,625.8 1294,626.2 1295,626.5 1296,626.8 1296.9,627.1 1297.9,627.4 1298.9,627.7 1299.8,628 1300.8,628.3 1301.7,628.5 1302.7,628.8 1303.7,629 1304.6,629.3 1305.6,629.5 1306.6,629.7 1307.5,629.9 1308.5,630.1 1309.5,630.3 1310.4,630.6 1311.4,630.8 1312.4,630.9 1313.3,631.1 1314.3,631.3 1315.3,631.5 1316.2,631.7 1317.2,631.9 1318.1,632.1 1319.1,632.2 1320.1,632.4 1321,632.6 1322,632.7 1323,632.9 1323.9,633.1 1324.9,633.2 1325.9,633.4 1326.8,633.5 1327.8,633.7 1328.8,633.9 1329.7,634 1330.7,634.1 1331.7,634.3 1332.6,634.4 1333.6,634.6 1334.6,634.7 1335.5,634.8 1336.5,635 1337.4,635.1 1338.4,635.2 1339.4,635.3 1340.3,635.4 1341.3,635.6 1342.3,635.7 1343.2,635.8 1344.2,635.9 1345.2,636 1346.1,636.1 1347.1,636.2 1348.1,636.3 1349,636.4 1350,636.5 1351,636.6 1351.9,636.6 1352.9,636.7 1353.8,636.8 1354.8,636.9 1355.8,637 1356.7,637.1 1357.7,637.1 1358.7,637.2 1359.6,637.3 1360.6,637.4 1361.6,637.4 1362.5,637.5 1363.5,637.6 1364.5,637.7 1365.4,637.7 1366.4,637.8 1367.4,637.9 1368.3,637.9 1369.3,638 1370.2,638 1371.2,638.1 1372.2,638.2 1373.1,638.2 1374.1,638.3 1375.1,638.3 1376,638.4 1377,638.4 1378,638.5 1378.9,638.5 1379.9,638.6 1380.9,638.6 1381.8,638.7 1382.8,638.7 1383.8,638.8 1384.7,638.8 1385.7,638.8 1386.6,638.9 1387.6,638.9 1388.6,639 1389.5,639 1390.5,639 1391.5,639.1 1392.4,639.1 1393.4,639.1 1394.4,639.2 1395.3,639.2 1396.3,639.2 1397.3,639.3 1398.2,639.3 1399.2,639.3 1400.2,639.4 1401.1,639.4 1402.1,639.4 1403,639.5 1404,639.5 1405,639.5 1405.9,639.5 1406.9,639.6 1407.9,639.6 1408.8,639.6 1409.8,639.6 1410.8,639.7 1411.7,639.7 1412.7,639.7 1413.7,639.7 1414.6,639.8 1415.6,639.8 1416.6,639.8 1417.5,639.8 1418.5,639.8 1419.4,639.9 1420.4,639.9 1421.4,639.9 1422.3,639.9 1423.3,639.9 1424.3,640 1425.2,640 1426.2,640 1427.2,640 1428.1,640 1429.1,640 1430.1,640.1 1431,640.1 1432,640.1 1433,640.1 1433.9,640.1 1434.9,640.1 1435.9,640.2 1436.8,640.2 1437.8,640.2 1438.7,640.2 1439.7,640.2 1440.7,640.2 1441.6,640.2 1442.6,640.3 1443.6,640.3 1444.5,640.3 1445.5,640.3 1446.5,640.3 1447.4,640.3 1448.4,640.4 1449.4,640.4 1450.3,640.4 1451.3,640.4 1452.3,640.4 1453.2,640.4 1454.2,640.4 1455.1,640.5 1456.1,640.5 1457.1,640.5 1458,640.5 1459,640.5 1460,640.5 1460.9,640.6 1461.9,640.6 1462.9,640.6 1463.8,640.6 1464.8,640.6 1465.8,640.6 1466.7,640.6 1467.7,640.7 1468.7,640.7 1469.6,640.7 1470.6,640.7 1471.5,640.7 1472.5,640.7 1473.5,640.7 1474.4,640.7 1475.4,640.7 1476.4,640.8 1477.3,640.8 1478.3,640.8 1478.3,641 900,641Z" fill="#b3def2" stroke="#6fc0de" stroke-width="1.5" stroke-linejoin="round"/>
<path d="M883.4,302.5V641H1478.4" fill="none" stroke="#231f20" stroke-width="1.6"/>
<text x="880.8" y="671.7" font-size="25.5" text-anchor="middle">0</text>
<text x="999.8" y="671.7" font-size="25.5" text-anchor="middle">0.2</text>
<text x="1118.5" y="671.7" font-size="25.5" text-anchor="middle">0.4</text>
<text x="1237.5" y="671.7" font-size="25.5" text-anchor="middle">0.6</text>
<text x="1356.5" y="671.7" font-size="25.5" text-anchor="middle">0.8</text>
<text x="1475.2" y="671.7" font-size="25.5" text-anchor="middle">1.0</text>
<text x="1180.2" y="715.3" font-size="30.4" text-anchor="middle">Proportion of neurons activated in an avalanche</text>
<text x="852.7" y="472" font-size="30.3" text-anchor="middle" transform="rotate(-90 852.7 472)">Density</text>
<text x="1307.3" y="434" font-size="30" text-anchor="middle">n = 8 animals</text>
<text x="1455" y="105.3" font-size="45">C</text>
<text x="1842.6" y="153.2" font-size="38" text-anchor="middle">Fraction of avalanches that</text>
<text x="1847.4" y="198.4" font-size="38" text-anchor="middle">a neuron contributes to</text>
<rect x="1585.1" y="359.1" width="17.6" height="281.5" fill="#5a8fc8"/>
<rect x="1605.4" y="319.7" width="17.6" height="320.9" fill="#5a8fc8"/>
<rect x="1625.8" y="395.3" width="17.6" height="245.3" fill="#5a8fc8"/>
<rect x="1646.1" y="410.3" width="17.6" height="230.3" fill="#5a8fc8"/>
<rect x="1666.4" y="440.4" width="17.6" height="200.2" fill="#5a8fc8"/>
<rect x="1686.8" y="449.2" width="17.6" height="191.4" fill="#5a8fc8"/>
<rect x="1707.1" y="466.3" width="17.6" height="174.3" fill="#5a8fc8"/>
<rect x="1727.4" y="479.2" width="17.6" height="161.4" fill="#5a8fc8"/>
<rect x="1747.7" y="461.8" width="17.6" height="178.8" fill="#5a8fc8"/>
<rect x="1768.1" y="487.6" width="17.6" height="153" fill="#5a8fc8"/>
<rect x="1788.4" y="475" width="17.6" height="165.6" fill="#5a8fc8"/>
<rect x="1808.7" y="471.8" width="17.6" height="168.8" fill="#5a8fc8"/>
<rect x="1829.1" y="475" width="17.6" height="165.6" fill="#5a8fc8"/>
<rect x="1849.4" y="465" width="17.6" height="175.6" fill="#5a8fc8"/>
<rect x="1869.7" y="466" width="17.6" height="174.6" fill="#5a8fc8"/>
<rect x="1890" y="492.2" width="17.6" height="148.4" fill="#5a8fc8"/>
<rect x="1910.4" y="496" width="17.6" height="144.6" fill="#5a8fc8"/>
<rect x="1930.7" y="504.8" width="17.6" height="135.8" fill="#5a8fc8"/>
<rect x="1951" y="508" width="17.6" height="132.6" fill="#5a8fc8"/>
<rect x="1971.4" y="516.4" width="17.6" height="124.2" fill="#5a8fc8"/>
<rect x="1991.7" y="534.8" width="17.6" height="105.8" fill="#5a8fc8"/>
<rect x="2012" y="547.5" width="17.6" height="93.1" fill="#5a8fc8"/>
<rect x="2032.4" y="554.9" width="17.6" height="85.7" fill="#5a8fc8"/>
<rect x="2052.7" y="599.2" width="17.6" height="41.4" fill="#5a8fc8"/>
<rect x="2073" y="629" width="17.6" height="11.6" fill="#5a8fc8"/>
<path d="M1550.2,301.6V640.6H2145.8" fill="none" stroke="#231f20" stroke-width="1.6"/>
<text x="1568.6" y="671.7" font-size="25.5" text-anchor="middle">0</text>
<text x="1689" y="671.7" font-size="25.5" text-anchor="middle">0.2</text>
<text x="1802.2" y="671.7" font-size="25.5" text-anchor="middle">0.4</text>
<text x="1915.3" y="671.7" font-size="25.5" text-anchor="middle">0.6</text>
<text x="2028.8" y="671.7" font-size="25.5" text-anchor="middle">0.8</text>
<text x="2143.6" y="671.7" font-size="25.5" text-anchor="middle">1.0</text>
<text x="1846.4" y="715.3" font-size="28.8" text-anchor="middle">Proportion of avalanches</text>
<text x="1519.1" y="472" font-size="30.3" text-anchor="middle" transform="rotate(-90 1519.1 472)">Density</text>
<text x="1935.5" y="434" font-size="30" text-anchor="middle">n = 8 animals</text>
</g>
<g id="panel-d">
<text x="0" y="826.6" font-size="45">D</text>
<text x="569.8" y="879" font-size="38" text-anchor="middle">Avalanche rate</text>
<rect x="160.1" y="913.3" width="29.7" height="30.3" rx="4.5" ry="4.5" fill="#a8abaf" stroke="#8a8c8e" stroke-width="1"/>
<text x="197.6" y="938.7" font-size="30">Dark</text>
<rect x="287.3" y="913.3" width="30" height="30.3" rx="4.5" ry="4.5" fill="#eef1d4" stroke="#8a8c7e" stroke-width="1"/>
<text x="322.2" y="936.3" font-size="30">Light</text>
<rect x="150.5" y="955.3" width="849.6" height="253.5" fill="#eef1d4"/>
<rect x="193" y="955.3" width="85" height="253.5" fill="#a8abaf"/>
<rect x="362.9" y="955.3" width="85" height="253.5" fill="#a8abaf"/>
<rect x="532.8" y="955.3" width="85" height="253.5" fill="#a8abaf"/>
<rect x="702.7" y="955.3" width="85" height="253.5" fill="#a8abaf"/>
<rect x="872.7" y="955.3" width="85" height="253.5" fill="#a8abaf"/>
<path d="M154,1079.9 161.1,1092.1 168.2,1086.6 175.3,1079.3 182.4,1085.1 189.4,1087.7 196.5,1073.4 203.6,1093.8 210.7,1089.2 217.8,1080.4 224.8,1065.9 231.9,1095.9 239,1096.7 246.1,1079 253.2,1086.3 260.2,1089.5 267.3,1097.3 274.4,1063.8 281.5,1108.1 288.6,1104.9 295.6,1095.3 302.7,1101.7 309.8,1091.5 316.9,1096.7 324,1095.9 331,1094.4 338.1,1095.3 345.2,1097.3 352.3,1093 359.4,1092.1 366.4,1106.3 373.5,1089.2 380.6,1105.2 387.7,1098.2 394.8,1090.6 401.8,1103.7 408.9,1087.1 416,1068.2 423.1,1101.1 430.2,1095 437.2,1088.6 444.3,1094.4 451.4,1095.3 458.5,1085.7 465.6,1095.9 472.6,1098.8 479.7,1053.7 486.8,1053.7 493.9,1103.1 501,1089.2 508,1085.7 515.1,1092.1 522.2,1070.2 529.3,1092.4 536.4,1062.4 543.4,1106.9 550.5,1093 557.6,1082.8 564.7,1092.1 571.8,1076.9 578.8,1093.8 585.9,1093.8 593,1085.1 600.1,1055.1 607.2,1058.6 614.2,1090 621.3,1099.7 628.4,1086.3 635.5,1095.9 642.6,1111.9 649.6,1094.4 656.7,1096.7 663.8,1099.4 670.9,1090 678,1056.6 685,1051.6 692.1,1104 699.2,1101.7 706.3,1100.2 713.4,1096.4 720.4,1095.3 727.5,1089.2 734.6,1093 741.7,1062.4 748.8,1063.8 755.8,1105.2 762.9,1106.1 770,1090.9 777.1,1069.7 784.2,1118.6 791.2,1109.5 798.3,1109 805.4,1090.6 812.5,1105.5 819.6,1100.2 826.6,1099.7 833.7,1103.1 840.8,1096.4 847.9,1098.8 855,1099.4 862,1100.2 869.1,1083.3 876.2,1068.8 883.3,1093.8 890.4,1098.2 897.4,1092.4 904.5,1076.4 911.6,1109.8 918.7,1090.9 925.8,1091.5 932.8,1102.6 939.9,1073.4 947,1108.1 954.1,1092.4 961.2,1108.1 968.2,1113.9 975.3,1091.5 982.4,1059.5 989.5,1098.8 996.6,1095.3" fill="none" stroke="#1a1a1a" stroke-width="1.6" stroke-linejoin="round"/>
<g fill="#3d3d3f" stroke="#d2d3d5" stroke-width="1.3"><circle cx="154" cy="1079.9" r="4.6"/><circle cx="161.1" cy="1092.1" r="4.6"/><circle cx="168.2" cy="1086.6" r="4.6"/><circle cx="175.3" cy="1079.3" r="4.6"/><circle cx="182.4" cy="1085.1" r="4.6"/><circle cx="189.4" cy="1087.7" r="4.6"/><circle cx="196.5" cy="1073.4" r="4.6"/><circle cx="203.6" cy="1093.8" r="4.6"/><circle cx="210.7" cy="1089.2" r="4.6"/><circle cx="217.8" cy="1080.4" r="4.6"/><circle cx="224.8" cy="1065.9" r="4.6"/><circle cx="231.9" cy="1095.9" r="4.6"/><circle cx="239" cy="1096.7" r="4.6"/><circle cx="246.1" cy="1079" r="4.6"/><circle cx="253.2" cy="1086.3" r="4.6"/><circle cx="260.2" cy="1089.5" r="4.6"/><circle cx="267.3" cy="1097.3" r="4.6"/><circle cx="274.4" cy="1063.8" r="4.6"/><circle cx="281.5" cy="1108.1" r="4.6"/><circle cx="288.6" cy="1104.9" r="4.6"/><circle cx="295.6" cy="1095.3" r="4.6"/><circle cx="302.7" cy="1101.7" r="4.6"/><circle cx="309.8" cy="1091.5" r="4.6"/><circle cx="316.9" cy="1096.7" r="4.6"/><circle cx="324" cy="1095.9" r="4.6"/><circle cx="331" cy="1094.4" r="4.6"/><circle cx="338.1" cy="1095.3" r="4.6"/><circle cx="345.2" cy="1097.3" r="4.6"/><circle cx="352.3" cy="1093" r="4.6"/><circle cx="359.4" cy="1092.1" r="4.6"/><circle cx="366.4" cy="1106.3" r="4.6"/><circle cx="373.5" cy="1089.2" r="4.6"/><circle cx="380.6" cy="1105.2" r="4.6"/><circle cx="387.7" cy="1098.2" r="4.6"/><circle cx="394.8" cy="1090.6" r="4.6"/><circle cx="401.8" cy="1103.7" r="4.6"/><circle cx="408.9" cy="1087.1" r="4.6"/><circle cx="416" cy="1068.2" r="4.6"/><circle cx="423.1" cy="1101.1" r="4.6"/><circle cx="430.2" cy="1095" r="4.6"/><circle cx="437.2" cy="1088.6" r="4.6"/><circle cx="444.3" cy="1094.4" r="4.6"/><circle cx="451.4" cy="1095.3" r="4.6"/><circle cx="458.5" cy="1085.7" r="4.6"/><circle cx="465.6" cy="1095.9" r="4.6"/><circle cx="472.6" cy="1098.8" r="4.6"/><circle cx="479.7" cy="1053.7" r="4.6"/><circle cx="486.8" cy="1053.7" r="4.6"/><circle cx="493.9" cy="1103.1" r="4.6"/><circle cx="501" cy="1089.2" r="4.6"/><circle cx="508" cy="1085.7" r="4.6"/><circle cx="515.1" cy="1092.1" r="4.6"/><circle cx="522.2" cy="1070.2" r="4.6"/><circle cx="529.3" cy="1092.4" r="4.6"/><circle cx="536.4" cy="1062.4" r="4.6"/><circle cx="543.4" cy="1106.9" r="4.6"/><circle cx="550.5" cy="1093" r="4.6"/><circle cx="557.6" cy="1082.8" r="4.6"/><circle cx="564.7" cy="1092.1" r="4.6"/><circle cx="571.8" cy="1076.9" r="4.6"/><circle cx="578.8" cy="1093.8" r="4.6"/><circle cx="585.9" cy="1093.8" r="4.6"/><circle cx="593" cy="1085.1" r="4.6"/><circle cx="600.1" cy="1055.1" r="4.6"/><circle cx="607.2" cy="1058.6" r="4.6"/><circle cx="614.2" cy="1090" r="4.6"/><circle cx="621.3" cy="1099.7" r="4.6"/><circle cx="628.4" cy="1086.3" r="4.6"/><circle cx="635.5" cy="1095.9" r="4.6"/><circle cx="642.6" cy="1111.9" r="4.6"/><circle cx="649.6" cy="1094.4" r="4.6"/><circle cx="656.7" cy="1096.7" r="4.6"/><circle cx="663.8" cy="1099.4" r="4.6"/><circle cx="670.9" cy="1090" r="4.6"/><circle cx="678" cy="1056.6" r="4.6"/><circle cx="685" cy="1051.6" r="4.6"/><circle cx="692.1" cy="1104" r="4.6"/><circle cx="699.2" cy="1101.7" r="4.6"/><circle cx="706.3" cy="1100.2" r="4.6"/><circle cx="713.4" cy="1096.4" r="4.6"/><circle cx="720.4" cy="1095.3" r="4.6"/><circle cx="727.5" cy="1089.2" r="4.6"/><circle cx="734.6" cy="1093" r="4.6"/><circle cx="741.7" cy="1062.4" r="4.6"/><circle cx="748.8" cy="1063.8" r="4.6"/><circle cx="755.8" cy="1105.2" r="4.6"/><circle cx="762.9" cy="1106.1" r="4.6"/><circle cx="770" cy="1090.9" r="4.6"/><circle cx="777.1" cy="1069.7" r="4.6"/><circle cx="784.2" cy="1118.6" r="4.6"/><circle cx="791.2" cy="1109.5" r="4.6"/><circle cx="798.3" cy="1109" r="4.6"/><circle cx="805.4" cy="1090.6" r="4.6"/><circle cx="812.5" cy="1105.5" r="4.6"/><circle cx="819.6" cy="1100.2" r="4.6"/><circle cx="826.6" cy="1099.7" r="4.6"/><circle cx="833.7" cy="1103.1" r="4.6"/><circle cx="840.8" cy="1096.4" r="4.6"/><circle cx="847.9" cy="1098.8" r="4.6"/><circle cx="855" cy="1099.4" r="4.6"/><circle cx="862" cy="1100.2" r="4.6"/><circle cx="869.1" cy="1083.3" r="4.6"/><circle cx="876.2" cy="1068.8" r="4.6"/><circle cx="883.3" cy="1093.8" r="4.6"/><circle cx="890.4" cy="1098.2" r="4.6"/><circle cx="897.4" cy="1092.4" r="4.6"/><circle cx="904.5" cy="1076.4" r="4.6"/><circle cx="911.6" cy="1109.8" r="4.6"/><circle cx="918.7" cy="1090.9" r="4.6"/><circle cx="925.8" cy="1091.5" r="4.6"/><circle cx="932.8" cy="1102.6" r="4.6"/><circle cx="939.9" cy="1073.4" r="4.6"/><circle cx="947" cy="1108.1" r="4.6"/><circle cx="954.1" cy="1092.4" r="4.6"/><circle cx="961.2" cy="1108.1" r="4.6"/><circle cx="968.2" cy="1113.9" r="4.6"/><circle cx="975.3" cy="1091.5" r="4.6"/><circle cx="982.4" cy="1059.5" r="4.6"/><circle cx="989.5" cy="1098.8" r="4.6"/><circle cx="996.6" cy="1095.3" r="4.6"/></g>
<path d="M150.5,955V1208.8H1000.2" fill="none" stroke="#231f20" stroke-width="1.8"/>
<text x="137.3" y="966" font-size="26.4" text-anchor="end">8</text>
<text x="137.3" y="1029.2" font-size="26.4" text-anchor="end">6</text>
<text x="137.3" y="1092.6" font-size="26.4" text-anchor="end">4</text>
<text x="137.3" y="1156.4" font-size="26.4" text-anchor="end">2</text>
<text x="137.3" y="1219.3" font-size="26.4" text-anchor="end">0</text>
<text x="149.3" y="1243.5" font-size="25.5" text-anchor="middle">0</text>
<text x="234.4" y="1243.5" font-size="25.5" text-anchor="middle">12</text>
<text x="317.9" y="1243.5" font-size="25.5" text-anchor="middle">24</text>
<text x="403.2" y="1243.5" font-size="25.5" text-anchor="middle">36</text>
<text x="487.9" y="1243.5" font-size="25.5" text-anchor="middle">48</text>
<text x="572.8" y="1243.5" font-size="25.5" text-anchor="middle">60</text>
<text x="658.7" y="1243.5" font-size="25.5" text-anchor="middle">72</text>
<text x="743.1" y="1243.5" font-size="25.5" text-anchor="middle">84</text>
<text x="828.1" y="1243.5" font-size="25.5" text-anchor="middle">96</text>
<text x="912.8" y="1243.5" font-size="25.5" text-anchor="middle">108</text>
<text x="997.8" y="1243.5" font-size="25.5" text-anchor="middle">120</text>
<text x="565.2" y="1283.6" font-size="30" text-anchor="middle">Time (hours)</text>
<text x="99.6" y="1089" font-size="30.6" text-anchor="middle" transform="rotate(-90 99.6 1089)">AV Rate (Hz)</text>
<text x="899.3" y="1182.3" font-size="30.4" text-anchor="middle">(n = 1 animal)</text>
</g>
<g id="panel-e">
<text x="1070.4" y="826.6" font-size="45">E</text>
<rect x="1195.4" y="792.2" width="30" height="29.4" rx="4.5" ry="4.5" fill="#a8abaf" stroke="#8a8c8e" stroke-width="1"/>
<text x="1232.8" y="816.4" font-size="30">Dark</text>
<rect x="1322.6" y="792.2" width="30" height="29.4" rx="4.5" ry="4.5" fill="#eef1d4" stroke="#8a8c7e" stroke-width="1"/>
<text x="1358" y="816.4" font-size="30">Light</text>
<circle cx="1209.4" cy="858" r="14.8" fill="#d0d2d5" stroke="#e4e5e7" stroke-width="1.8"/>
<text x="1233.6" y="868.2" font-size="30.3">12 h data, 1 animal</text>
<rect x="1171.2" y="892" width="424" height="316.9" fill="#eef1d4"/>
<rect x="1620" y="894" width="424.8" height="314.9" fill="#a8abaf"/>
<line x1="1241.7" y1="996" x2="1241.7" y2="1040" stroke="#2a2a2a" stroke-width="1.2"/>
<line x1="1241.7" y1="1099.1" x2="1241.7" y2="1157.4" stroke="#2a2a2a" stroke-width="1.2"/>
<line x1="1212.9" y1="996" x2="1270.5" y2="996" stroke="#2a2a2a" stroke-width="1.2"/>
<line x1="1212.9" y1="1157.4" x2="1270.5" y2="1157.4" stroke="#2a2a2a" stroke-width="1.2"/>
<rect x="1184.6" y="1040" width="114.2" height="59.1" fill="#0f75bc" stroke="#4a4a4a" stroke-width="1"/>
<line x1="1184.6" y1="1070.3" x2="1298.8" y2="1070.3" stroke="#1f1f1f" stroke-width="1.2"/>
<line x1="1383.2" y1="931.7" x2="1383.2" y2="963.1" stroke="#2a2a2a" stroke-width="1.2"/>
<line x1="1383.2" y1="1022.5" x2="1383.2" y2="1103.5" stroke="#2a2a2a" stroke-width="1.2"/>
<line x1="1354.7" y1="931.7" x2="1412.3" y2="931.7" stroke="#2a2a2a" stroke-width="1.2"/>
<line x1="1354.7" y1="1103.5" x2="1412.3" y2="1103.5" stroke="#2a2a2a" stroke-width="1.2"/>
<rect x="1326.4" y="963.1" width="114.2" height="59.4" fill="#f7b538" stroke="#4a4a4a" stroke-width="1"/>
<line x1="1326.4" y1="983.2" x2="1440.6" y2="983.2" stroke="#1f1f1f" stroke-width="1.2"/>
<line x1="1525" y1="927.9" x2="1525" y2="971.3" stroke="#2a2a2a" stroke-width="1.2"/>
<line x1="1525" y1="1061.6" x2="1525" y2="1098.8" stroke="#2a2a2a" stroke-width="1.2"/>
<line x1="1496.2" y1="927.9" x2="1554.1" y2="927.9" stroke="#2a2a2a" stroke-width="1.2"/>
<line x1="1496.2" y1="1098.8" x2="1554.1" y2="1098.8" stroke="#2a2a2a" stroke-width="1.2"/>
<rect x="1467.9" y="971.3" width="114.1" height="90.3" fill="#0dab8f" stroke="#4a4a4a" stroke-width="1"/>
<line x1="1467.9" y1="1011.2" x2="1582" y2="1011.2" stroke="#1f1f1f" stroke-width="1.2"/>
<line x1="1690.7" y1="985.6" x2="1690.7" y2="1032.4" stroke="#2a2a2a" stroke-width="1.2"/>
<line x1="1690.7" y1="1080.2" x2="1690.7" y2="1150.4" stroke="#2a2a2a" stroke-width="1.2"/>
<line x1="1661.9" y1="985.6" x2="1719.9" y2="985.6" stroke="#2a2a2a" stroke-width="1.2"/>
<line x1="1661.9" y1="1150.4" x2="1719.9" y2="1150.4" stroke="#2a2a2a" stroke-width="1.2"/>
<rect x="1633.7" y="1032.4" width="114.4" height="47.8" fill="#0f75bc" stroke="#4a4a4a" stroke-width="1"/>
<line x1="1633.7" y1="1054.6" x2="1748.1" y2="1054.6" stroke="#1f1f1f" stroke-width="1.2"/>
<line x1="1832.5" y1="916.3" x2="1832.5" y2="958.2" stroke="#2a2a2a" stroke-width="1.2"/>
<line x1="1832.5" y1="1006.5" x2="1832.5" y2="1072.9" stroke="#2a2a2a" stroke-width="1.2"/>
<line x1="1803.4" y1="916.3" x2="1861.4" y2="916.3" stroke="#2a2a2a" stroke-width="1.2"/>
<line x1="1803.4" y1="1072.9" x2="1861.4" y2="1072.9" stroke="#2a2a2a" stroke-width="1.2"/>
<rect x="1775.8" y="958.2" width="113.5" height="48.3" fill="#f7b538" stroke="#4a4a4a" stroke-width="1"/>
<line x1="1775.8" y1="977.4" x2="1889.3" y2="977.4" stroke="#1f1f1f" stroke-width="1.2"/>
<line x1="1974.3" y1="905.5" x2="1974.3" y2="966.3" stroke="#2a2a2a" stroke-width="1.2"/>
<line x1="1974.3" y1="1026.6" x2="1974.3" y2="1111.6" stroke="#2a2a2a" stroke-width="1.2"/>
<line x1="1945.2" y1="905.5" x2="2002.9" y2="905.5" stroke="#2a2a2a" stroke-width="1.2"/>
<line x1="1945.2" y1="1111.6" x2="2002.9" y2="1111.6" stroke="#2a2a2a" stroke-width="1.2"/>
<rect x="1917.3" y="966.3" width="113.8" height="60.3" fill="#0dab8f" stroke="#4a4a4a" stroke-width="1"/>
<line x1="1917.3" y1="991.4" x2="2031.1" y2="991.4" stroke="#1f1f1f" stroke-width="1.2"/>
<g fill="#acacb9" fill-opacity="0.6" stroke="#ffffff" stroke-width="1.2" stroke-opacity="0.75"><circle cx="1246.2" cy="1157.4" r="3.4"/><circle cx="1245.4" cy="996" r="3.4"/><circle cx="1239.3" cy="1058.9" r="3.4"/><circle cx="1250.9" cy="1089.6" r="3.4"/><circle cx="1235.5" cy="1122.5" r="3.4"/><circle cx="1239.6" cy="1075.3" r="3.4"/><circle cx="1250.7" cy="1044.9" r="3.4"/><circle cx="1239.6" cy="1034.2" r="3.4"/><circle cx="1248.2" cy="1104.7" r="3.4"/><circle cx="1245" cy="1145.4" r="3.4"/><circle cx="1254.9" cy="1082.8" r="3.4"/><circle cx="1254" cy="1013.6" r="3.4"/><circle cx="1248.2" cy="1026.3" r="3.4"/><circle cx="1249" cy="1143.8" r="3.4"/><circle cx="1233" cy="1079.6" r="3.4"/><circle cx="1248.7" cy="1066.5" r="3.4"/><circle cx="1250.8" cy="1016.8" r="3.4"/><circle cx="1240.1" cy="1041.4" r="3.4"/><circle cx="1244.1" cy="1047.9" r="3.4"/><circle cx="1242.2" cy="1037.5" r="3.4"/><circle cx="1255" cy="1095.7" r="3.4"/><circle cx="1237.6" cy="1067.4" r="3.4"/><circle cx="1240.1" cy="1043.2" r="3.4"/><circle cx="1229" cy="1089.1" r="3.4"/><circle cx="1240.7" cy="1108.4" r="3.4"/><circle cx="1246.3" cy="1058.5" r="3.4"/><circle cx="1253.4" cy="1025.2" r="3.4"/><circle cx="1254.5" cy="1062.3" r="3.4"/><circle cx="1238.8" cy="1011" r="3.4"/><circle cx="1256.4" cy="1071.3" r="3.4"/><circle cx="1234" cy="1068.6" r="3.4"/><circle cx="1251.6" cy="1056.3" r="3.4"/><circle cx="1234.4" cy="1022.1" r="3.4"/><circle cx="1240.1" cy="1052.1" r="3.4"/><circle cx="1232.5" cy="1020.1" r="3.4"/><circle cx="1250.6" cy="1008" r="3.4"/><circle cx="1251.8" cy="1080.6" r="3.4"/><circle cx="1234.1" cy="1019.3" r="3.4"/><circle cx="1243.3" cy="1124.1" r="3.4"/><circle cx="1236.4" cy="1103.2" r="3.4"/><circle cx="1242.5" cy="1082.8" r="3.4"/><circle cx="1244" cy="1019.7" r="3.4"/><circle cx="1231.7" cy="1071.8" r="3.4"/><circle cx="1252.9" cy="1072.3" r="3.4"/><circle cx="1236.6" cy="1059.6" r="3.4"/><circle cx="1241.2" cy="1058.5" r="3.4"/><circle cx="1231.8" cy="1114.5" r="3.4"/><circle cx="1231.1" cy="1016" r="3.4"/><circle cx="1234.8" cy="1104.2" r="3.4"/><circle cx="1238.9" cy="1019.8" r="3.4"/><circle cx="1254.5" cy="1055.1" r="3.4"/><circle cx="1252.6" cy="1031.7" r="3.4"/><circle cx="1242.3" cy="1136.9" r="3.4"/><circle cx="1241.5" cy="1096.4" r="3.4"/><circle cx="1247.1" cy="1099.8" r="3.4"/><circle cx="1251.8" cy="1109.1" r="3.4"/><circle cx="1238.6" cy="1108.9" r="3.4"/><circle cx="1250.5" cy="1042.4" r="3.4"/><circle cx="1239.9" cy="1067.1" r="3.4"/><circle cx="1244.8" cy="1132.4" r="3.4"/><circle cx="1381" cy="1103.5" r="3.4"/><circle cx="1383.9" cy="931.7" r="3.4"/><circle cx="1395.7" cy="1003.2" r="3.4"/><circle cx="1376.2" cy="958.6" r="3.4"/><circle cx="1390.7" cy="985.7" r="3.4"/><circle cx="1377.7" cy="1016.6" r="3.4"/><circle cx="1375.7" cy="996.9" r="3.4"/><circle cx="1379.7" cy="1023.3" r="3.4"/><circle cx="1373.1" cy="1004.5" r="3.4"/><circle cx="1396" cy="1005.7" r="3.4"/><circle cx="1381.7" cy="1067.6" r="3.4"/><circle cx="1375.6" cy="1012" r="3.4"/><circle cx="1370.2" cy="989.2" r="3.4"/><circle cx="1372.7" cy="1016" r="3.4"/><circle cx="1377.1" cy="940.7" r="3.4"/><circle cx="1381.9" cy="967.6" r="3.4"/><circle cx="1386.8" cy="1019.8" r="3.4"/><circle cx="1396.9" cy="1012.3" r="3.4"/><circle cx="1392.3" cy="1054.7" r="3.4"/><circle cx="1377" cy="983.7" r="3.4"/><circle cx="1386.2" cy="1073.2" r="3.4"/><circle cx="1394.3" cy="1033.7" r="3.4"/><circle cx="1374.6" cy="934.3" r="3.4"/><circle cx="1392" cy="1046.8" r="3.4"/><circle cx="1381.3" cy="984.7" r="3.4"/><circle cx="1391.9" cy="963.8" r="3.4"/><circle cx="1379.4" cy="959.7" r="3.4"/><circle cx="1386.8" cy="1056.7" r="3.4"/><circle cx="1384.4" cy="946.6" r="3.4"/><circle cx="1373.2" cy="971.5" r="3.4"/><circle cx="1391.4" cy="970.4" r="3.4"/><circle cx="1393.1" cy="965.7" r="3.4"/><circle cx="1383.8" cy="941" r="3.4"/><circle cx="1381.1" cy="993.3" r="3.4"/><circle cx="1394.9" cy="1032.9" r="3.4"/><circle cx="1380.9" cy="1012" r="3.4"/><circle cx="1393.7" cy="940.3" r="3.4"/><circle cx="1381.9" cy="988.7" r="3.4"/><circle cx="1380.9" cy="950.6" r="3.4"/><circle cx="1380.5" cy="954.1" r="3.4"/><circle cx="1376.4" cy="1073.3" r="3.4"/><circle cx="1378.6" cy="1025.5" r="3.4"/><circle cx="1377.5" cy="938.2" r="3.4"/><circle cx="1373.2" cy="1025.2" r="3.4"/><circle cx="1385.1" cy="1045.2" r="3.4"/><circle cx="1382.6" cy="957.8" r="3.4"/><circle cx="1371.2" cy="965.3" r="3.4"/><circle cx="1375.1" cy="1013.1" r="3.4"/><circle cx="1395.9" cy="977.6" r="3.4"/><circle cx="1374" cy="972.6" r="3.4"/><circle cx="1380.7" cy="980.5" r="3.4"/><circle cx="1392.5" cy="1068.8" r="3.4"/><circle cx="1377.8" cy="1083" r="3.4"/><circle cx="1381.8" cy="959" r="3.4"/><circle cx="1391.7" cy="940.4" r="3.4"/><circle cx="1372.4" cy="937.9" r="3.4"/><circle cx="1372.6" cy="956.7" r="3.4"/><circle cx="1396.2" cy="984.9" r="3.4"/><circle cx="1389.2" cy="1005.5" r="3.4"/><circle cx="1378.4" cy="1030.7" r="3.4"/><circle cx="1529.8" cy="1098.8" r="3.4"/><circle cx="1525.8" cy="927.9" r="3.4"/><circle cx="1530.3" cy="987.4" r="3.4"/><circle cx="1519.4" cy="986.6" r="3.4"/><circle cx="1520.6" cy="988.1" r="3.4"/><circle cx="1526.4" cy="1031.1" r="3.4"/><circle cx="1514.1" cy="1031.9" r="3.4"/><circle cx="1528.2" cy="1078.8" r="3.4"/><circle cx="1518.1" cy="1076.4" r="3.4"/><circle cx="1519.7" cy="1067.8" r="3.4"/><circle cx="1537" cy="987.6" r="3.4"/><circle cx="1528.5" cy="1007.4" r="3.4"/><circle cx="1519.1" cy="1045.9" r="3.4"/><circle cx="1531.5" cy="989.4" r="3.4"/><circle cx="1539.3" cy="1049.8" r="3.4"/><circle cx="1535.3" cy="1092.2" r="3.4"/><circle cx="1533.7" cy="954.9" r="3.4"/><circle cx="1522.1" cy="1095" r="3.4"/><circle cx="1528.3" cy="1012.4" r="3.4"/><circle cx="1528.2" cy="1061" r="3.4"/><circle cx="1515.3" cy="1063.1" r="3.4"/><circle cx="1531.4" cy="1002.3" r="3.4"/><circle cx="1526.6" cy="986.5" r="3.4"/><circle cx="1526.6" cy="1019.2" r="3.4"/><circle cx="1532.6" cy="999.5" r="3.4"/><circle cx="1514.3" cy="991.6" r="3.4"/><circle cx="1519.2" cy="932.6" r="3.4"/><circle cx="1539.7" cy="1008.4" r="3.4"/><circle cx="1520.4" cy="1016.4" r="3.4"/><circle cx="1519.2" cy="1017.7" r="3.4"/><circle cx="1514.5" cy="1048.2" r="3.4"/><circle cx="1520.8" cy="988.1" r="3.4"/><circle cx="1527.7" cy="990.9" r="3.4"/><circle cx="1513.1" cy="1016.1" r="3.4"/><circle cx="1520.8" cy="942.9" r="3.4"/><circle cx="1519.8" cy="1070.4" r="3.4"/><circle cx="1516.9" cy="962.3" r="3.4"/><circle cx="1533.3" cy="947.7" r="3.4"/><circle cx="1537.7" cy="950.6" r="3.4"/><circle cx="1537.6" cy="1022.3" r="3.4"/><circle cx="1524.5" cy="1063.6" r="3.4"/><circle cx="1514.4" cy="969.4" r="3.4"/><circle cx="1522.4" cy="1085.8" r="3.4"/><circle cx="1526.6" cy="936.4" r="3.4"/><circle cx="1523.2" cy="1095.1" r="3.4"/><circle cx="1532.5" cy="1007.4" r="3.4"/><circle cx="1532.4" cy="962.2" r="3.4"/><circle cx="1536.5" cy="966.2" r="3.4"/><circle cx="1525.2" cy="1043.6" r="3.4"/><circle cx="1519.4" cy="1073.7" r="3.4"/><circle cx="1537.4" cy="997.3" r="3.4"/><circle cx="1535.5" cy="1077.7" r="3.4"/><circle cx="1515.6" cy="996.6" r="3.4"/><circle cx="1519.2" cy="930.5" r="3.4"/><circle cx="1529.9" cy="937.1" r="3.4"/><circle cx="1534.5" cy="966.3" r="3.4"/><circle cx="1538" cy="960.4" r="3.4"/><circle cx="1513.1" cy="1048.4" r="3.4"/><circle cx="1518.5" cy="1084.1" r="3.4"/><circle cx="1523.9" cy="1047.9" r="3.4"/></g>
<g fill="#a4a6aa" fill-opacity="0.5" stroke="#f7f8fb" stroke-width="1.25" stroke-opacity="0.88"><circle cx="1691.4" cy="1150.4" r="3.8"/><circle cx="1691.1" cy="985.6" r="3.8"/><circle cx="1679.2" cy="1022.8" r="3.8"/><circle cx="1692.9" cy="1040.6" r="3.8"/><circle cx="1701.8" cy="1116.5" r="3.8"/><circle cx="1697.9" cy="1041.1" r="3.8"/><circle cx="1689.8" cy="1098.7" r="3.8"/><circle cx="1689" cy="1085.3" r="3.8"/><circle cx="1701.7" cy="1081.7" r="3.8"/><circle cx="1676.2" cy="1084.5" r="3.8"/><circle cx="1682.3" cy="1016.9" r="3.8"/><circle cx="1705.1" cy="1068.5" r="3.8"/><circle cx="1694.3" cy="1113.7" r="3.8"/><circle cx="1700.5" cy="1028.7" r="3.8"/><circle cx="1691.8" cy="1052.8" r="3.8"/><circle cx="1676.9" cy="1029" r="3.8"/><circle cx="1691.8" cy="1066.4" r="3.8"/><circle cx="1694.3" cy="1014.5" r="3.8"/><circle cx="1681.2" cy="1114.4" r="3.8"/><circle cx="1690.1" cy="1040.6" r="3.8"/><circle cx="1701.2" cy="997.2" r="3.8"/><circle cx="1681.2" cy="1121.2" r="3.8"/><circle cx="1677.9" cy="1090.7" r="3.8"/><circle cx="1678.5" cy="1073.9" r="3.8"/><circle cx="1696.3" cy="1074.4" r="3.8"/><circle cx="1703.1" cy="1041.3" r="3.8"/><circle cx="1679.8" cy="1046.3" r="3.8"/><circle cx="1701" cy="1081.5" r="3.8"/><circle cx="1682.8" cy="1088.7" r="3.8"/><circle cx="1691.8" cy="1089.3" r="3.8"/><circle cx="1699.1" cy="1062.5" r="3.8"/><circle cx="1678.8" cy="1037.3" r="3.8"/><circle cx="1690" cy="1047.5" r="3.8"/><circle cx="1700.7" cy="1095.9" r="3.8"/><circle cx="1687.1" cy="1108.1" r="3.8"/><circle cx="1700.1" cy="1041.9" r="3.8"/><circle cx="1689.3" cy="1036.9" r="3.8"/><circle cx="1702.3" cy="1101" r="3.8"/><circle cx="1687.7" cy="1081.5" r="3.8"/><circle cx="1700.4" cy="1080.5" r="3.8"/><circle cx="1679.9" cy="1005.8" r="3.8"/><circle cx="1685.6" cy="1040.7" r="3.8"/><circle cx="1679.8" cy="1035.5" r="3.8"/><circle cx="1687.6" cy="1062.3" r="3.8"/><circle cx="1688.6" cy="992" r="3.8"/><circle cx="1684" cy="1101.9" r="3.8"/><circle cx="1688.1" cy="1065.8" r="3.8"/><circle cx="1696.4" cy="1070.8" r="3.8"/><circle cx="1692.8" cy="1010.6" r="3.8"/><circle cx="1682.5" cy="1053.6" r="3.8"/><circle cx="1696.1" cy="1104.2" r="3.8"/><circle cx="1695.6" cy="996.2" r="3.8"/><circle cx="1688.2" cy="1066" r="3.8"/><circle cx="1689.5" cy="1080.6" r="3.8"/><circle cx="1680.9" cy="1028.9" r="3.8"/><circle cx="1700.5" cy="1084.9" r="3.8"/><circle cx="1686.2" cy="1042.3" r="3.8"/><circle cx="1685.3" cy="1100.3" r="3.8"/><circle cx="1824.8" cy="1072.9" r="3.8"/><circle cx="1824" cy="916.3" r="3.8"/><circle cx="1844.5" cy="943.7" r="3.8"/><circle cx="1842.4" cy="973.2" r="3.8"/><circle cx="1824.8" cy="988.2" r="3.8"/><circle cx="1827.3" cy="980" r="3.8"/><circle cx="1817.8" cy="986.1" r="3.8"/><circle cx="1820.6" cy="970.8" r="3.8"/><circle cx="1817" cy="987.4" r="3.8"/><circle cx="1835.2" cy="994.5" r="3.8"/><circle cx="1835.6" cy="939.4" r="3.8"/><circle cx="1821.4" cy="993" r="3.8"/><circle cx="1843.1" cy="968" r="3.8"/><circle cx="1832.1" cy="941.9" r="3.8"/><circle cx="1835.7" cy="985.3" r="3.8"/><circle cx="1836.4" cy="1033.3" r="3.8"/><circle cx="1825.3" cy="922.5" r="3.8"/><circle cx="1838.6" cy="1051.7" r="3.8"/><circle cx="1829.7" cy="967.9" r="3.8"/><circle cx="1832.4" cy="975.2" r="3.8"/><circle cx="1821.5" cy="947.9" r="3.8"/><circle cx="1825.5" cy="942.1" r="3.8"/><circle cx="1831.1" cy="983.8" r="3.8"/><circle cx="1839.6" cy="987.2" r="3.8"/><circle cx="1831.3" cy="938.2" r="3.8"/><circle cx="1834.3" cy="949.4" r="3.8"/><circle cx="1840.7" cy="976.4" r="3.8"/><circle cx="1829.4" cy="986.6" r="3.8"/><circle cx="1819.4" cy="1019.7" r="3.8"/><circle cx="1834" cy="1028.7" r="3.8"/><circle cx="1844.7" cy="1017.5" r="3.8"/><circle cx="1820.8" cy="1027.8" r="3.8"/><circle cx="1831.5" cy="933.6" r="3.8"/><circle cx="1837.2" cy="956.6" r="3.8"/><circle cx="1832.2" cy="1020.4" r="3.8"/><circle cx="1820" cy="988.2" r="3.8"/><circle cx="1832.9" cy="978.1" r="3.8"/><circle cx="1820" cy="1004.9" r="3.8"/><circle cx="1819" cy="990.2" r="3.8"/><circle cx="1827.4" cy="966.3" r="3.8"/><circle cx="1822.4" cy="961.9" r="3.8"/><circle cx="1832.6" cy="991.3" r="3.8"/><circle cx="1844.8" cy="1016.3" r="3.8"/><circle cx="1826" cy="1039.1" r="3.8"/><circle cx="1848.1" cy="979.2" r="3.8"/><circle cx="1827.7" cy="969.7" r="3.8"/><circle cx="1841.6" cy="936.2" r="3.8"/><circle cx="1833.1" cy="1023.4" r="3.8"/><circle cx="1838.8" cy="1041.5" r="3.8"/><circle cx="1843.6" cy="954.4" r="3.8"/><circle cx="1843.3" cy="988.3" r="3.8"/><circle cx="1821.2" cy="980.8" r="3.8"/><circle cx="1844.5" cy="955.8" r="3.8"/><circle cx="1820.6" cy="963.7" r="3.8"/><circle cx="1839.6" cy="1000.2" r="3.8"/><circle cx="1821.4" cy="923.2" r="3.8"/><circle cx="1826.7" cy="945.9" r="3.8"/><circle cx="1823" cy="1025.7" r="3.8"/><circle cx="1835.5" cy="1091" r="3.8"/><circle cx="1975.6" cy="1111.6" r="3.8"/><circle cx="1974.7" cy="905.5" r="3.8"/><circle cx="1976.3" cy="1037.5" r="3.8"/><circle cx="1964.2" cy="1051.1" r="3.8"/><circle cx="1961.9" cy="980.4" r="3.8"/><circle cx="1989.2" cy="1012.8" r="3.8"/><circle cx="1980.3" cy="1027.5" r="3.8"/><circle cx="1977.1" cy="923.9" r="3.8"/><circle cx="1975.5" cy="1087.1" r="3.8"/><circle cx="1966.4" cy="957.9" r="3.8"/><circle cx="1965.4" cy="931.5" r="3.8"/><circle cx="1976.2" cy="1068" r="3.8"/><circle cx="1964.9" cy="1090.8" r="3.8"/><circle cx="1960.2" cy="958.4" r="3.8"/><circle cx="1969.5" cy="962.6" r="3.8"/><circle cx="1977" cy="996.7" r="3.8"/><circle cx="1987.4" cy="962.7" r="3.8"/><circle cx="1973.4" cy="1085.3" r="3.8"/><circle cx="1968.4" cy="1022.3" r="3.8"/><circle cx="1987.8" cy="1026.7" r="3.8"/><circle cx="1969" cy="1048.8" r="3.8"/><circle cx="1973.7" cy="1023.1" r="3.8"/><circle cx="1973.6" cy="975.8" r="3.8"/><circle cx="1963.7" cy="916.6" r="3.8"/><circle cx="1962" cy="1012.3" r="3.8"/><circle cx="1961" cy="939.1" r="3.8"/><circle cx="1983.7" cy="988.8" r="3.8"/><circle cx="1971.7" cy="1073.9" r="3.8"/><circle cx="1979.9" cy="1016.8" r="3.8"/><circle cx="1972.6" cy="994.2" r="3.8"/><circle cx="1974.2" cy="994.5" r="3.8"/><circle cx="1985.1" cy="1025.7" r="3.8"/><circle cx="1971.3" cy="1034.6" r="3.8"/><circle cx="1964.1" cy="929.6" r="3.8"/><circle cx="1979.7" cy="1000.1" r="3.8"/><circle cx="1963.8" cy="1071.9" r="3.8"/><circle cx="1974.8" cy="1026.8" r="3.8"/><circle cx="1970.4" cy="955.5" r="3.8"/><circle cx="1972.1" cy="959.5" r="3.8"/><circle cx="1981" cy="954.2" r="3.8"/><circle cx="1982.1" cy="1066.8" r="3.8"/><circle cx="1989.1" cy="988.1" r="3.8"/><circle cx="1982.4" cy="951.3" r="3.8"/><circle cx="1984.1" cy="964.4" r="3.8"/><circle cx="1988.3" cy="986.2" r="3.8"/><circle cx="1970.6" cy="986.4" r="3.8"/><circle cx="1969.4" cy="974.8" r="3.8"/><circle cx="1960.4" cy="955.3" r="3.8"/><circle cx="1972.9" cy="1021.3" r="3.8"/><circle cx="1963.8" cy="1063.6" r="3.8"/><circle cx="1965.6" cy="964.8" r="3.8"/><circle cx="1971.6" cy="966" r="3.8"/><circle cx="1972" cy="1047.2" r="3.8"/><circle cx="1980.7" cy="922.8" r="3.8"/><circle cx="1973.2" cy="963.7" r="3.8"/><circle cx="1980.8" cy="973.7" r="3.8"/><circle cx="1959.1" cy="999.3" r="3.8"/><circle cx="1981.3" cy="978.5" r="3.8"/></g>
<path d="M1171.2,892V1208.9H1596.3" fill="none" stroke="#231f20" stroke-width="1.8"/>
<path d="M1620,892V1208.9H2045.7" fill="none" stroke="#231f20" stroke-width="1.8"/>
<text x="1158.6" y="913" font-size="27.2" text-anchor="end">5</text>
<text x="1158.6" y="1012.6" font-size="27.2" text-anchor="end">4</text>
<text x="1158.6" y="1111" font-size="27.2" text-anchor="end">3</text>
<text x="1158.6" y="1210.6" font-size="27.2" text-anchor="end">2</text>
<text x="1121.6" y="1050.6" font-size="30.6" text-anchor="middle" transform="rotate(-90 1121.6 1050.6)">AV Rate  (Hz)</text>
<text x="1241.7" y="1243.2" font-size="26.7" text-anchor="middle">NREM</text>
<text x="1383.8" y="1243.2" font-size="26.7" text-anchor="middle">REM</text>
<text x="1522.4" y="1243.2" font-size="26.7" text-anchor="middle">Wake</text>
<text x="1690.7" y="1243.2" font-size="26.7" text-anchor="middle">NREM</text>
<text x="1832.5" y="1243.2" font-size="26.7" text-anchor="middle">REM</text>
<text x="1970.8" y="1243.2" font-size="26.7" text-anchor="middle">Wake</text>
<text x="1378.8" y="1282.3" font-size="30" text-anchor="middle">State</text>
<text x="1827.8" y="1282.3" font-size="30" text-anchor="middle">State</text>
<text x="1935" y="1182.6" font-size="30.4" text-anchor="middle">n = 8 animals</text>
</g>
<g id="panel-fg">
<text x="290.8" y="1415" font-size="45">F</text>
<text x="518.4" y="1455.6" font-size="30.3" text-anchor="middle">n = 8 animals</text>
<rect x="395.4" y="1471.6" width="425" height="310.6" fill="#fbfcf6"/>
<rect x="820.4" y="1471.6" width="424.8" height="310.6" fill="#a8abaf"/>
<line x1="430.5" y1="1587" x2="430.5" y2="1671.5" stroke="#3a3a3c" stroke-width="1.1"/>
<line x1="430.5" y1="1740.5" x2="430.5" y2="1780" stroke="#3a3a3c" stroke-width="1.1"/>
<line x1="416.7" y1="1587" x2="445.1" y2="1587" stroke="#3a3a3c" stroke-width="1.1"/>
<line x1="416.7" y1="1780" x2="445.1" y2="1780" stroke="#3a3a3c" stroke-width="1.1"/>
<rect x="401.8" y="1671.5" width="57.4" height="69" fill="#f2cfbb" stroke="#5a5052" stroke-width="1"/>
<line x1="401.8" y1="1715.1" x2="459.2" y2="1715.1" stroke="#3a3032" stroke-width="1.1"/>
<line x1="501.4" y1="1627.3" x2="501.4" y2="1671.5" stroke="#3a3a3c" stroke-width="1.1"/>
<line x1="501.4" y1="1747.7" x2="501.4" y2="1778.1" stroke="#3a3a3c" stroke-width="1.1"/>
<line x1="487.1" y1="1627.3" x2="515.5" y2="1627.3" stroke="#3a3a3c" stroke-width="1.1"/>
<line x1="487.1" y1="1778.1" x2="515.5" y2="1778.1" stroke="#3a3a3c" stroke-width="1.1"/>
<rect x="473" y="1671.5" width="56.9" height="76.2" fill="#efbaa2" stroke="#5a5052" stroke-width="1"/>
<line x1="473" y1="1718.7" x2="529.9" y2="1718.7" stroke="#3a3032" stroke-width="1.1"/>
<line x1="572.3" y1="1590.9" x2="572.3" y2="1663.2" stroke="#3a3a3c" stroke-width="1.1"/>
<line x1="572.3" y1="1752.7" x2="572.3" y2="1781.4" stroke="#3a3a3c" stroke-width="1.1"/>
<line x1="557.5" y1="1590.9" x2="586.5" y2="1590.9" stroke="#3a3a3c" stroke-width="1.1"/>
<line x1="557.5" y1="1781.4" x2="586.5" y2="1781.4" stroke="#3a3a3c" stroke-width="1.1"/>
<rect x="543.7" y="1663.2" width="57.2" height="89.5" fill="#eca98e" stroke="#5a5052" stroke-width="1"/>
<line x1="543.7" y1="1714" x2="600.8" y2="1714" stroke="#3a3032" stroke-width="1.1"/>
<line x1="642.9" y1="1616.6" x2="642.9" y2="1673.4" stroke="#3a3a3c" stroke-width="1.1"/>
<line x1="642.9" y1="1731.4" x2="642.9" y2="1770.6" stroke="#3a3a3c" stroke-width="1.1"/>
<line x1="628.4" y1="1616.6" x2="657.2" y2="1616.6" stroke="#3a3a3c" stroke-width="1.1"/>
<line x1="628.4" y1="1770.6" x2="657.2" y2="1770.6" stroke="#3a3a3c" stroke-width="1.1"/>
<rect x="614.4" y="1673.4" width="57.2" height="58" fill="#e9977c" stroke="#5a5052" stroke-width="1"/>
<line x1="614.4" y1="1701.6" x2="671.5" y2="1701.6" stroke="#3a3032" stroke-width="1.1"/>
<line x1="713.9" y1="1584" x2="713.9" y2="1671.5" stroke="#3a3a3c" stroke-width="1.1"/>
<line x1="713.9" y1="1738.3" x2="713.9" y2="1775.3" stroke="#3a3a3c" stroke-width="1.1"/>
<line x1="699.1" y1="1584" x2="727.8" y2="1584" stroke="#3a3a3c" stroke-width="1.1"/>
<line x1="699.1" y1="1775.3" x2="727.8" y2="1775.3" stroke="#3a3a3c" stroke-width="1.1"/>
<rect x="685.3" y="1671.5" width="57.2" height="66.8" fill="#e5836e" stroke="#5a5052" stroke-width="1"/>
<line x1="685.3" y1="1711.3" x2="742.5" y2="1711.3" stroke="#3a3032" stroke-width="1.1"/>
<line x1="784.7" y1="1557.8" x2="784.7" y2="1670.4" stroke="#3a3a3c" stroke-width="1.1"/>
<line x1="784.7" y1="1748.3" x2="784.7" y2="1781.4" stroke="#3a3a3c" stroke-width="1.1"/>
<line x1="770.1" y1="1557.8" x2="799.1" y2="1557.8" stroke="#3a3a3c" stroke-width="1.1"/>
<line x1="770.1" y1="1781.4" x2="799.1" y2="1781.4" stroke="#3a3a3c" stroke-width="1.1"/>
<rect x="756.3" y="1670.4" width="56.9" height="77.9" fill="#dc6573" stroke="#5a5052" stroke-width="1"/>
<line x1="756.3" y1="1719.3" x2="813.2" y2="1719.3" stroke="#3a3032" stroke-width="1.1"/>
<line x1="855.5" y1="1664.1" x2="855.5" y2="1688.9" stroke="#3a3a3c" stroke-width="1.1"/>
<line x1="855.5" y1="1739.2" x2="855.5" y2="1769.5" stroke="#3a3a3c" stroke-width="1.1"/>
<line x1="840.7" y1="1664.1" x2="870.3" y2="1664.1" stroke="#3a3a3c" stroke-width="1.1"/>
<line x1="840.7" y1="1769.5" x2="870.3" y2="1769.5" stroke="#3a3a3c" stroke-width="1.1"/>
<rect x="826.9" y="1688.9" width="57.2" height="50.3" fill="#c53c6f" stroke="#5a5052" stroke-width="1"/>
<line x1="826.9" y1="1714.3" x2="884.1" y2="1714.3" stroke="#3a3032" stroke-width="1.1"/>
<line x1="926.1" y1="1533.5" x2="926.1" y2="1656.6" stroke="#3a3a3c" stroke-width="1.1"/>
<line x1="926.1" y1="1753.2" x2="926.1" y2="1777" stroke="#3a3a3c" stroke-width="1.1"/>
<line x1="912" y1="1533.5" x2="940.7" y2="1533.5" stroke="#3a3a3c" stroke-width="1.1"/>
<line x1="912" y1="1777" x2="940.7" y2="1777" stroke="#3a3a3c" stroke-width="1.1"/>
<rect x="897.3" y="1656.6" width="57.4" height="96.6" fill="#a83b78" stroke="#5a5052" stroke-width="1"/>
<line x1="897.3" y1="1738.3" x2="954.8" y2="1738.3" stroke="#3a3032" stroke-width="1.1"/>
<line x1="997" y1="1484" x2="997" y2="1642.5" stroke="#3a3a3c" stroke-width="1.1"/>
<line x1="997" y1="1760.4" x2="997" y2="1777" stroke="#3a3a3c" stroke-width="1.1"/>
<line x1="982.4" y1="1484" x2="1011.9" y2="1484" stroke="#3a3a3c" stroke-width="1.1"/>
<line x1="982.4" y1="1777" x2="1011.9" y2="1777" stroke="#3a3a3c" stroke-width="1.1"/>
<rect x="968.3" y="1642.5" width="57.4" height="117.9" fill="#813767" stroke="#5a5052" stroke-width="1"/>
<line x1="968.3" y1="1724.8" x2="1025.7" y2="1724.8" stroke="#3a3032" stroke-width="1.1"/>
<line x1="1068" y1="1552.2" x2="1068" y2="1662.7" stroke="#3a3a3c" stroke-width="1.1"/>
<line x1="1068" y1="1751.3" x2="1068" y2="1780.8" stroke="#3a3a3c" stroke-width="1.1"/>
<line x1="1053.3" y1="1552.2" x2="1082.9" y2="1552.2" stroke="#3a3a3c" stroke-width="1.1"/>
<line x1="1053.3" y1="1780.8" x2="1082.9" y2="1780.8" stroke="#3a3a3c" stroke-width="1.1"/>
<rect x="1039.3" y="1662.7" width="57.4" height="88.6" fill="#613059" stroke="#5a5052" stroke-width="1"/>
<line x1="1039.3" y1="1712.9" x2="1096.7" y2="1712.9" stroke="#3a3032" stroke-width="1.1"/>
<line x1="1138.9" y1="1610.5" x2="1138.9" y2="1682.6" stroke="#3a3a3c" stroke-width="1.1"/>
<line x1="1138.9" y1="1752.7" x2="1138.9" y2="1777.5" stroke="#3a3a3c" stroke-width="1.1"/>
<line x1="1124.3" y1="1610.5" x2="1153.6" y2="1610.5" stroke="#3a3a3c" stroke-width="1.1"/>
<line x1="1124.3" y1="1777.5" x2="1153.6" y2="1777.5" stroke="#3a3a3c" stroke-width="1.1"/>
<rect x="1110.2" y="1682.6" width="57.4" height="70.1" fill="#45254f" stroke="#3a3040" stroke-width="1"/>
<line x1="1110.2" y1="1721.2" x2="1167.7" y2="1721.2" stroke="#4a3a55" stroke-width="1.1"/>
<line x1="1209.8" y1="1547.5" x2="1209.8" y2="1624.3" stroke="#3a3a3c" stroke-width="1.1"/>
<line x1="1209.8" y1="1751.9" x2="1209.8" y2="1778.6" stroke="#3a3a3c" stroke-width="1.1"/>
<line x1="1195.3" y1="1547.5" x2="1223.7" y2="1547.5" stroke="#3a3a3c" stroke-width="1.1"/>
<line x1="1195.3" y1="1778.6" x2="1223.7" y2="1778.6" stroke="#3a3a3c" stroke-width="1.1"/>
<rect x="1181.2" y="1624.3" width="57.2" height="127.6" fill="#27113c" stroke="#3a3040" stroke-width="1"/>
<line x1="1181.2" y1="1709.3" x2="1238.3" y2="1709.3" stroke="#4a3a55" stroke-width="1.1"/>
<g fill="#7f858c" fill-opacity="0.5" stroke="#ffffff" stroke-width="0.9" stroke-opacity="0.85"><circle cx="436.1" cy="1587" r="5.2"/><circle cx="423.5" cy="1780" r="5.2"/><circle cx="433.8" cy="1714.3" r="5.2"/><circle cx="428.3" cy="1722.4" r="5.2"/><circle cx="440.4" cy="1651.3" r="5.2"/><circle cx="422.3" cy="1758.7" r="5.2"/><circle cx="422.2" cy="1615.3" r="5.2"/><circle cx="423.9" cy="1652.8" r="5.2"/><circle cx="428.8" cy="1727.1" r="5.2"/><circle cx="439.6" cy="1626.8" r="5.2"/><circle cx="433.3" cy="1757.7" r="5.2"/><circle cx="435.2" cy="1715.1" r="5.2"/><circle cx="422.9" cy="1745.8" r="5.2"/><circle cx="425.5" cy="1698" r="5.2"/><circle cx="429.6" cy="1727.5" r="5.2"/><circle cx="434.5" cy="1679.7" r="5.2"/><circle cx="437" cy="1693.2" r="5.2"/><circle cx="433.5" cy="1688.3" r="5.2"/><circle cx="427.6" cy="1726.1" r="5.2"/><circle cx="425.6" cy="1683.6" r="5.2"/><circle cx="430.4" cy="1727.6" r="5.2"/><circle cx="427.1" cy="1653.6" r="5.2"/><circle cx="437.2" cy="1689" r="5.2"/><circle cx="439.8" cy="1620.2" r="5.2"/><circle cx="438.1" cy="1672" r="5.2"/><circle cx="424.4" cy="1713.9" r="5.2"/><circle cx="431" cy="1553.1" r="5.2"/><circle cx="503.6" cy="1627.3" r="5.2"/><circle cx="506.5" cy="1778.1" r="5.2"/><circle cx="511.5" cy="1767.8" r="5.2"/><circle cx="493.1" cy="1701.7" r="5.2"/><circle cx="506.9" cy="1714.6" r="5.2"/><circle cx="511.2" cy="1631.1" r="5.2"/><circle cx="500.4" cy="1651.9" r="5.2"/><circle cx="497.7" cy="1770.3" r="5.2"/><circle cx="504.3" cy="1664.2" r="5.2"/><circle cx="493.5" cy="1672" r="5.2"/><circle cx="509" cy="1766.9" r="5.2"/><circle cx="502.7" cy="1645.5" r="5.2"/><circle cx="506.2" cy="1676.8" r="5.2"/><circle cx="508.5" cy="1688.3" r="5.2"/><circle cx="493.3" cy="1729.2" r="5.2"/><circle cx="496.7" cy="1693.8" r="5.2"/><circle cx="501.3" cy="1688" r="5.2"/><circle cx="505.1" cy="1689.2" r="5.2"/><circle cx="500.3" cy="1671.8" r="5.2"/><circle cx="498.5" cy="1699.2" r="5.2"/><circle cx="493.4" cy="1764.1" r="5.2"/><circle cx="501.5" cy="1716.4" r="5.2"/><circle cx="511.7" cy="1743.9" r="5.2"/><circle cx="493.5" cy="1669.8" r="5.2"/><circle cx="504.9" cy="1688.2" r="5.2"/><circle cx="497" cy="1693" r="5.2"/><circle cx="497.3" cy="1492.6" r="5.2"/><circle cx="502.8" cy="1521.9" r="5.2"/><circle cx="569" cy="1590.9" r="5.2"/><circle cx="568.4" cy="1781.4" r="5.2"/><circle cx="573.2" cy="1760.5" r="5.2"/><circle cx="578.9" cy="1733.7" r="5.2"/><circle cx="569" cy="1733.8" r="5.2"/><circle cx="574.4" cy="1715.9" r="5.2"/><circle cx="583.6" cy="1714.7" r="5.2"/><circle cx="573.8" cy="1630" r="5.2"/><circle cx="569.2" cy="1634.1" r="5.2"/><circle cx="580.5" cy="1682.1" r="5.2"/><circle cx="581.9" cy="1680.7" r="5.2"/><circle cx="578.7" cy="1628.4" r="5.2"/><circle cx="570.3" cy="1742.2" r="5.2"/><circle cx="573.8" cy="1740.1" r="5.2"/><circle cx="570.2" cy="1761.7" r="5.2"/><circle cx="582.2" cy="1610.5" r="5.2"/><circle cx="564" cy="1705.8" r="5.2"/><circle cx="581.2" cy="1675.1" r="5.2"/><circle cx="569" cy="1776.9" r="5.2"/><circle cx="566.7" cy="1697.6" r="5.2"/><circle cx="580.6" cy="1767.4" r="5.2"/><circle cx="579.6" cy="1703.2" r="5.2"/><circle cx="564.6" cy="1729.7" r="5.2"/><circle cx="569.7" cy="1754.1" r="5.2"/><circle cx="565.6" cy="1737.3" r="5.2"/><circle cx="578.7" cy="1677.3" r="5.2"/><circle cx="572.1" cy="1510" r="5.2"/><circle cx="637.7" cy="1616.6" r="5.2"/><circle cx="635.3" cy="1770.6" r="5.2"/><circle cx="650.2" cy="1706" r="5.2"/><circle cx="654" cy="1679.3" r="5.2"/><circle cx="643.1" cy="1720.3" r="5.2"/><circle cx="651.9" cy="1689.1" r="5.2"/><circle cx="648.8" cy="1719.8" r="5.2"/><circle cx="650.2" cy="1670.8" r="5.2"/><circle cx="646.2" cy="1729.1" r="5.2"/><circle cx="644.6" cy="1688.7" r="5.2"/><circle cx="647" cy="1648.2" r="5.2"/><circle cx="650.4" cy="1767.2" r="5.2"/><circle cx="653.4" cy="1677.2" r="5.2"/><circle cx="652.2" cy="1696.5" r="5.2"/><circle cx="649.1" cy="1680.9" r="5.2"/><circle cx="653" cy="1752" r="5.2"/><circle cx="635" cy="1673.9" r="5.2"/><circle cx="634.7" cy="1752.7" r="5.2"/><circle cx="639.5" cy="1729.4" r="5.2"/><circle cx="634.6" cy="1682" r="5.2"/><circle cx="645.6" cy="1675.3" r="5.2"/><circle cx="638.4" cy="1663.3" r="5.2"/><circle cx="652" cy="1652.7" r="5.2"/><circle cx="636.4" cy="1722.9" r="5.2"/><circle cx="649.9" cy="1737.3" r="5.2"/><circle cx="635.7" cy="1761.3" r="5.2"/><circle cx="636.2" cy="1483.8" r="5.2"/><circle cx="638.9" cy="1524.1" r="5.2"/><circle cx="637.6" cy="1584.5" r="5.2"/><circle cx="723.9" cy="1584" r="5.2"/><circle cx="707.8" cy="1775.3" r="5.2"/><circle cx="721.1" cy="1705.9" r="5.2"/><circle cx="709.7" cy="1677.1" r="5.2"/><circle cx="721.9" cy="1742.5" r="5.2"/><circle cx="712.1" cy="1771.1" r="5.2"/><circle cx="716.2" cy="1699.4" r="5.2"/><circle cx="721.7" cy="1745.3" r="5.2"/><circle cx="707.2" cy="1731.9" r="5.2"/><circle cx="713" cy="1681.4" r="5.2"/><circle cx="723.5" cy="1681.1" r="5.2"/><circle cx="710.7" cy="1677.9" r="5.2"/><circle cx="716.8" cy="1595" r="5.2"/><circle cx="723.6" cy="1753.4" r="5.2"/><circle cx="719.5" cy="1721.7" r="5.2"/><circle cx="723.7" cy="1744.8" r="5.2"/><circle cx="716.5" cy="1769.1" r="5.2"/><circle cx="718.8" cy="1691" r="5.2"/><circle cx="706.7" cy="1680.4" r="5.2"/><circle cx="724.3" cy="1763" r="5.2"/><circle cx="713.8" cy="1607" r="5.2"/><circle cx="716.1" cy="1760.8" r="5.2"/><circle cx="716" cy="1732.9" r="5.2"/><circle cx="711.7" cy="1764.8" r="5.2"/><circle cx="724.6" cy="1754.5" r="5.2"/><circle cx="718.5" cy="1728.2" r="5.2"/><circle cx="718.5" cy="1518" r="5.2"/><circle cx="788.7" cy="1557.8" r="5.2"/><circle cx="794.6" cy="1781.4" r="5.2"/><circle cx="792.9" cy="1633.8" r="5.2"/><circle cx="778.4" cy="1758.2" r="5.2"/><circle cx="785.5" cy="1733.4" r="5.2"/><circle cx="787.2" cy="1701.9" r="5.2"/><circle cx="783.1" cy="1569" r="5.2"/><circle cx="783.6" cy="1617.7" r="5.2"/><circle cx="795.4" cy="1743.9" r="5.2"/><circle cx="779.4" cy="1688.4" r="5.2"/><circle cx="793.2" cy="1769.9" r="5.2"/><circle cx="791.9" cy="1778.8" r="5.2"/><circle cx="779.9" cy="1725.4" r="5.2"/><circle cx="783.6" cy="1764.6" r="5.2"/><circle cx="786.7" cy="1734.4" r="5.2"/><circle cx="794.3" cy="1710.5" r="5.2"/><circle cx="776.2" cy="1699.8" r="5.2"/><circle cx="794.1" cy="1759.9" r="5.2"/><circle cx="777.4" cy="1674.2" r="5.2"/><circle cx="782.2" cy="1620.4" r="5.2"/><circle cx="776.3" cy="1750" r="5.2"/><circle cx="795.6" cy="1693.4" r="5.2"/><circle cx="795.5" cy="1685" r="5.2"/><circle cx="784.9" cy="1751.2" r="5.2"/><circle cx="790.4" cy="1722.2" r="5.2"/><circle cx="777.2" cy="1677.5" r="5.2"/><circle cx="791.6" cy="1566.9" r="5.2"/></g>
<g fill="#6d7076" fill-opacity="0.42" stroke="#ffffff" stroke-width="1.3" stroke-opacity="0.9"><circle cx="858.9" cy="1664.1" r="5.2"/><circle cx="865.7" cy="1769.5" r="5.2"/><circle cx="854" cy="1701.1" r="5.2"/><circle cx="860" cy="1741.4" r="5.2"/><circle cx="857.9" cy="1742.4" r="5.2"/><circle cx="862.9" cy="1705" r="5.2"/><circle cx="851.4" cy="1750.8" r="5.2"/><circle cx="847.8" cy="1750.1" r="5.2"/><circle cx="863.2" cy="1705.2" r="5.2"/><circle cx="864.8" cy="1699.3" r="5.2"/><circle cx="847.9" cy="1686.9" r="5.2"/><circle cx="864.6" cy="1696.6" r="5.2"/><circle cx="856.6" cy="1681" r="5.2"/><circle cx="848.5" cy="1737" r="5.2"/><circle cx="852" cy="1741.3" r="5.2"/><circle cx="850.4" cy="1722.8" r="5.2"/><circle cx="857.5" cy="1696.9" r="5.2"/><circle cx="866.9" cy="1683.2" r="5.2"/><circle cx="854.9" cy="1730.4" r="5.2"/><circle cx="860.8" cy="1733.7" r="5.2"/><circle cx="853" cy="1689.3" r="5.2"/><circle cx="849.7" cy="1694.3" r="5.2"/><circle cx="866.6" cy="1722.8" r="5.2"/><circle cx="864.7" cy="1747.9" r="5.2"/><circle cx="849" cy="1751.4" r="5.2"/><circle cx="852" cy="1733.9" r="5.2"/><circle cx="857.9" cy="1687.8" r="5.2"/><circle cx="861.9" cy="1740.1" r="5.2"/><circle cx="853.2" cy="1697.7" r="5.2"/><circle cx="848" cy="1767.3" r="5.2"/><circle cx="856.8" cy="1577.9" r="5.2"/><circle cx="855.1" cy="1608.6" r="5.2"/><circle cx="931.3" cy="1533.5" r="5.2"/><circle cx="917.9" cy="1777" r="5.2"/><circle cx="919.2" cy="1706.3" r="5.2"/><circle cx="932" cy="1756.3" r="5.2"/><circle cx="927.8" cy="1757.3" r="5.2"/><circle cx="931.1" cy="1682.2" r="5.2"/><circle cx="919.8" cy="1711.6" r="5.2"/><circle cx="921.5" cy="1754.6" r="5.2"/><circle cx="933.2" cy="1747.3" r="5.2"/><circle cx="925.3" cy="1660.3" r="5.2"/><circle cx="927.4" cy="1715.7" r="5.2"/><circle cx="932.9" cy="1739.6" r="5.2"/><circle cx="919.2" cy="1643.6" r="5.2"/><circle cx="919.9" cy="1771.2" r="5.2"/><circle cx="927.6" cy="1746" r="5.2"/><circle cx="930.6" cy="1667.3" r="5.2"/><circle cx="924.2" cy="1763.4" r="5.2"/><circle cx="927.9" cy="1738.6" r="5.2"/><circle cx="932.6" cy="1589.4" r="5.2"/><circle cx="934.9" cy="1758.4" r="5.2"/><circle cx="922.6" cy="1600.1" r="5.2"/><circle cx="932.2" cy="1720.6" r="5.2"/><circle cx="921.9" cy="1621.9" r="5.2"/><circle cx="927.1" cy="1578" r="5.2"/><circle cx="932.3" cy="1742.4" r="5.2"/><circle cx="924" cy="1747.3" r="5.2"/><circle cx="929.9" cy="1652.7" r="5.2"/><circle cx="923" cy="1763.7" r="5.2"/><circle cx="930" cy="1650" r="5.2"/><circle cx="927.4" cy="1761.2" r="5.2"/><circle cx="995.2" cy="1484" r="5.2"/><circle cx="991.3" cy="1777" r="5.2"/><circle cx="993.9" cy="1765.5" r="5.2"/><circle cx="1000.5" cy="1633.6" r="5.2"/><circle cx="993.2" cy="1684.6" r="5.2"/><circle cx="993.8" cy="1753.7" r="5.2"/><circle cx="1002.3" cy="1589.5" r="5.2"/><circle cx="1004.6" cy="1706.7" r="5.2"/><circle cx="994.3" cy="1726.3" r="5.2"/><circle cx="1007.3" cy="1565.2" r="5.2"/><circle cx="1004" cy="1749.4" r="5.2"/><circle cx="995.5" cy="1660.3" r="5.2"/><circle cx="997.9" cy="1737.1" r="5.2"/><circle cx="991.2" cy="1678.1" r="5.2"/><circle cx="1004.2" cy="1629.4" r="5.2"/><circle cx="1006.8" cy="1537" r="5.2"/><circle cx="1004.4" cy="1764.5" r="5.2"/><circle cx="990.4" cy="1667.7" r="5.2"/><circle cx="1007.4" cy="1725.6" r="5.2"/><circle cx="995.5" cy="1517.5" r="5.2"/><circle cx="1000.4" cy="1576.1" r="5.2"/><circle cx="994.4" cy="1648.8" r="5.2"/><circle cx="995.3" cy="1681.2" r="5.2"/><circle cx="994.6" cy="1654.1" r="5.2"/><circle cx="988.7" cy="1641.7" r="5.2"/><circle cx="999.7" cy="1729.3" r="5.2"/><circle cx="998.4" cy="1678.7" r="5.2"/><circle cx="1001.6" cy="1723.5" r="5.2"/><circle cx="996.3" cy="1702" r="5.2"/><circle cx="1008.1" cy="1596.4" r="5.2"/><circle cx="992" cy="1526" r="5.2"/><circle cx="999.5" cy="1541.7" r="5.2"/><circle cx="1072.3" cy="1552.2" r="5.2"/><circle cx="1059.9" cy="1780.8" r="5.2"/><circle cx="1060.4" cy="1698.3" r="5.2"/><circle cx="1068.7" cy="1749" r="5.2"/><circle cx="1075.4" cy="1724.2" r="5.2"/><circle cx="1068.9" cy="1681.8" r="5.2"/><circle cx="1078.7" cy="1648.4" r="5.2"/><circle cx="1063.4" cy="1728.4" r="5.2"/><circle cx="1069.1" cy="1685.4" r="5.2"/><circle cx="1078.7" cy="1652.4" r="5.2"/><circle cx="1076.8" cy="1636.9" r="5.2"/><circle cx="1061.6" cy="1738.5" r="5.2"/><circle cx="1068.7" cy="1759.9" r="5.2"/><circle cx="1064.7" cy="1737.3" r="5.2"/><circle cx="1065.9" cy="1716.6" r="5.2"/><circle cx="1078.4" cy="1676.8" r="5.2"/><circle cx="1070.6" cy="1681.2" r="5.2"/><circle cx="1068.7" cy="1711.1" r="5.2"/><circle cx="1065.8" cy="1738.1" r="5.2"/><circle cx="1076.4" cy="1612.1" r="5.2"/><circle cx="1069.8" cy="1704.1" r="5.2"/><circle cx="1078.2" cy="1729.2" r="5.2"/><circle cx="1075.6" cy="1698" r="5.2"/><circle cx="1078" cy="1728.7" r="5.2"/><circle cx="1061" cy="1765.4" r="5.2"/><circle cx="1068.3" cy="1679" r="5.2"/><circle cx="1075.8" cy="1760.7" r="5.2"/><circle cx="1068.3" cy="1753.3" r="5.2"/><circle cx="1077.9" cy="1732.7" r="5.2"/><circle cx="1068.4" cy="1748.5" r="5.2"/><circle cx="1074.6" cy="1572.4" r="5.2"/><circle cx="1141" cy="1610.5" r="5.2"/><circle cx="1134.2" cy="1777.5" r="5.2"/><circle cx="1144.3" cy="1668.6" r="5.2"/><circle cx="1149.3" cy="1708.7" r="5.2"/><circle cx="1132.4" cy="1622.6" r="5.2"/><circle cx="1137.8" cy="1716.5" r="5.2"/><circle cx="1147.3" cy="1750.9" r="5.2"/><circle cx="1142.5" cy="1756.2" r="5.2"/><circle cx="1142" cy="1744.1" r="5.2"/><circle cx="1140.3" cy="1687.7" r="5.2"/><circle cx="1130.7" cy="1688" r="5.2"/><circle cx="1143" cy="1752.7" r="5.2"/><circle cx="1141.7" cy="1702.2" r="5.2"/><circle cx="1146.8" cy="1760.3" r="5.2"/><circle cx="1142" cy="1672.4" r="5.2"/><circle cx="1142.6" cy="1682.6" r="5.2"/><circle cx="1142.8" cy="1624.7" r="5.2"/><circle cx="1134" cy="1648.3" r="5.2"/><circle cx="1139.2" cy="1687.9" r="5.2"/><circle cx="1145.8" cy="1754" r="5.2"/><circle cx="1133.4" cy="1739.4" r="5.2"/><circle cx="1147.5" cy="1710.4" r="5.2"/><circle cx="1148" cy="1767.7" r="5.2"/><circle cx="1136.7" cy="1776.5" r="5.2"/><circle cx="1136.7" cy="1717" r="5.2"/><circle cx="1149.3" cy="1746.9" r="5.2"/><circle cx="1135.7" cy="1750.8" r="5.2"/><circle cx="1144.3" cy="1674.7" r="5.2"/><circle cx="1144.4" cy="1660.4" r="5.2"/><circle cx="1150.1" cy="1664.9" r="5.2"/><circle cx="1132" cy="1572.4" r="5.2"/><circle cx="1142.8" cy="1567.7" r="5.2"/><circle cx="1203.8" cy="1547.5" r="5.2"/><circle cx="1202.3" cy="1778.6" r="5.2"/><circle cx="1214.3" cy="1741.6" r="5.2"/><circle cx="1217.8" cy="1681.6" r="5.2"/><circle cx="1216.5" cy="1762" r="5.2"/><circle cx="1208.3" cy="1747.7" r="5.2"/><circle cx="1216.3" cy="1695.9" r="5.2"/><circle cx="1215.2" cy="1560.9" r="5.2"/><circle cx="1206.3" cy="1743.8" r="5.2"/><circle cx="1214.9" cy="1715" r="5.2"/><circle cx="1209.3" cy="1760.3" r="5.2"/><circle cx="1213.1" cy="1761.7" r="5.2"/><circle cx="1221" cy="1624.4" r="5.2"/><circle cx="1216.7" cy="1645" r="5.2"/><circle cx="1220.5" cy="1727.3" r="5.2"/><circle cx="1212.8" cy="1619.8" r="5.2"/><circle cx="1208.6" cy="1638.2" r="5.2"/><circle cx="1218.5" cy="1717.1" r="5.2"/><circle cx="1205.4" cy="1562.4" r="5.2"/><circle cx="1201.8" cy="1671.6" r="5.2"/><circle cx="1218.8" cy="1618.1" r="5.2"/><circle cx="1205.7" cy="1775" r="5.2"/><circle cx="1219.1" cy="1760.1" r="5.2"/><circle cx="1212.6" cy="1555.6" r="5.2"/><circle cx="1207.3" cy="1727.2" r="5.2"/><circle cx="1215.5" cy="1676.8" r="5.2"/><circle cx="1210" cy="1650.2" r="5.2"/><circle cx="1207.4" cy="1655.3" r="5.2"/><circle cx="1215.2" cy="1681.6" r="5.2"/><circle cx="1205.5" cy="1744.9" r="5.2"/></g>
<path d="M395.4,1471.6V1782.2H1245.2" fill="none" stroke="#4d4d4f" stroke-width="1.3"/>
<text x="387.8" y="1480.9" font-size="26.2" text-anchor="end">0.5</text>
<text x="1488.8" y="1480.9" font-size="26.2" text-anchor="end">0.5</text>
<text x="387.8" y="1542.9" font-size="26.2" text-anchor="end">0.4</text>
<text x="1488.8" y="1542.9" font-size="26.2" text-anchor="end">0.4</text>
<text x="387.8" y="1604.9" font-size="26.2" text-anchor="end">0.3</text>
<text x="1488.8" y="1604.9" font-size="26.2" text-anchor="end">0.3</text>
<text x="387.8" y="1667" font-size="26.2" text-anchor="end">0.2</text>
<text x="1488.8" y="1667" font-size="26.2" text-anchor="end">0.2</text>
<text x="387.8" y="1729" font-size="26.2" text-anchor="end">0.1</text>
<text x="1488.8" y="1729" font-size="26.2" text-anchor="end">0.1</text>
<text x="387.8" y="1791" font-size="26.2" text-anchor="end">0.0</text>
<text x="1488.8" y="1791" font-size="26.2" text-anchor="end">0.0</text>
<text x="333.6" y="1627.5" font-size="30.8" text-anchor="middle" transform="rotate(-90 333.6 1627.5)">DCC</text>
<text x="429.4" y="1813.2" font-size="25.5" text-anchor="middle">0</text>
<text x="500.1" y="1813.2" font-size="25.5" text-anchor="middle">2</text>
<text x="570.5" y="1813.2" font-size="25.5" text-anchor="middle">4</text>
<text x="641.7" y="1813.2" font-size="25.5" text-anchor="middle">6</text>
<text x="712.7" y="1813.2" font-size="25.5" text-anchor="middle">8</text>
<text x="786.1" y="1813.2" font-size="25.5" text-anchor="middle">10</text>
<text x="856" y="1813.2" font-size="25.5" text-anchor="middle">12</text>
<text x="926.4" y="1813.2" font-size="25.5" text-anchor="middle">14</text>
<text x="997.3" y="1813.2" font-size="25.5" text-anchor="middle">16</text>
<text x="1068.5" y="1813.2" font-size="25.5" text-anchor="middle">18</text>
<text x="1138.4" y="1813.2" font-size="25.5" text-anchor="middle">20</text>
<text x="1209.4" y="1813.2" font-size="25.5" text-anchor="middle">22</text>
<text x="820.3" y="1849" font-size="30.5" text-anchor="middle">Zeitgeber Time (h)</text>
<text x="1383.5" y="1415" font-size="45">G</text>
<text x="1625" y="1448.1" font-size="26" text-anchor="middle">p = 0.165</text>
<path d="M1558.7,1466.6V1459.7H1692.4V1466.6" fill="none" stroke="#3a3a3c" stroke-width="1.4"/>
<line x1="1559" y1="1541.7" x2="1559" y2="1667.4" stroke="#4a4a4c" stroke-width="1.9"/>
<line x1="1559" y1="1753.2" x2="1559" y2="1781.4" stroke="#4a4a4c" stroke-width="1.9"/>
<line x1="1531.7" y1="1541.7" x2="1586.3" y2="1541.7" stroke="#4a4a4c" stroke-width="1.9"/>
<line x1="1531.7" y1="1781.4" x2="1586.3" y2="1781.4" stroke="#4a4a4c" stroke-width="1.9"/>
<rect x="1505.4" y="1667.4" width="107.1" height="85.9" fill="#77797c" stroke="#626466" stroke-width="1.8"/>
<line x1="1505.4" y1="1720.7" x2="1612.6" y2="1720.7" stroke="#5a5c5e" stroke-width="1.9"/>
<g fill="#d9dade" fill-opacity="0.45" stroke="#f4f4f6" stroke-width="0.9" stroke-opacity="0.55"><circle cx="1563.6" cy="1541.7" r="3.6"/><circle cx="1555.2" cy="1781.4" r="3.6"/><circle cx="1552.1" cy="1696.3" r="3.6"/><circle cx="1557" cy="1778.3" r="3.6"/><circle cx="1548.9" cy="1763.7" r="3.6"/><circle cx="1558.5" cy="1724" r="3.6"/><circle cx="1551.3" cy="1601.9" r="3.6"/><circle cx="1560.9" cy="1777.1" r="3.6"/><circle cx="1562.1" cy="1741.7" r="3.6"/><circle cx="1566.9" cy="1650.2" r="3.6"/><circle cx="1571.1" cy="1578.1" r="3.6"/><circle cx="1564.4" cy="1718.8" r="3.6"/><circle cx="1566.9" cy="1743.8" r="3.6"/><circle cx="1566.7" cy="1774.9" r="3.6"/><circle cx="1567.8" cy="1739.6" r="3.6"/><circle cx="1564.1" cy="1757.3" r="3.6"/><circle cx="1563.2" cy="1680.1" r="3.6"/><circle cx="1569.6" cy="1656.1" r="3.6"/><circle cx="1564.7" cy="1762.5" r="3.6"/><circle cx="1569.2" cy="1643.3" r="3.6"/><circle cx="1566.1" cy="1725.8" r="3.6"/><circle cx="1550.8" cy="1733" r="3.6"/><circle cx="1567.6" cy="1716.8" r="3.6"/><circle cx="1567" cy="1664" r="3.6"/><circle cx="1557.5" cy="1708.2" r="3.6"/><circle cx="1562.5" cy="1744.2" r="3.6"/><circle cx="1557.5" cy="1586.2" r="3.6"/><circle cx="1571.8" cy="1648.6" r="3.6"/><circle cx="1557.7" cy="1712.6" r="3.6"/><circle cx="1564.5" cy="1700.8" r="3.6"/><circle cx="1559.3" cy="1702.4" r="3.6"/><circle cx="1562.8" cy="1752" r="3.6"/><circle cx="1551.1" cy="1722" r="3.6"/><circle cx="1551.3" cy="1700.1" r="3.6"/><circle cx="1555.1" cy="1644.6" r="3.6"/><circle cx="1555" cy="1688.6" r="3.6"/><circle cx="1564.2" cy="1779.5" r="3.6"/><circle cx="1557.1" cy="1775" r="3.6"/><circle cx="1566.7" cy="1771" r="3.6"/><circle cx="1557" cy="1737.2" r="3.6"/><circle cx="1565.6" cy="1773.7" r="3.6"/><circle cx="1559.6" cy="1708.2" r="3.6"/><circle cx="1556.3" cy="1755.9" r="3.6"/><circle cx="1551.6" cy="1740.9" r="3.6"/><circle cx="1557.7" cy="1599.3" r="3.6"/><circle cx="1557.1" cy="1689.5" r="3.6"/><circle cx="1549.2" cy="1582.5" r="3.6"/><circle cx="1563" cy="1757.1" r="3.6"/><circle cx="1550.1" cy="1659.2" r="3.6"/><circle cx="1554.5" cy="1731.1" r="3.6"/><circle cx="1555.5" cy="1669.2" r="3.6"/><circle cx="1568.3" cy="1775.5" r="3.6"/><circle cx="1556.6" cy="1772" r="3.6"/><circle cx="1548.3" cy="1608.3" r="3.6"/><circle cx="1559.9" cy="1719.2" r="3.6"/><circle cx="1553.3" cy="1732.2" r="3.6"/><circle cx="1551.6" cy="1726.3" r="3.6"/><circle cx="1569.9" cy="1667.9" r="3.6"/><circle cx="1550.1" cy="1709.6" r="3.6"/><circle cx="1552.9" cy="1732" r="3.6"/><circle cx="1550.5" cy="1743.3" r="3.6"/><circle cx="1553.7" cy="1683.7" r="3.6"/><circle cx="1548.8" cy="1611.5" r="3.6"/><circle cx="1560.2" cy="1725.4" r="3.6"/><circle cx="1566.4" cy="1618.7" r="3.6"/><circle cx="1558.6" cy="1769.5" r="3.6"/><circle cx="1563.4" cy="1775.7" r="3.6"/><circle cx="1567.9" cy="1662" r="3.6"/><circle cx="1562.8" cy="1777.2" r="3.6"/><circle cx="1551.4" cy="1575.7" r="3.6"/><circle cx="1567.5" cy="1672" r="3.6"/><circle cx="1571.6" cy="1781.2" r="3.6"/><circle cx="1571.8" cy="1774.5" r="3.6"/><circle cx="1553.2" cy="1652.3" r="3.6"/><circle cx="1568.5" cy="1746.2" r="3.6"/><circle cx="1553.9" cy="1707.9" r="3.6"/><circle cx="1554.8" cy="1761.8" r="3.6"/><circle cx="1557.8" cy="1763.5" r="3.6"/><circle cx="1564.1" cy="1752.9" r="3.6"/><circle cx="1556.7" cy="1661.1" r="3.6"/><circle cx="1554.7" cy="1714.6" r="3.6"/><circle cx="1555.8" cy="1728.3" r="3.6"/><circle cx="1548.8" cy="1634" r="3.6"/><circle cx="1562" cy="1659.9" r="3.6"/><circle cx="1563.5" cy="1706.6" r="3.6"/><circle cx="1558.6" cy="1731.3" r="3.6"/><circle cx="1571.3" cy="1770.1" r="3.6"/><circle cx="1566.6" cy="1648.8" r="3.6"/><circle cx="1556.2" cy="1686.6" r="3.6"/><circle cx="1562.1" cy="1745.4" r="3.6"/><circle cx="1560.2" cy="1762.6" r="3.6"/><circle cx="1552.7" cy="1690.4" r="3.6"/><circle cx="1557" cy="1763.1" r="3.6"/><circle cx="1564" cy="1690.6" r="3.6"/><circle cx="1556.5" cy="1777.9" r="3.6"/><circle cx="1551.8" cy="1749.3" r="3.6"/><circle cx="1556.8" cy="1553.9" r="3.6"/><circle cx="1553" cy="1696.1" r="3.6"/><circle cx="1555.6" cy="1723.8" r="3.6"/><circle cx="1549.6" cy="1663.3" r="3.6"/><circle cx="1560.8" cy="1754.7" r="3.6"/><circle cx="1558" cy="1727" r="3.6"/><circle cx="1554.8" cy="1766.2" r="3.6"/><circle cx="1564.2" cy="1777.3" r="3.6"/><circle cx="1569.4" cy="1716.5" r="3.6"/><circle cx="1557.3" cy="1643.1" r="3.6"/><circle cx="1555.5" cy="1626.7" r="3.6"/><circle cx="1565.7" cy="1741" r="3.6"/><circle cx="1566.5" cy="1774" r="3.6"/><circle cx="1554.6" cy="1691.4" r="3.6"/><circle cx="1557.5" cy="1771.1" r="3.6"/><circle cx="1550.8" cy="1768.8" r="3.6"/><circle cx="1566.8" cy="1760.7" r="3.6"/><circle cx="1560.6" cy="1633.4" r="3.6"/><circle cx="1569" cy="1618.8" r="3.6"/><circle cx="1558.7" cy="1730.7" r="3.6"/><circle cx="1555.7" cy="1740.3" r="3.6"/><circle cx="1569.6" cy="1730.7" r="3.6"/><circle cx="1548.1" cy="1771" r="3.6"/><circle cx="1558.5" cy="1777.1" r="3.6"/><circle cx="1561.2" cy="1778.8" r="3.6"/><circle cx="1557.7" cy="1655.4" r="3.6"/><circle cx="1565.6" cy="1679.8" r="3.6"/><circle cx="1566.6" cy="1698.9" r="3.6"/><circle cx="1565.5" cy="1774.1" r="3.6"/><circle cx="1556" cy="1722.7" r="3.6"/><circle cx="1560.3" cy="1749.1" r="3.6"/><circle cx="1552.2" cy="1625.8" r="3.6"/><circle cx="1549.4" cy="1758.2" r="3.6"/><circle cx="1549.2" cy="1601.5" r="3.6"/><circle cx="1566.8" cy="1671" r="3.6"/><circle cx="1561" cy="1743.8" r="3.6"/><circle cx="1560.6" cy="1752.8" r="3.6"/><circle cx="1564.3" cy="1729.9" r="3.6"/><circle cx="1564.4" cy="1631.7" r="3.6"/><circle cx="1563.4" cy="1760.7" r="3.6"/><circle cx="1559.7" cy="1747.1" r="3.6"/><circle cx="1566.5" cy="1780.1" r="3.6"/><circle cx="1551.9" cy="1759.3" r="3.6"/><circle cx="1563.5" cy="1668.5" r="3.6"/><circle cx="1556" cy="1576.7" r="3.6"/><circle cx="1550.9" cy="1748.8" r="3.6"/><circle cx="1564.6" cy="1777" r="3.6"/><circle cx="1569.2" cy="1712.1" r="3.6"/><circle cx="1551.2" cy="1752.2" r="3.6"/><circle cx="1550.4" cy="1683" r="3.6"/><circle cx="1560.8" cy="1671" r="3.6"/><circle cx="1559.1" cy="1668.9" r="3.6"/><circle cx="1549.9" cy="1776.2" r="3.6"/><circle cx="1553.8" cy="1683.3" r="3.6"/><circle cx="1557" cy="1483.4" r="3.6"/><circle cx="1551" cy="1525.5" r="3.6"/><circle cx="1562" cy="1533" r="3.6"/></g>
<line x1="1691.8" y1="1566.9" x2="1691.8" y2="1667.4" stroke="#4a4a4c" stroke-width="1.9"/>
<line x1="1691.8" y1="1738.9" x2="1691.8" y2="1780.6" stroke="#4a4a4c" stroke-width="1.9"/>
<line x1="1664.8" y1="1566.9" x2="1719.2" y2="1566.9" stroke="#4a4a4c" stroke-width="1.9"/>
<line x1="1664.8" y1="1780.6" x2="1719.2" y2="1780.6" stroke="#4a4a4c" stroke-width="1.9"/>
<rect x="1638" y="1667.4" width="107.4" height="71.5" fill="#eeedd8" stroke="#4a4a4c" stroke-width="1.8"/>
<line x1="1638" y1="1711" x2="1745.4" y2="1711" stroke="#4a4a4c" stroke-width="1.9"/>
<g fill="#d9dade" fill-opacity="0.45" stroke="#f4f4f6" stroke-width="0.9" stroke-opacity="0.55"><circle cx="1688.4" cy="1566.9" r="3.6"/><circle cx="1703.1" cy="1780.6" r="3.6"/><circle cx="1694.9" cy="1694.6" r="3.6"/><circle cx="1684" cy="1707" r="3.6"/><circle cx="1686.2" cy="1651" r="3.6"/><circle cx="1694.1" cy="1697.9" r="3.6"/><circle cx="1692.3" cy="1698.3" r="3.6"/><circle cx="1694.6" cy="1693.2" r="3.6"/><circle cx="1699.4" cy="1764.3" r="3.6"/><circle cx="1687.5" cy="1764.8" r="3.6"/><circle cx="1691.3" cy="1628" r="3.6"/><circle cx="1681" cy="1668.2" r="3.6"/><circle cx="1695" cy="1609.3" r="3.6"/><circle cx="1702.8" cy="1739.7" r="3.6"/><circle cx="1704.2" cy="1733.5" r="3.6"/><circle cx="1696.8" cy="1775.4" r="3.6"/><circle cx="1693" cy="1626.8" r="3.6"/><circle cx="1682.1" cy="1677.8" r="3.6"/><circle cx="1688.2" cy="1703.6" r="3.6"/><circle cx="1696.5" cy="1741.7" r="3.6"/><circle cx="1691.4" cy="1716.8" r="3.6"/><circle cx="1693.6" cy="1718.6" r="3.6"/><circle cx="1683.6" cy="1648.4" r="3.6"/><circle cx="1687.6" cy="1756.9" r="3.6"/><circle cx="1687.2" cy="1618.1" r="3.6"/><circle cx="1681.7" cy="1759.6" r="3.6"/><circle cx="1701.1" cy="1637.2" r="3.6"/><circle cx="1683.9" cy="1719.9" r="3.6"/><circle cx="1691.8" cy="1725.4" r="3.6"/><circle cx="1691.5" cy="1652.2" r="3.6"/><circle cx="1703" cy="1712.6" r="3.6"/><circle cx="1700" cy="1734.5" r="3.6"/><circle cx="1684.6" cy="1705.9" r="3.6"/><circle cx="1703" cy="1722.2" r="3.6"/><circle cx="1700.3" cy="1634.7" r="3.6"/><circle cx="1699.4" cy="1721.9" r="3.6"/><circle cx="1699.2" cy="1659.4" r="3.6"/><circle cx="1703.5" cy="1669.3" r="3.6"/><circle cx="1701.8" cy="1679.8" r="3.6"/><circle cx="1698.1" cy="1577.8" r="3.6"/><circle cx="1693.4" cy="1745.5" r="3.6"/><circle cx="1695.6" cy="1687.2" r="3.6"/><circle cx="1701.9" cy="1771.8" r="3.6"/><circle cx="1687.1" cy="1734.4" r="3.6"/><circle cx="1701.1" cy="1687.6" r="3.6"/><circle cx="1696.9" cy="1727.2" r="3.6"/><circle cx="1692.6" cy="1718.7" r="3.6"/><circle cx="1694.3" cy="1697.6" r="3.6"/><circle cx="1698.7" cy="1723.5" r="3.6"/><circle cx="1684.1" cy="1706.2" r="3.6"/><circle cx="1689.3" cy="1772.5" r="3.6"/><circle cx="1684.4" cy="1650.5" r="3.6"/><circle cx="1691.2" cy="1610.5" r="3.6"/><circle cx="1696.3" cy="1679.3" r="3.6"/><circle cx="1691.5" cy="1772.5" r="3.6"/><circle cx="1696.2" cy="1773.3" r="3.6"/><circle cx="1691.9" cy="1716.5" r="3.6"/><circle cx="1701.6" cy="1648.5" r="3.6"/><circle cx="1699.9" cy="1644.8" r="3.6"/><circle cx="1687.4" cy="1633.2" r="3.6"/><circle cx="1692.4" cy="1780.1" r="3.6"/><circle cx="1704.1" cy="1750" r="3.6"/><circle cx="1691.1" cy="1734.8" r="3.6"/><circle cx="1685.7" cy="1713.4" r="3.6"/><circle cx="1681.6" cy="1636.5" r="3.6"/><circle cx="1688" cy="1729.4" r="3.6"/><circle cx="1703.7" cy="1676.3" r="3.6"/><circle cx="1694" cy="1768.4" r="3.6"/><circle cx="1687.7" cy="1682.9" r="3.6"/><circle cx="1681.5" cy="1673.6" r="3.6"/><circle cx="1691.9" cy="1683.7" r="3.6"/><circle cx="1683.6" cy="1696.7" r="3.6"/><circle cx="1685.3" cy="1626.7" r="3.6"/><circle cx="1695.8" cy="1718.9" r="3.6"/><circle cx="1699.5" cy="1693" r="3.6"/><circle cx="1702.8" cy="1608.1" r="3.6"/><circle cx="1700.7" cy="1630.4" r="3.6"/><circle cx="1702" cy="1608.1" r="3.6"/><circle cx="1693.3" cy="1760.5" r="3.6"/><circle cx="1691.6" cy="1750.8" r="3.6"/><circle cx="1690.6" cy="1707.9" r="3.6"/><circle cx="1702.4" cy="1697" r="3.6"/><circle cx="1700.2" cy="1769.4" r="3.6"/><circle cx="1700.2" cy="1711.2" r="3.6"/><circle cx="1683.4" cy="1635.1" r="3.6"/><circle cx="1684.5" cy="1725.2" r="3.6"/><circle cx="1699.4" cy="1640.6" r="3.6"/><circle cx="1695.6" cy="1662.4" r="3.6"/><circle cx="1702.5" cy="1767.9" r="3.6"/><circle cx="1684.8" cy="1779" r="3.6"/><circle cx="1685" cy="1629.3" r="3.6"/><circle cx="1684" cy="1711.6" r="3.6"/><circle cx="1683.8" cy="1766.5" r="3.6"/><circle cx="1683.4" cy="1709" r="3.6"/><circle cx="1704.4" cy="1780.5" r="3.6"/><circle cx="1686.6" cy="1729.8" r="3.6"/><circle cx="1700.6" cy="1720" r="3.6"/><circle cx="1694.8" cy="1730.6" r="3.6"/><circle cx="1684.1" cy="1720.5" r="3.6"/><circle cx="1704.5" cy="1748.9" r="3.6"/><circle cx="1700.3" cy="1766.7" r="3.6"/><circle cx="1685.5" cy="1729.8" r="3.6"/><circle cx="1695" cy="1607.4" r="3.6"/><circle cx="1692.5" cy="1753.8" r="3.6"/><circle cx="1690.8" cy="1748.2" r="3.6"/><circle cx="1689.7" cy="1663.9" r="3.6"/><circle cx="1689" cy="1714.4" r="3.6"/><circle cx="1690.6" cy="1621.5" r="3.6"/><circle cx="1698.3" cy="1684.2" r="3.6"/><circle cx="1685.3" cy="1765.2" r="3.6"/><circle cx="1703.8" cy="1676" r="3.6"/><circle cx="1701.7" cy="1679.6" r="3.6"/><circle cx="1684" cy="1701.1" r="3.6"/><circle cx="1693.9" cy="1677.3" r="3.6"/><circle cx="1691.6" cy="1674.5" r="3.6"/><circle cx="1691.5" cy="1704.7" r="3.6"/><circle cx="1690.7" cy="1669.3" r="3.6"/><circle cx="1682.6" cy="1754.1" r="3.6"/><circle cx="1697.7" cy="1713.9" r="3.6"/><circle cx="1682.2" cy="1669.3" r="3.6"/><circle cx="1700.6" cy="1742.6" r="3.6"/><circle cx="1696.6" cy="1722.7" r="3.6"/><circle cx="1690.4" cy="1750.8" r="3.6"/><circle cx="1695.3" cy="1624.6" r="3.6"/><circle cx="1693.4" cy="1762" r="3.6"/><circle cx="1701.7" cy="1698" r="3.6"/><circle cx="1682.7" cy="1734.9" r="3.6"/><circle cx="1682.2" cy="1735.6" r="3.6"/><circle cx="1693.9" cy="1653.6" r="3.6"/><circle cx="1699" cy="1657.8" r="3.6"/><circle cx="1688.7" cy="1747.4" r="3.6"/><circle cx="1702.7" cy="1711.6" r="3.6"/><circle cx="1682.6" cy="1646.8" r="3.6"/><circle cx="1689.3" cy="1756.6" r="3.6"/><circle cx="1701.3" cy="1731" r="3.6"/><circle cx="1699.4" cy="1705.7" r="3.6"/><circle cx="1682.1" cy="1670.2" r="3.6"/><circle cx="1697.2" cy="1764.6" r="3.6"/><circle cx="1682.5" cy="1742.9" r="3.6"/><circle cx="1683.4" cy="1733.2" r="3.6"/><circle cx="1684.4" cy="1716.5" r="3.6"/><circle cx="1704.1" cy="1733.9" r="3.6"/><circle cx="1685.9" cy="1682.9" r="3.6"/><circle cx="1685.8" cy="1669.2" r="3.6"/><circle cx="1691.5" cy="1668.3" r="3.6"/><circle cx="1690.6" cy="1749.8" r="3.6"/><circle cx="1690.5" cy="1709.8" r="3.6"/><circle cx="1686.4" cy="1713.7" r="3.6"/><circle cx="1696.4" cy="1727.5" r="3.6"/><circle cx="1697.5" cy="1574.2" r="3.6"/><circle cx="1690.8" cy="1483.4" r="3.6"/><circle cx="1697.8" cy="1492.5" r="3.6"/><circle cx="1685.8" cy="1509.5" r="3.6"/><circle cx="1698.8" cy="1517.5" r="3.6"/><circle cx="1695.8" cy="1520.5" r="3.6"/><circle cx="1678.8" cy="1524" r="3.6"/><circle cx="1681.8" cy="1553.3" r="3.6"/><circle cx="1701.8" cy="1557.8" r="3.6"/></g>
<path d="M1492.7,1471.6V1782.2H1758.6" fill="none" stroke="#6d6e71" stroke-width="1.2"/>
<text x="1440.4" y="1627.5" font-size="30.8" text-anchor="middle" transform="rotate(-90 1440.4 1627.5)">DCC</text>
<text x="1559" y="1813.2" font-size="26" text-anchor="middle">Dark</text>
<text x="1691.8" y="1813.2" font-size="26" text-anchor="middle">Light</text>
<text x="1625.1" y="1852.5" font-size="30.3" text-anchor="middle">Condition</text>
</g>
</svg>
</body>
</html>
